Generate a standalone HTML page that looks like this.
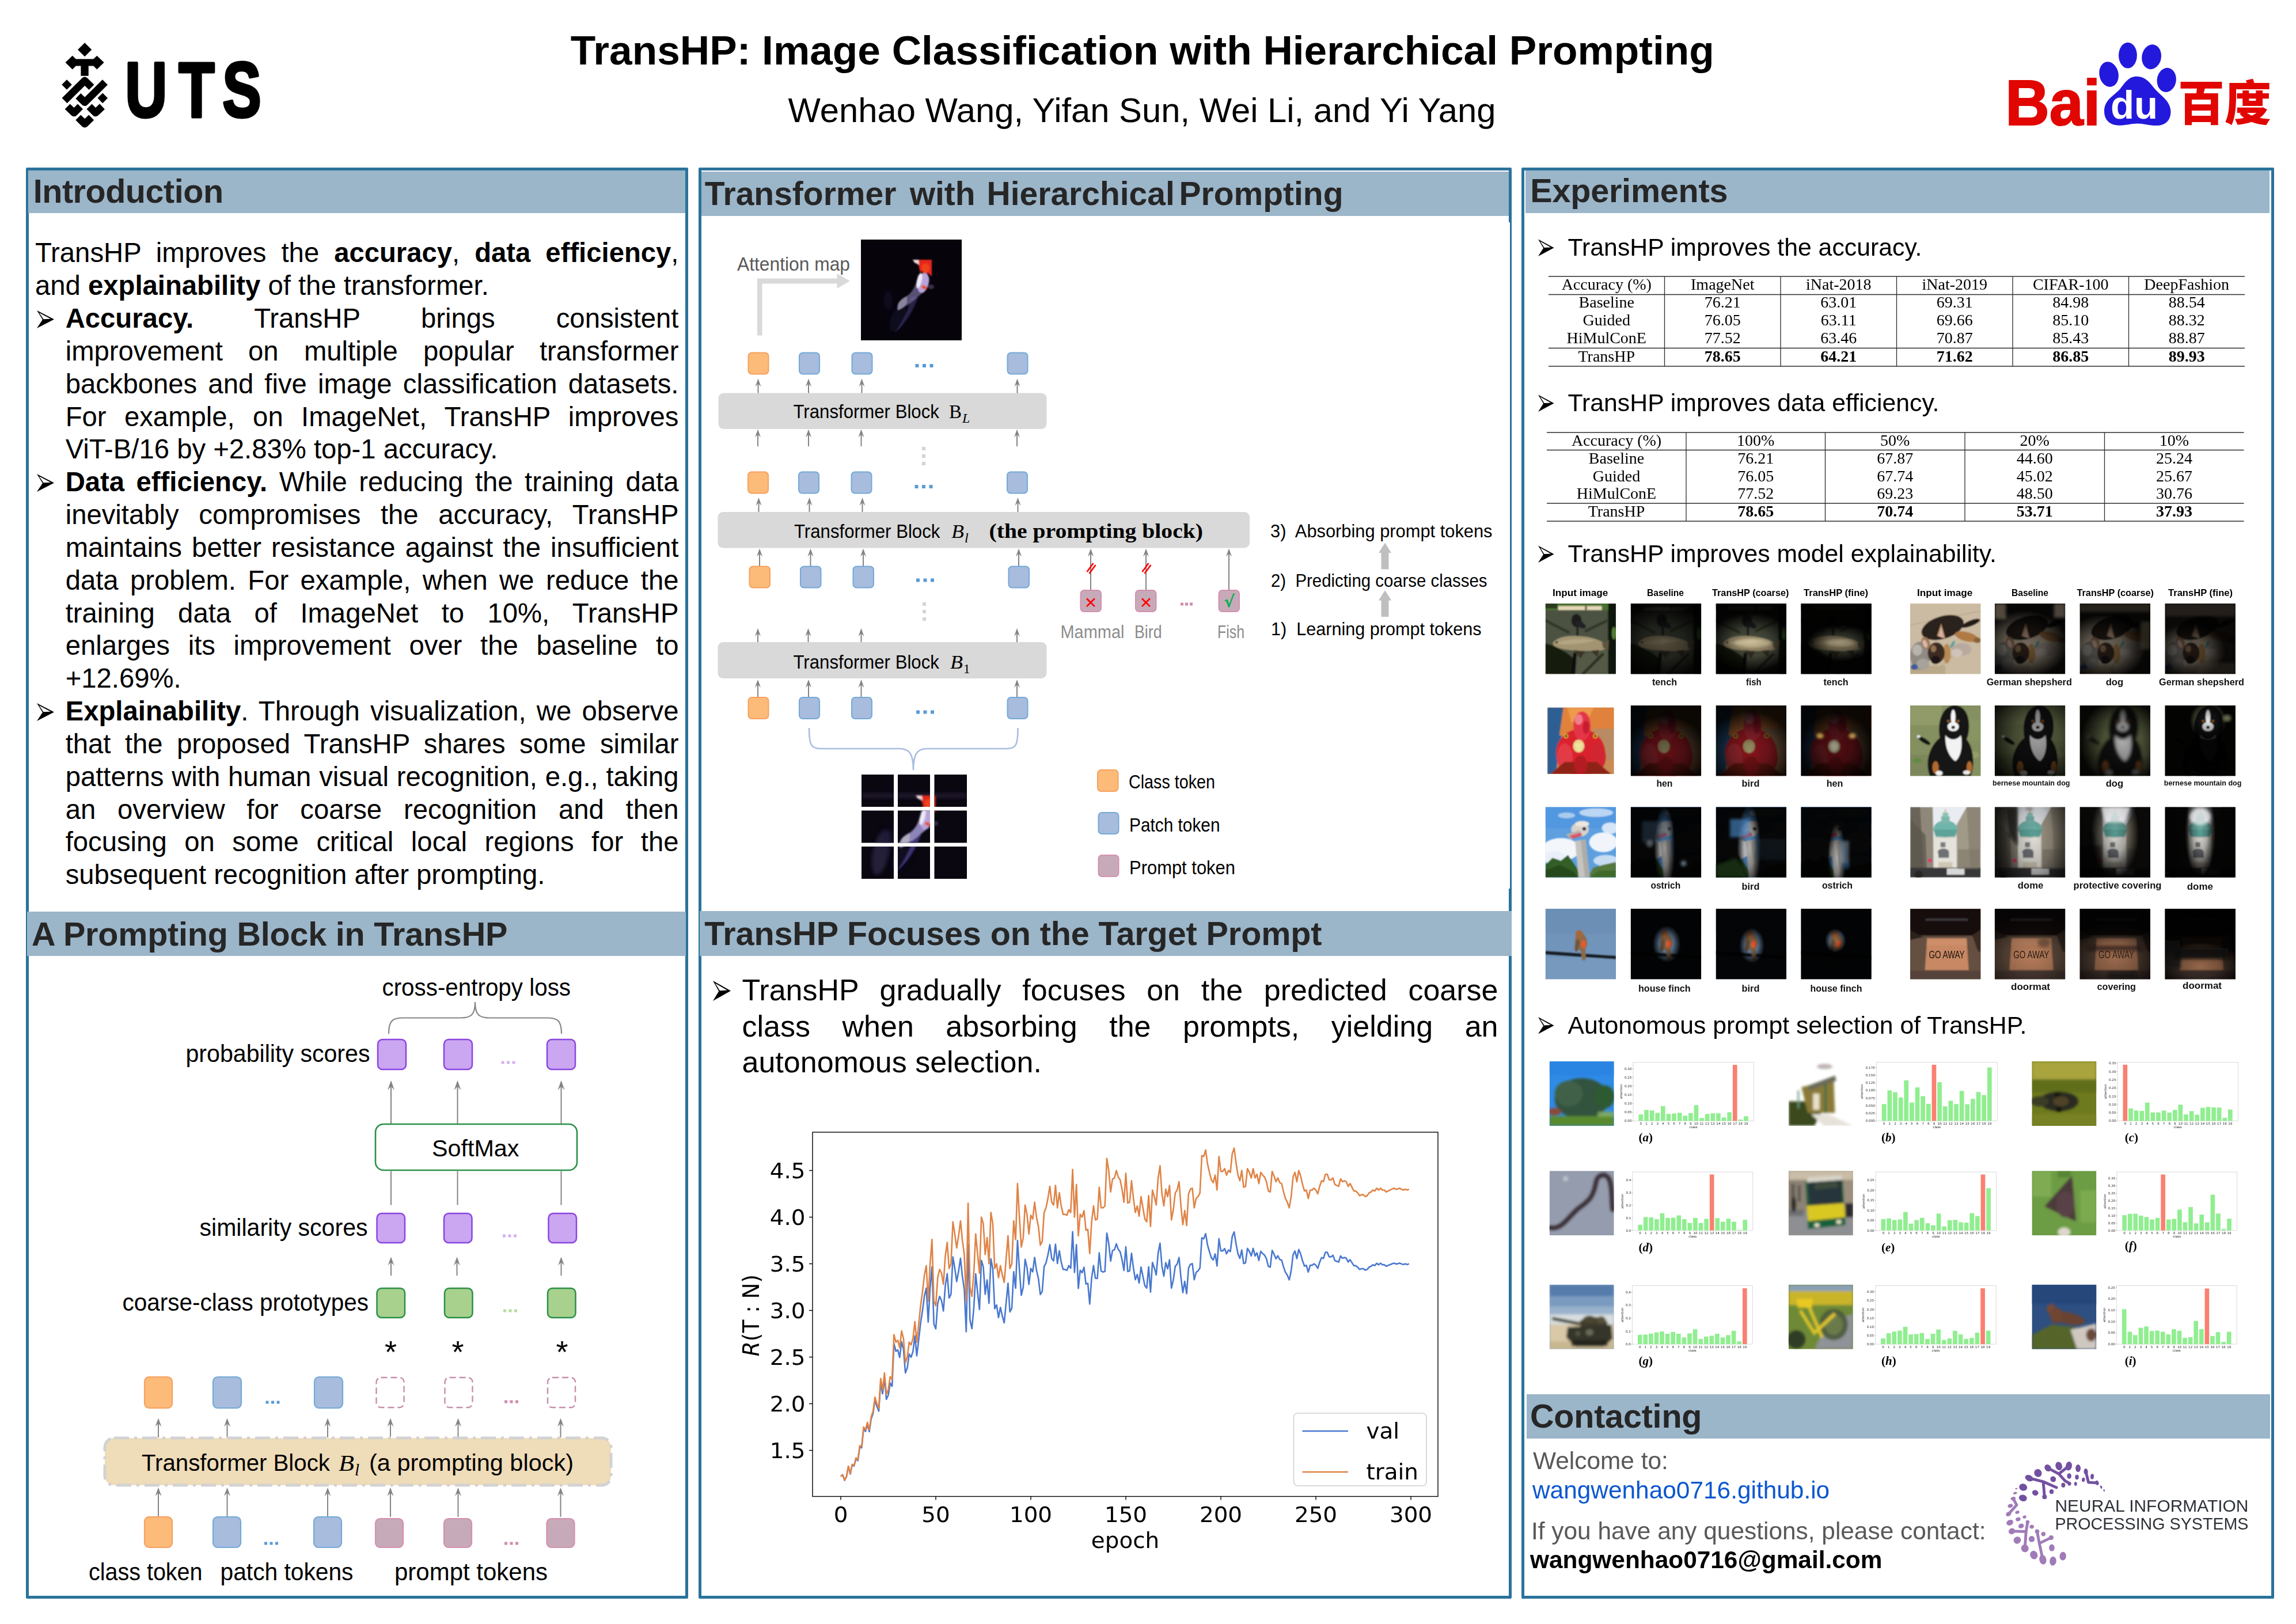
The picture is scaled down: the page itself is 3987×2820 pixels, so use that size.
<!DOCTYPE html>
<html lang="en"><head><meta charset="utf-8"><title>TransHP poster</title>
<style>
*{box-sizing:border-box;margin:0;padding:0}
html,body{width:3987px;height:2820px;background:#fff;overflow:hidden}
body{position:relative;font-family:"Liberation Sans",sans-serif;color:#000}
.abs{position:absolute}
.panel{position:absolute;border:5px solid #2a739b;border-radius:2px}
.band{position:absolute;background:#9bb5c9}
.h{position:absolute;font-weight:bold;font-size:57.5px;line-height:60px;color:#262626;white-space:nowrap;letter-spacing:-0.2px}
.t{position:absolute;white-space:nowrap}
body>svg,div>svg{position:absolute;overflow:visible}
svg text{white-space:pre}

.title{position:absolute;left:0;width:3967.5px;text-align:center;font-weight:bold;font-size:71.2px;line-height:80px;top:48.2px;white-space:nowrap}
.auth{position:absolute;left:0;width:3966px;text-align:center;font-size:59.75px;line-height:70px;top:157.2px;white-space:nowrap}

.intro{position:absolute;left:61px;top:411.3px;width:1117.5px;font-size:47.25px;line-height:56.85px;text-align:justify}
.intro .li{position:relative;padding-left:52.7px}

.foc{position:absolute;left:1288.5px;top:1688px;width:1313px;font-size:52px;line-height:62.7px;text-align:justify}
.foc .jl{text-align-last:justify;white-space:nowrap}
</style></head>
<body>
<div class="title">TransHP: Image Classification with Hierarchical Prompting</div>
<div class="auth">Wenhao Wang, Yifan Sun, Wei Li, and Yi Yang</div>
<svg class="abs" style="left:0;top:0" width="3987" height="2820" viewBox="0 0 3987 2820" font-family="Liberation Sans,sans-serif" ><g transform="translate(80,50) scale(0.18292,0.18292)" fill="#000"><polygon points="367,132 433,198 367,264 301,198"/><polygon points="183,320 250,255 283,287 450,287 483,255 550,320 483,385 450,353 403,353 403,447 330,447 330,353 283,353 250,385"/><polygon points="197,482 245,530 197,578 149,530"/><polygon points="537,610 585,658 537,706 489,658"/><path d="M175,682 L367,492 L432,555" fill="none" stroke="#000" stroke-width="70" stroke-linejoin="round"/><path d="M305,638 L367,698 L560,507" fill="none" stroke="#000" stroke-width="70" stroke-linejoin="round"/><path d="M203,738 L265,798 L325,738" fill="none" stroke="#000" stroke-width="70" stroke-linejoin="round"/><path d="M410,738 L470,798 L533,738" fill="none" stroke="#000" stroke-width="70" stroke-linejoin="round"/><path d="M305,842 L367,903 L430,842" fill="none" stroke="#000" stroke-width="70" stroke-linejoin="round"/></g><text x="217.22" y="203.3" font-size="136" font-weight="bold" textLength="72.96" lengthAdjust="spacingAndGlyphs" stroke="#000" stroke-width="5" stroke-linejoin="round">U</text><text x="310.26" y="203.3" font-size="136" font-weight="bold" textLength="62.28" lengthAdjust="spacingAndGlyphs" stroke="#000" stroke-width="5" stroke-linejoin="round">T</text><text x="386.2" y="203.3" font-size="136" font-weight="bold" textLength="67.46" lengthAdjust="spacingAndGlyphs" stroke="#000" stroke-width="5" stroke-linejoin="round">S</text><text x="3482.2" y="216.6" font-size="111.7" fill="#e10601" font-weight="bold" textLength="165" lengthAdjust="spacingAndGlyphs" stroke="#e10601" stroke-width="2.2">Bai</text><g transform="translate(3470,50) scale(0.21777)" fill="#2319dc"><ellipse cx="882" cy="363" rx="76" ry="101" transform="rotate(-12 882 363)"/><ellipse cx="1033" cy="212" rx="73" ry="103"/><ellipse cx="1222" cy="224" rx="77" ry="99" transform="rotate(10 1222 224)"/><ellipse cx="1342" cy="408" rx="76" ry="97" transform="rotate(8 1342 408)"/><path d="M1105,380 C1040,380 1010,430 975,475 C930,530 850,560 845,650 C842,735 900,770 960,770 C1020,770 1060,755 1110,755 C1160,755 1200,772 1260,772 C1330,772 1378,730 1375,655 C1370,570 1290,530 1245,475 C1205,425 1170,380 1105,380 Z"/></g><text x="3706" y="206.3" font-size="68" fill="#fff" font-weight="bold" text-anchor="middle" textLength="82" lengthAdjust="spacingAndGlyphs">du</text><text x="3782" y="209" font-size="82.5" fill="#e10601" font-weight="900" font-family="Liberation Sans,Noto Sans CJK SC,sans-serif" textLength="162" lengthAdjust="spacingAndGlyphs">百度</text></svg>
<div class="panel" style="left:44.5px;top:291px;width:1150.5px;height:2484.7px"></div>
<div class="panel" style="left:1213.4px;top:291px;width:1411.6px;height:2484.7px"></div>
<div class="panel" style="left:2642.3px;top:291px;width:1306.5px;height:2484.7px"></div>
<div class="abs" style="left:2616px;top:385.6px;width:6px;height:1157.4px;background:#fff"></div>
<div class="band" style="left:49px;top:295.6px;width:1141.3px;height:74px"></div>
<div class="h" style="left:57.7px;top:302.3px;letter-spacing:-0.45px">Introduction</div>
<div class="band" style="left:47px;top:1583px;width:1144px;height:77px"></div>
<div class="h" style="left:55px;top:1591.5px">A Prompting Block in TransHP</div>
<div class="intro"><div>TransHP improves the <b>accuracy</b>, <b>data efficiency</b>, and <b>explainability</b> of the transformer.</div><div class="li"><svg class="abs" style="left:3px;top:14px" width="30" height="32" viewBox="0 0 30 32"><path d="M0,0 L30,15.5 L0,31 L9.9,16.12 Z" fill="#000"/><path d="M3.9,4.03 L24,14.72 L11.55,15.19 Z" fill="#fff"/></svg><b>Accuracy.</b> TransHP brings consistent improvement on multiple popular transformer backbones and five image classification datasets. For example, on ImageNet, TransHP improves ViT-B/16 by +2.83% top-1 accuracy.</div><div class="li"><svg class="abs" style="left:3px;top:14px" width="30" height="32" viewBox="0 0 30 32"><path d="M0,0 L30,15.5 L0,31 L9.9,16.12 Z" fill="#000"/><path d="M3.9,4.03 L24,14.72 L11.55,15.19 Z" fill="#fff"/></svg><b>Data efficiency.</b> While reducing the training data inevitably compromises the accuracy, TransHP maintains better resistance against the insufficient data problem. For example, when we reduce the training data of ImageNet to 10%, TransHP enlarges its improvement over the baseline to +12.69%.</div><div class="li"><svg class="abs" style="left:3px;top:14px" width="30" height="32" viewBox="0 0 30 32"><path d="M0,0 L30,15.5 L0,31 L9.9,16.12 Z" fill="#000"/><path d="M3.9,4.03 L24,14.72 L11.55,15.19 Z" fill="#fff"/></svg><b>Explainability</b>. Through visualization, we observe that the proposed TransHP shares some similar patterns with human visual recognition, e.g., taking an overview for coarse recognition and then focusing on some critical local regions for the subsequent recognition after prompting.</div></div>
<svg class="abs" style="left:0;top:0" width="3987" height="2820" viewBox="0 0 3987 2820" font-family="Liberation Sans,sans-serif" ><text x="663.5" y="1728.7" font-size="42.5" textLength="327.5" lengthAdjust="spacingAndGlyphs">cross-entropy loss</text><path d="M675,1795 C675,1772 682,1767.5 700,1767.5 L800,1767.5 C818,1767.5 825,1762 825,1740 C825,1762 832,1767.5 850,1767.5 L950,1767.5 C968,1767.5 975,1772 975,1795" fill="none" stroke="#868686" stroke-width="2.2"/><text x="322.5" y="1843.7" font-size="42.5" textLength="320" lengthAdjust="spacingAndGlyphs">probability scores</text><rect x="656" y="1805" width="49" height="52" fill="#cba6f1" stroke="#8b46e2" stroke-width="2.5" rx="8"/><rect x="771" y="1805" width="49" height="52" fill="#cba6f1" stroke="#8b46e2" stroke-width="2.5" rx="8"/><rect x="950" y="1805" width="49" height="52" fill="#cba6f1" stroke="#8b46e2" stroke-width="2.5" rx="8"/><rect x="870.5" y="1842.5" width="5" height="5" fill="#d3b3f3"/><rect x="880" y="1842.5" width="5" height="5" fill="#d3b3f3"/><rect x="889.5" y="1842.5" width="5" height="5" fill="#d3b3f3"/><line x1="679" y1="1951" x2="679" y2="1885.35" stroke="#848484" stroke-width="2" /><path d="M679,1876 L685,1893 L679,1886.54 L673,1893 Z" fill="#848484"/><line x1="794.5" y1="1951" x2="794.5" y2="1885.35" stroke="#848484" stroke-width="2" /><path d="M794.5,1876 L800.5,1893 L794.5,1886.54 L788.5,1893 Z" fill="#848484"/><line x1="974.5" y1="1951" x2="974.5" y2="1885.35" stroke="#848484" stroke-width="2" /><path d="M974.5,1876 L980.5,1893 L974.5,1886.54 L968.5,1893 Z" fill="#848484"/><rect x="652" y="1952" width="350" height="80" fill="#fff" stroke="#2a9048" stroke-width="2.6" rx="14"/><text x="750" y="2007.7" font-size="41" textLength="151.5" lengthAdjust="spacingAndGlyphs">SoftMax</text><line x1="679" y1="2033.5" x2="679" y2="2092.5" stroke="#868686" stroke-width="2" /><line x1="794.5" y1="2033.5" x2="794.5" y2="2092.5" stroke="#868686" stroke-width="2" /><line x1="974.5" y1="2033.5" x2="974.5" y2="2092.5" stroke="#868686" stroke-width="2" /><text x="346.5" y="2146.2" font-size="42.5" textLength="292" lengthAdjust="spacingAndGlyphs">similarity scores</text><rect x="654.5" y="2107" width="48.5" height="51" fill="#cba6f1" stroke="#8b46e2" stroke-width="2.5" rx="8"/><rect x="771" y="2107" width="48.5" height="51" fill="#cba6f1" stroke="#8b46e2" stroke-width="2.5" rx="8"/><rect x="952.5" y="2107" width="48.5" height="51" fill="#cba6f1" stroke="#8b46e2" stroke-width="2.5" rx="8"/><rect x="873" y="2143.5" width="5" height="5" fill="#d3b3f3"/><rect x="882.5" y="2143.5" width="5" height="5" fill="#d3b3f3"/><rect x="892" y="2143.5" width="5" height="5" fill="#d3b3f3"/><line x1="679" y1="2215" x2="679" y2="2190.75" stroke="#848484" stroke-width="2" /><path d="M679,2182.5 L684.5,2197.5 L679,2191.8 L673.5,2197.5 Z" fill="#848484"/><line x1="793.5" y1="2215" x2="793.5" y2="2190.75" stroke="#848484" stroke-width="2" /><path d="M793.5,2182.5 L799,2197.5 L793.5,2191.8 L788,2197.5 Z" fill="#848484"/><line x1="974.5" y1="2215" x2="974.5" y2="2190.75" stroke="#848484" stroke-width="2" /><path d="M974.5,2182.5 L980,2197.5 L974.5,2191.8 L969,2197.5 Z" fill="#848484"/><text x="212.5" y="2276.2" font-size="42.5" textLength="427.5" lengthAdjust="spacingAndGlyphs">coarse-class prototypes</text><rect x="654.5" y="2237" width="48.5" height="51" fill="#a9d18e" stroke="#2a9048" stroke-width="2.5" rx="8"/><rect x="772" y="2237" width="48.5" height="51" fill="#a9d18e" stroke="#2a9048" stroke-width="2.5" rx="8"/><rect x="951" y="2237" width="48.5" height="51" fill="#a9d18e" stroke="#2a9048" stroke-width="2.5" rx="8"/><rect x="874" y="2273.5" width="5" height="5" fill="#b5dc9c"/><rect x="883.5" y="2273.5" width="5" height="5" fill="#b5dc9c"/><rect x="893" y="2273.5" width="5" height="5" fill="#b5dc9c"/><text x="678.5" y="2365.7" font-size="54" text-anchor="middle">*</text><text x="795" y="2365.7" font-size="54" text-anchor="middle">*</text><text x="976" y="2365.7" font-size="54" text-anchor="middle">*</text><rect x="251" y="2391" width="48" height="54" fill="#fdbb7a" stroke="#f5a15e" stroke-width="2.2" rx="8"/><rect x="370" y="2391" width="49" height="54" fill="#a8bcde" stroke="#74aad6" stroke-width="2.2" rx="8"/><rect x="546" y="2391" width="49" height="54" fill="#a8bcde" stroke="#74aad6" stroke-width="2.2" rx="8"/><rect x="461.5" y="2432.5" width="5" height="5" fill="#5b9bd5"/><rect x="471" y="2432.5" width="5" height="5" fill="#5b9bd5"/><rect x="480.5" y="2432.5" width="5" height="5" fill="#5b9bd5"/><rect x="653.5" y="2392" width="48" height="52" fill="#fff" stroke="#c78fab" stroke-width="2.4" rx="8" stroke-dasharray="11 6"/><rect x="772.5" y="2392" width="48" height="52" fill="#fff" stroke="#c78fab" stroke-width="2.4" rx="8" stroke-dasharray="11 6"/><rect x="951" y="2392" width="48" height="52" fill="#fff" stroke="#c78fab" stroke-width="2.4" rx="8" stroke-dasharray="11 6"/><rect x="876" y="2431.5" width="5" height="5" fill="#d08cae"/><rect x="885.5" y="2431.5" width="5" height="5" fill="#d08cae"/><rect x="895" y="2431.5" width="5" height="5" fill="#d08cae"/><line x1="275" y1="2496" x2="275" y2="2470.75" stroke="#848484" stroke-width="2" /><path d="M275,2462.5 L280.5,2477.5 L275,2471.8 L269.5,2477.5 Z" fill="#848484"/><line x1="394.5" y1="2496" x2="394.5" y2="2470.75" stroke="#848484" stroke-width="2" /><path d="M394.5,2462.5 L400,2477.5 L394.5,2471.8 L389,2477.5 Z" fill="#848484"/><line x1="569" y1="2496" x2="569" y2="2470.75" stroke="#848484" stroke-width="2" /><path d="M569,2462.5 L574.5,2477.5 L569,2471.8 L563.5,2477.5 Z" fill="#848484"/><line x1="678" y1="2496" x2="678" y2="2470.75" stroke="#848484" stroke-width="2" /><path d="M678,2462.5 L683.5,2477.5 L678,2471.8 L672.5,2477.5 Z" fill="#848484"/><line x1="795.5" y1="2496" x2="795.5" y2="2470.75" stroke="#848484" stroke-width="2" /><path d="M795.5,2462.5 L801,2477.5 L795.5,2471.8 L790,2477.5 Z" fill="#848484"/><line x1="973.5" y1="2496" x2="973.5" y2="2470.75" stroke="#848484" stroke-width="2" /><path d="M973.5,2462.5 L979,2477.5 L973.5,2471.8 L968,2477.5 Z" fill="#848484"/><rect x="182" y="2497" width="879" height="82" fill="#efdcb9" stroke="#d2d2d2" stroke-width="5" rx="16" stroke-dasharray="26 9 5 9"/><text x="246" y="2553.7" font-size="41" textLength="338" lengthAdjust="spacingAndGlyphs">Transformer Block </text><text x="588" y="2553.7" font-size="41" font-family="Liberation Serif,serif" font-style="italic" textLength="27" lengthAdjust="spacingAndGlyphs">B</text><text x="616" y="2562.2" font-size="29" font-family="Liberation Serif,serif" font-style="italic">l</text><text x="641" y="2553.7" font-size="41" textLength="355" lengthAdjust="spacingAndGlyphs">(a prompting block)</text><line x1="275" y1="2634" x2="275" y2="2591.25" stroke="#848484" stroke-width="2" /><path d="M275,2583 L280.5,2598 L275,2592.3 L269.5,2598 Z" fill="#848484"/><line x1="394.5" y1="2634" x2="394.5" y2="2591.25" stroke="#848484" stroke-width="2" /><path d="M394.5,2583 L400,2598 L394.5,2592.3 L389,2598 Z" fill="#848484"/><line x1="569" y1="2634" x2="569" y2="2591.25" stroke="#848484" stroke-width="2" /><path d="M569,2583 L574.5,2598 L569,2592.3 L563.5,2598 Z" fill="#848484"/><line x1="678" y1="2634" x2="678" y2="2591.25" stroke="#848484" stroke-width="2" /><path d="M678,2583 L683.5,2598 L678,2592.3 L672.5,2598 Z" fill="#848484"/><line x1="795.5" y1="2634" x2="795.5" y2="2591.25" stroke="#848484" stroke-width="2" /><path d="M795.5,2583 L801,2598 L795.5,2592.3 L790,2598 Z" fill="#848484"/><line x1="973.5" y1="2634" x2="973.5" y2="2591.25" stroke="#848484" stroke-width="2" /><path d="M973.5,2583 L979,2598 L973.5,2592.3 L968,2598 Z" fill="#848484"/><rect x="251" y="2634" width="48" height="53" fill="#fdbb7a" stroke="#f5a15e" stroke-width="2.2" rx="8"/><rect x="370" y="2634" width="48" height="53" fill="#a8bcde" stroke="#74aad6" stroke-width="2.2" rx="8"/><rect x="545" y="2634" width="48" height="53" fill="#a8bcde" stroke="#74aad6" stroke-width="2.2" rx="8"/><rect x="459" y="2677.5" width="5" height="5" fill="#5b9bd5"/><rect x="468.5" y="2677.5" width="5" height="5" fill="#5b9bd5"/><rect x="478" y="2677.5" width="5" height="5" fill="#5b9bd5"/><rect x="652" y="2637" width="48" height="50" fill="#c7aab9" stroke="#d590b0" stroke-width="2.2" rx="8"/><rect x="771" y="2637" width="48" height="50" fill="#c7aab9" stroke="#d590b0" stroke-width="2.2" rx="8"/><rect x="949.5" y="2637" width="48" height="50" fill="#c7aab9" stroke="#d590b0" stroke-width="2.2" rx="8"/><rect x="876" y="2677.5" width="5" height="5" fill="#d08cae"/><rect x="885.5" y="2677.5" width="5" height="5" fill="#d08cae"/><rect x="895" y="2677.5" width="5" height="5" fill="#d08cae"/><text x="154" y="2743.7" font-size="42.5" textLength="197.5" lengthAdjust="spacingAndGlyphs">class token</text><text x="382.5" y="2743.7" font-size="42.5" textLength="231" lengthAdjust="spacingAndGlyphs">patch tokens</text><text x="685" y="2743.7" font-size="42.5" textLength="266" lengthAdjust="spacingAndGlyphs">prompt tokens</text></svg>
<div class="band" style="left:1218.2px;top:297.5px;width:1402px;height:77px"></div>
<div class="h" style="left:1223.8px;top:305.5px;font-size:57px;letter-spacing:0">Transformer</div>
<div class="h" style="left:1579.7px;top:305.5px;font-size:57px;letter-spacing:0">with</div>
<div class="h" style="left:1713.5px;top:305.5px;font-size:57px;letter-spacing:0">Hierarchical</div>
<div class="h" style="left:2047.5px;top:305.5px;font-size:57px;letter-spacing:0">Prompting</div>
<div class="band" style="left:1215px;top:1582px;width:1410px;height:78px"></div>
<div class="h" style="left:1223.3px;top:1590.5px;letter-spacing:-0.07px">TransHP Focuses on the Target Prompt</div>
<svg class="abs" style="left:1238px;top:1703px" width="32" height="36" viewBox="0 0 32 36"><path d="M0,0 L31,17.5 L0,35 L10.23,18.2 Z" fill="#000"/><path d="M4.03,4.55 L24.8,16.62 L11.94,17.15 Z" fill="#fff"/></svg>
<div class="foc"><div class="jl">TransHP gradually focuses on the predicted coarse</div><div class="jl">class when absorbing the prompts, yielding an</div><div>autonomous selection.</div></div>
<svg class="abs" style="left:0;top:0" width="3987" height="2820" viewBox="0 0 3987 2820" font-family="Liberation Sans,sans-serif" ><defs><filter id="fb1" x="-20%" y="-20%" width="140%" height="140%"><feGaussianBlur stdDeviation="1.3"/></filter><filter id="fb" x="-20%" y="-20%" width="140%" height="140%"><feGaussianBlur stdDeviation="3"/></filter><filter id="fb2" x="-30%" y="-30%" width="160%" height="160%"><feGaussianBlur stdDeviation="6"/></filter></defs><text x="1280" y="470" font-size="32.8" fill="#595959" textLength="196" lengthAdjust="spacingAndGlyphs">Attention map</text><path d="M1315,582.5 L1315,483.5 L1453.5,483.5 L1453.5,475 L1476,488 L1453.5,501 L1453.5,492.5 L1323.5,492.5 L1323.5,582.5 Z" fill="#d9d9d9"/><g transform="translate(1495,416) scale(1.00000)"><rect x="0" y="0" width="175" height="175" fill="#06040a"/><g filter="url(#fb2)"><ellipse cx="47" cy="106" rx="6" ry="18" fill="#1a1632" opacity=".7"/><ellipse cx="64" cy="138" rx="12" ry="24" fill="#120f26" opacity=".8" transform="rotate(25 64 138)"/></g><g filter="url(#fb1)"><path d="M88,100 C82,122 70,148 57,163 C72,152 90,128 99,100 Z" fill="#43397a" opacity="0.54"/><path d="M99,62 C96,76 92,90 80,98 C70,103 61,110 64,123 C74,119 86,111 97,101 C108,92 118,84 119,70 C119,60 108,55 99,62 Z" fill="#8d84b8" opacity="0.6"/><path d="M80,98 C70,103 61,110 64,123 C70,121 76,116 80,110 Z" fill="#b5b0c2" opacity="0.54"/><ellipse cx="108" cy="75" rx="9.5" ry="18" fill="#b9a3dc" transform="rotate(12 108 75)"/><ellipse cx="101.5" cy="71" rx="4" ry="14" fill="#efeaf6" transform="rotate(14 101.5 71)"/><polygon points="90,35 123,35 123,64 113,55 103,58 100,44" fill="#e3281a"/><polygon points="90,35 100,35 101,44 93,40" fill="#e8d8d8"/><ellipse cx="112" cy="50" rx="7" ry="9" fill="#f0401c"/><ellipse cx="105.6" cy="57" rx="2.4" ry="2.6" fill="#0c0814"/><ellipse cx="110" cy="83" rx="5" ry="3" fill="#e85020" transform="rotate(25 110 83)"/><ellipse cx="122" cy="82" rx="5" ry="4" fill="#4a3a5a" opacity=".8"/></g></g><rect x="1299.5" y="612.5" width="35" height="37" fill="#fdbb7a" stroke="#f5a15e" stroke-width="2" rx="6"/><rect x="1388" y="612.5" width="35" height="37" fill="#a8bcde" stroke="#74aad6" stroke-width="2" rx="6"/><rect x="1479.5" y="612.5" width="35" height="37" fill="#a8bcde" stroke="#74aad6" stroke-width="2" rx="6"/><rect x="1749.5" y="612.5" width="35" height="37" fill="#a8bcde" stroke="#74aad6" stroke-width="2" rx="6"/><rect x="1589.5" y="632" width="6" height="6" fill="#5b9bd5"/><rect x="1602" y="632" width="6" height="6" fill="#5b9bd5"/><rect x="1614.5" y="632" width="6" height="6" fill="#5b9bd5"/><line x1="1316.5" y1="683" x2="1316.5" y2="665.2" stroke="#848484" stroke-width="2" /><path d="M1316.5,657.5 L1321.5,671.5 L1316.5,666.18 L1311.5,671.5 Z" fill="#848484"/><line x1="1404" y1="683" x2="1404" y2="665.2" stroke="#848484" stroke-width="2" /><path d="M1404,657.5 L1409,671.5 L1404,666.18 L1399,671.5 Z" fill="#848484"/><line x1="1496.5" y1="683" x2="1496.5" y2="665.2" stroke="#848484" stroke-width="2" /><path d="M1496.5,657.5 L1501.5,671.5 L1496.5,666.18 L1491.5,671.5 Z" fill="#848484"/><line x1="1766.5" y1="683" x2="1766.5" y2="665.2" stroke="#848484" stroke-width="2" /><path d="M1766.5,657.5 L1771.5,671.5 L1766.5,666.18 L1761.5,671.5 Z" fill="#848484"/><rect x="1247.5" y="682.5" width="570" height="62.5" fill="#d9d9d9" rx="9"/><text x="1377.5" y="726" font-size="33" textLength="262" lengthAdjust="spacingAndGlyphs">Transformer Block </text><text x="1648" y="726" font-size="34" font-family="Liberation Serif,serif" textLength="22" lengthAdjust="spacingAndGlyphs">B</text><text x="1671" y="734" font-size="24" font-family="Liberation Serif,serif" font-style="italic">L</text><line x1="1316" y1="775" x2="1316" y2="753.2" stroke="#848484" stroke-width="2" /><path d="M1316,745.5 L1321,759.5 L1316,754.18 L1311,759.5 Z" fill="#848484"/><line x1="1404" y1="775" x2="1404" y2="753.2" stroke="#848484" stroke-width="2" /><path d="M1404,745.5 L1409,759.5 L1404,754.18 L1399,759.5 Z" fill="#848484"/><line x1="1495.5" y1="775" x2="1495.5" y2="753.2" stroke="#848484" stroke-width="2" /><path d="M1495.5,745.5 L1500.5,759.5 L1495.5,754.18 L1490.5,759.5 Z" fill="#848484"/><line x1="1766" y1="775" x2="1766" y2="753.2" stroke="#848484" stroke-width="2" /><path d="M1766,745.5 L1771,759.5 L1766,754.18 L1761,759.5 Z" fill="#848484"/><rect x="1601" y="776" width="6" height="6" fill="#d4d4d4"/><rect x="1601" y="789" width="6" height="6" fill="#d4d4d4"/><rect x="1601" y="802" width="6" height="6" fill="#d4d4d4"/><rect x="1299" y="819.5" width="35" height="37" fill="#fdbb7a" stroke="#f5a15e" stroke-width="2" rx="6"/><rect x="1387" y="819.5" width="35" height="37" fill="#a8bcde" stroke="#74aad6" stroke-width="2" rx="6"/><rect x="1478.5" y="819.5" width="35" height="37" fill="#a8bcde" stroke="#74aad6" stroke-width="2" rx="6"/><rect x="1749" y="819.5" width="35" height="37" fill="#a8bcde" stroke="#74aad6" stroke-width="2" rx="6"/><rect x="1588.5" y="842" width="6" height="6" fill="#5b9bd5"/><rect x="1601" y="842" width="6" height="6" fill="#5b9bd5"/><rect x="1613.5" y="842" width="6" height="6" fill="#5b9bd5"/><line x1="1317.5" y1="890" x2="1317.5" y2="871.7" stroke="#848484" stroke-width="2" /><path d="M1317.5,864 L1322.5,878 L1317.5,872.68 L1312.5,878 Z" fill="#848484"/><line x1="1405.5" y1="890" x2="1405.5" y2="871.7" stroke="#848484" stroke-width="2" /><path d="M1405.5,864 L1410.5,878 L1405.5,872.68 L1400.5,878 Z" fill="#848484"/><line x1="1497.5" y1="890" x2="1497.5" y2="871.7" stroke="#848484" stroke-width="2" /><path d="M1497.5,864 L1502.5,878 L1497.5,872.68 L1492.5,878 Z" fill="#848484"/><line x1="1767.5" y1="890" x2="1767.5" y2="871.7" stroke="#848484" stroke-width="2" /><path d="M1767.5,864 L1772.5,878 L1767.5,872.68 L1762.5,878 Z" fill="#848484"/><rect x="1246.5" y="889" width="923.5" height="62.5" fill="#d9d9d9" rx="9"/><text x="1379" y="934" font-size="33" textLength="262" lengthAdjust="spacingAndGlyphs">Transformer Block </text><text x="1652" y="934" font-size="34" font-family="Liberation Serif,serif" font-style="italic" textLength="22" lengthAdjust="spacingAndGlyphs">B</text><text x="1675" y="942" font-size="24" font-family="Liberation Serif,serif" font-style="italic">l</text><text x="1717.5" y="934" font-size="36.5" font-weight="bold" font-family="Liberation Serif,serif" textLength="371.5" lengthAdjust="spacingAndGlyphs">(the prompting block)</text><line x1="1319" y1="983" x2="1319" y2="960.2" stroke="#848484" stroke-width="2" /><path d="M1319,952.5 L1324,966.5 L1319,961.18 L1314,966.5 Z" fill="#848484"/><line x1="1407.5" y1="983" x2="1407.5" y2="960.2" stroke="#848484" stroke-width="2" /><path d="M1407.5,952.5 L1412.5,966.5 L1407.5,961.18 L1402.5,966.5 Z" fill="#848484"/><line x1="1499" y1="983" x2="1499" y2="960.2" stroke="#848484" stroke-width="2" /><path d="M1499,952.5 L1504,966.5 L1499,961.18 L1494,966.5 Z" fill="#848484"/><line x1="1769" y1="983" x2="1769" y2="960.2" stroke="#848484" stroke-width="2" /><path d="M1769,952.5 L1774,966.5 L1769,961.18 L1764,966.5 Z" fill="#848484"/><rect x="1301.5" y="983.5" width="35.5" height="37" fill="#fdbb7a" stroke="#f5a15e" stroke-width="2" rx="6"/><rect x="1390" y="983.5" width="35.5" height="37" fill="#a8bcde" stroke="#74aad6" stroke-width="2" rx="6"/><rect x="1481.5" y="983.5" width="35.5" height="37" fill="#a8bcde" stroke="#74aad6" stroke-width="2" rx="6"/><rect x="1751.5" y="983.5" width="35.5" height="37" fill="#a8bcde" stroke="#74aad6" stroke-width="2" rx="6"/><rect x="1591" y="1004.5" width="6" height="6" fill="#5b9bd5"/><rect x="1603.5" y="1004.5" width="6" height="6" fill="#5b9bd5"/><rect x="1616" y="1004.5" width="6" height="6" fill="#5b9bd5"/><rect x="1602" y="1046" width="6" height="6" fill="#d4d4d4"/><rect x="1602" y="1059" width="6" height="6" fill="#d4d4d4"/><rect x="1602" y="1072" width="6" height="6" fill="#d4d4d4"/><line x1="1894" y1="1025" x2="1894" y2="960.2" stroke="#848484" stroke-width="2" /><path d="M1894,952.5 L1899,966.5 L1894,961.18 L1889,966.5 Z" fill="#848484"/><line x1="1990" y1="1025" x2="1990" y2="960.2" stroke="#848484" stroke-width="2" /><path d="M1990,952.5 L1995,966.5 L1990,961.18 L1985,966.5 Z" fill="#848484"/><line x1="2134" y1="1025" x2="2134" y2="960.2" stroke="#848484" stroke-width="2" /><path d="M2134,952.5 L2139,966.5 L2134,961.18 L2129,966.5 Z" fill="#848484"/><line x1="1887.5" y1="993" x2="1898.5" y2="978" stroke="#ff0000" stroke-width="2.6" /><line x1="1891.5" y1="996" x2="1902.5" y2="981" stroke="#ff0000" stroke-width="2.6" /><line x1="1983.5" y1="993" x2="1994.5" y2="978" stroke="#ff0000" stroke-width="2.6" /><line x1="1987.5" y1="996" x2="1998.5" y2="981" stroke="#ff0000" stroke-width="2.6" /><rect x="1876.5" y="1025" width="35.5" height="37" fill="#c7aab9" stroke="#d590b0" stroke-width="2" rx="6"/><rect x="1972" y="1025" width="35.5" height="37" fill="#c7aab9" stroke="#d590b0" stroke-width="2" rx="6"/><rect x="2116.5" y="1025" width="35.5" height="37" fill="#c7aab9" stroke="#d590b0" stroke-width="2" rx="6"/><text x="1894" y="1055.5" font-size="27" fill="#ff0000" font-family="DejaVu Sans,sans-serif" text-anchor="middle">✕</text><text x="1990" y="1055.5" font-size="27" fill="#ff0000" font-family="DejaVu Sans,sans-serif" text-anchor="middle">✕</text><text x="2134.5" y="1054" font-size="28" fill="#00b050" font-weight="bold" font-family="DejaVu Sans,sans-serif" text-anchor="middle">√</text><rect x="2050" y="1046.5" width="5" height="5" fill="#d08cae"/><rect x="2058" y="1046.5" width="5" height="5" fill="#d08cae"/><rect x="2066" y="1046.5" width="5" height="5" fill="#d08cae"/><text x="1841.5" y="1107.5" font-size="31" fill="#8c8c8c" textLength="111" lengthAdjust="spacingAndGlyphs">Mammal</text><text x="1970" y="1107.5" font-size="31" fill="#8c8c8c" textLength="47.5" lengthAdjust="spacingAndGlyphs">Bird</text><text x="2114" y="1107.5" font-size="31" fill="#8c8c8c" textLength="47" lengthAdjust="spacingAndGlyphs">Fish</text><text x="2206" y="932.5" font-size="32" textLength="385.5" lengthAdjust="spacingAndGlyphs">3)  Absorbing prompt tokens</text><text x="2207" y="1019" font-size="32" textLength="375.5" lengthAdjust="spacingAndGlyphs">2)  Predicting coarse classes</text><text x="2207" y="1102.5" font-size="32" textLength="365.5" lengthAdjust="spacingAndGlyphs">1)  Learning prompt tokens</text><path d="M2405,942.5 L2416,960 L2411.5,960 L2411.5,988.5 L2398.5,988.5 L2398.5,960 L2394,960 Z" fill="#bfbfbf"/><path d="M2405,1025 L2416,1042.5 L2411.5,1042.5 L2411.5,1071 L2398.5,1071 L2398.5,1042.5 L2394,1042.5 Z" fill="#bfbfbf"/><line x1="1316" y1="1116" x2="1316" y2="1098.7" stroke="#848484" stroke-width="2" /><path d="M1316,1091 L1321,1105 L1316,1099.68 L1311,1105 Z" fill="#848484"/><line x1="1403.5" y1="1116" x2="1403.5" y2="1098.7" stroke="#848484" stroke-width="2" /><path d="M1403.5,1091 L1408.5,1105 L1403.5,1099.68 L1398.5,1105 Z" fill="#848484"/><line x1="1495.5" y1="1116" x2="1495.5" y2="1098.7" stroke="#848484" stroke-width="2" /><path d="M1495.5,1091 L1500.5,1105 L1495.5,1099.68 L1490.5,1105 Z" fill="#848484"/><line x1="1766" y1="1116" x2="1766" y2="1098.7" stroke="#848484" stroke-width="2" /><path d="M1766,1091 L1771,1105 L1766,1099.68 L1761,1105 Z" fill="#848484"/><rect x="1246.5" y="1115" width="571" height="63" fill="#d9d9d9" rx="9"/><text x="1377.5" y="1161" font-size="33" textLength="262" lengthAdjust="spacingAndGlyphs">Transformer Block </text><text x="1650" y="1161" font-size="34" font-family="Liberation Serif,serif" font-style="italic" textLength="22" lengthAdjust="spacingAndGlyphs">B</text><text x="1673" y="1169" font-size="23" font-family="Liberation Serif,serif">1</text><line x1="1316" y1="1211" x2="1316" y2="1187.7" stroke="#848484" stroke-width="2" /><path d="M1316,1180 L1321,1194 L1316,1188.68 L1311,1194 Z" fill="#848484"/><line x1="1404" y1="1211" x2="1404" y2="1187.7" stroke="#848484" stroke-width="2" /><path d="M1404,1180 L1409,1194 L1404,1188.68 L1399,1194 Z" fill="#848484"/><line x1="1495.5" y1="1211" x2="1495.5" y2="1187.7" stroke="#848484" stroke-width="2" /><path d="M1495.5,1180 L1500.5,1194 L1495.5,1188.68 L1490.5,1194 Z" fill="#848484"/><line x1="1766" y1="1211" x2="1766" y2="1187.7" stroke="#848484" stroke-width="2" /><path d="M1766,1180 L1771,1194 L1766,1188.68 L1761,1194 Z" fill="#848484"/><rect x="1299.5" y="1211" width="35" height="37" fill="#fdbb7a" stroke="#f5a15e" stroke-width="2" rx="6"/><rect x="1388" y="1211" width="35" height="37" fill="#a8bcde" stroke="#74aad6" stroke-width="2" rx="6"/><rect x="1479" y="1211" width="35" height="37" fill="#a8bcde" stroke="#74aad6" stroke-width="2" rx="6"/><rect x="1749.5" y="1211" width="35" height="37" fill="#a8bcde" stroke="#74aad6" stroke-width="2" rx="6"/><rect x="1591" y="1233.5" width="6" height="6" fill="#5b9bd5"/><rect x="1603.5" y="1233.5" width="6" height="6" fill="#5b9bd5"/><rect x="1616" y="1233.5" width="6" height="6" fill="#5b9bd5"/><path d="M1405,1264 C1405,1292 1408,1300 1424,1300 L1562,1300 C1580,1300 1586,1310 1586,1337.5 C1586,1310 1592,1300 1610,1300 L1749,1300 C1765,1300 1767.5,1292 1767.5,1264" fill="none" stroke="#a9bde0" stroke-width="2.6"/><clipPath id="gc"><rect x="1496" y="1345" width="56" height="56" fill="#000"/><rect x="1496" y="1407.5" width="56" height="56" fill="#000"/><rect x="1496" y="1470" width="56" height="56" fill="#000"/><rect x="1559" y="1345" width="56" height="56" fill="#000"/><rect x="1559" y="1407.5" width="56" height="56" fill="#000"/><rect x="1559" y="1470" width="56" height="56" fill="#000"/><rect x="1622.5" y="1345" width="56.5" height="56" fill="#000"/><rect x="1622.5" y="1407.5" width="56.5" height="56" fill="#000"/><rect x="1622.5" y="1470" width="56.5" height="56" fill="#000"/></clipPath><g clip-path="url(#gc)"><rect x="1496" y="1345" width="183" height="181" fill="#0a0711"/><g filter="url(#fb)"><rect x="1496" y="1378" width="183" height="7" fill="#2a2238" opacity=".8"/><ellipse cx="1530" cy="1480" rx="14" ry="40" fill="#2a2546" opacity=".8" transform="rotate(12 1530 1480)"/></g><g transform="translate(1496,1345) scale(1.046,1.034)"><g filter="url(#fb2)"><ellipse cx="47" cy="106" rx="6" ry="18" fill="#1a1632" opacity=".7"/><ellipse cx="64" cy="138" rx="12" ry="24" fill="#120f26" opacity=".8" transform="rotate(25 64 138)"/></g><g filter="url(#fb1)"><path d="M88,100 C82,122 70,148 57,163 C72,152 90,128 99,100 Z" fill="#43397a" opacity="0.9"/><path d="M99,62 C96,76 92,90 80,98 C70,103 61,110 64,123 C74,119 86,111 97,101 C108,92 118,84 119,70 C119,60 108,55 99,62 Z" fill="#8d84b8" opacity="1"/><path d="M80,98 C70,103 61,110 64,123 C70,121 76,116 80,110 Z" fill="#b5b0c2" opacity="0.9"/><ellipse cx="108" cy="75" rx="9.5" ry="18" fill="#b9a3dc" transform="rotate(12 108 75)"/><ellipse cx="101.5" cy="71" rx="4" ry="14" fill="#efeaf6" transform="rotate(14 101.5 71)"/><polygon points="90,35 123,35 123,64 113,55 103,58 100,44" fill="#e3281a"/><polygon points="90,35 100,35 101,44 93,40" fill="#e8d8d8"/><ellipse cx="112" cy="50" rx="7" ry="9" fill="#f0401c"/><ellipse cx="105.6" cy="57" rx="2.4" ry="2.6" fill="#0c0814"/><ellipse cx="110" cy="83" rx="5" ry="3" fill="#e85020" transform="rotate(25 110 83)"/><ellipse cx="122" cy="82" rx="5" ry="4" fill="#4a3a5a" opacity=".8"/></g></g></g><rect x="1906" y="1337" width="35.5" height="37" fill="#fdbb7a" stroke="#f5a15e" stroke-width="2" rx="6"/><text x="1960" y="1369" font-size="32.5" textLength="150" lengthAdjust="spacingAndGlyphs">Class token</text><rect x="1907.5" y="1411" width="35" height="37" fill="#a8bcde" stroke="#74aad6" stroke-width="2" rx="6"/><text x="1961" y="1444" font-size="32.5" textLength="157.5" lengthAdjust="spacingAndGlyphs">Patch token</text><rect x="1907.5" y="1485" width="35" height="37" fill="#c7aab9" stroke="#d590b0" stroke-width="2" rx="6"/><text x="1961" y="1517.5" font-size="32.5" textLength="184" lengthAdjust="spacingAndGlyphs">Prompt token</text></svg>
<svg class="abs" style="left:0;top:0" width="3987" height="2820" viewBox="0 0 3987 2820" font-family="Liberation Sans,sans-serif" ><rect x="1411" y="1966" width="1086" height="632.5" fill="#fff" stroke="#000" stroke-width="1.4"/><line x1="1405" y1="2518.5" x2="1411" y2="2518.5" stroke="#000" stroke-width="1.4" /><text transform="translate(1398.5 2532.3) scale(1.065 1.025)" font-size="36.5" font-family="DejaVu Sans,sans-serif" text-anchor="end">1.5</text><line x1="1405" y1="2437.5" x2="1411" y2="2437.5" stroke="#000" stroke-width="1.4" /><text transform="translate(1398.5 2451.3) scale(1.065 1.025)" font-size="36.5" font-family="DejaVu Sans,sans-serif" text-anchor="end">2.0</text><line x1="1405" y1="2356.5" x2="1411" y2="2356.5" stroke="#000" stroke-width="1.4" /><text transform="translate(1398.5 2370.3) scale(1.065 1.025)" font-size="36.5" font-family="DejaVu Sans,sans-serif" text-anchor="end">2.5</text><line x1="1405" y1="2275.5" x2="1411" y2="2275.5" stroke="#000" stroke-width="1.4" /><text transform="translate(1398.5 2289.3) scale(1.065 1.025)" font-size="36.5" font-family="DejaVu Sans,sans-serif" text-anchor="end">3.0</text><line x1="1405" y1="2194.5" x2="1411" y2="2194.5" stroke="#000" stroke-width="1.4" /><text transform="translate(1398.5 2208.3) scale(1.065 1.025)" font-size="36.5" font-family="DejaVu Sans,sans-serif" text-anchor="end">3.5</text><line x1="1405" y1="2113.5" x2="1411" y2="2113.5" stroke="#000" stroke-width="1.4" /><text transform="translate(1398.5 2127.3) scale(1.065 1.025)" font-size="36.5" font-family="DejaVu Sans,sans-serif" text-anchor="end">4.0</text><line x1="1405" y1="2032.5" x2="1411" y2="2032.5" stroke="#000" stroke-width="1.4" /><text transform="translate(1398.5 2046.3) scale(1.065 1.025)" font-size="36.5" font-family="DejaVu Sans,sans-serif" text-anchor="end">4.5</text><line x1="1460" y1="2598.5" x2="1460" y2="2604.5" stroke="#000" stroke-width="1.4" /><text transform="translate(1460 2643.3) scale(1.065 1.025)" font-size="36.5" font-family="DejaVu Sans,sans-serif" text-anchor="middle">0</text><line x1="1625" y1="2598.5" x2="1625" y2="2604.5" stroke="#000" stroke-width="1.4" /><text transform="translate(1625 2643.3) scale(1.065 1.025)" font-size="36.5" font-family="DejaVu Sans,sans-serif" text-anchor="middle">50</text><line x1="1790" y1="2598.5" x2="1790" y2="2604.5" stroke="#000" stroke-width="1.4" /><text transform="translate(1790 2643.3) scale(1.065 1.025)" font-size="36.5" font-family="DejaVu Sans,sans-serif" text-anchor="middle">100</text><line x1="1955" y1="2598.5" x2="1955" y2="2604.5" stroke="#000" stroke-width="1.4" /><text transform="translate(1955 2643.3) scale(1.065 1.025)" font-size="36.5" font-family="DejaVu Sans,sans-serif" text-anchor="middle">150</text><line x1="2120" y1="2598.5" x2="2120" y2="2604.5" stroke="#000" stroke-width="1.4" /><text transform="translate(2120 2643.3) scale(1.065 1.025)" font-size="36.5" font-family="DejaVu Sans,sans-serif" text-anchor="middle">200</text><line x1="2285" y1="2598.5" x2="2285" y2="2604.5" stroke="#000" stroke-width="1.4" /><text transform="translate(2285 2643.3) scale(1.065 1.025)" font-size="36.5" font-family="DejaVu Sans,sans-serif" text-anchor="middle">250</text><line x1="2450" y1="2598.5" x2="2450" y2="2604.5" stroke="#000" stroke-width="1.4" /><text transform="translate(2450 2643.3) scale(1.065 1.025)" font-size="36.5" font-family="DejaVu Sans,sans-serif" text-anchor="middle">300</text><text transform="translate(1954 2687.8) scale(1.065 1.025)" font-size="36.5" font-family="DejaVu Sans,sans-serif" text-anchor="middle">epoch</text><text transform="translate(1317.5,2284) scale(1.065 1.025) rotate(-90)" font-size="36.5" text-anchor="middle" font-family="DejaVu Sans,sans-serif"><tspan font-style="italic">R</tspan>(T : N)</text><polyline fill="none" stroke="#4878cf" stroke-width="2.6" stroke-linejoin="round" points="1460,2563.86 1463.3,2560.77 1466.6,2570.63 1469.9,2564.3 1473.2,2546.69 1476.5,2559.76 1479.8,2543.78 1483.1,2545.56 1486.4,2532.84 1489.7,2536.23 1493,2512.28 1496.3,2514.08 1499.6,2480.55 1502.9,2485.58 1506.2,2472.96 1509.5,2485.99 1512.8,2463.8 1516.1,2454.43 1519.4,2430.69 1522.7,2442.12 1526,2450.34 1529.3,2400.2 1532.6,2420.17 1535.9,2392.53 1539.2,2429.8 1542.5,2422.78 1545.8,2401.65 1549.1,2407.28 1552.4,2333.16 1555.7,2346.38 1559,2343.98 1562.3,2357.15 1565.6,2329.91 1568.9,2343.05 1572.2,2384.01 1575.5,2375.4 1578.8,2351.41 1582.1,2356.74 1585.4,2346.7 1588.7,2319.82 1592,2354.28 1595.3,2326.52 1598.6,2297.42 1601.9,2276.08 1605.2,2250.35 1608.5,2236.85 1611.8,2295.58 1615.1,2237.1 1618.4,2199.89 1621.7,2299.25 1625,2307.48 1628.3,2263.66 1631.6,2251.16 1634.9,2257.95 1638.2,2276.55 1641.5,2233.09 1644.8,2211.89 1648.1,2254.02 1651.4,2247.55 1654.7,2182.46 1658,2202.48 1661.3,2225.36 1664.6,2207.32 1667.9,2184.99 1671.2,2216.51 1674.5,2239.21 1677.8,2312.53 1681.1,2161.31 1684.4,2292.14 1687.7,2307.22 1691,2271.86 1694.3,2212.15 1697.6,2244.53 1700.9,2273.94 1704.2,2188.72 1707.5,2199.54 1710.8,2247.46 1714.1,2222.53 1717.4,2263.17 1720.7,2185.69 1724,2203.55 1727.3,2272.4 1730.6,2266.03 1733.9,2287.94 1737.2,2270.28 1740.5,2285.08 1743.8,2297.03 1747.1,2262.57 1750.4,2228.21 1753.7,2278.03 1757,2271.74 1760.3,2208.18 1763.6,2236.89 1766.9,2154.06 1770.2,2204.39 1773.5,2249.12 1776.8,2235.35 1780.1,2186.81 1783.4,2200.9 1786.7,2230.27 1790,2202.63 1793.3,2208.36 1796.6,2183.52 1799.9,2205.93 1803.2,2219.98 1806.5,2247.91 1809.8,2242.52 1813.1,2199.67 1816.4,2192.91 1819.7,2179.22 1823,2161.38 1826.3,2185.12 1829.6,2189.45 1832.9,2160.55 1836.2,2193.96 1839.5,2171.99 1842.8,2191.54 1846.1,2204.16 1849.4,2204.34 1852.7,2205.89 1856,2197.77 1859.3,2202.09 1862.6,2138.74 1865.9,2209.34 1869.2,2161.21 1872.5,2237.27 1875.8,2205.71 1879.1,2210.02 1882.4,2200.54 1885.7,2229.65 1889,2228.44 1892.3,2264.4 1895.6,2219.22 1898.9,2197.59 1902.2,2219.76 1905.5,2220.04 1908.8,2175.58 1912.1,2207.11 1915.4,2208.81 1918.7,2207.82 1922,2141.2 1925.3,2158.86 1928.6,2189.88 1931.9,2171.38 1935.2,2170.27 1938.5,2159.81 1941.8,2169.4 1945.1,2173.65 1948.4,2187.23 1951.7,2206.15 1955,2165 1958.3,2207.93 1961.6,2206.81 1964.9,2176.38 1968.2,2201.92 1971.5,2222.12 1974.8,2213.02 1978.1,2227.87 1981.4,2200.15 1984.7,2216.33 1988,2232.5 1991.3,2236.7 1994.6,2199.72 1997.9,2243.75 2001.2,2192.2 2004.5,2201.72 2007.8,2213.87 2011.1,2175.66 2014.4,2158.67 2017.7,2198.64 2021,2216.07 2024.3,2192.47 2027.6,2203.28 2030.9,2187.64 2034.2,2236.77 2037.5,2222.45 2040.8,2198.89 2044.1,2195.16 2047.4,2183.51 2050.7,2218.04 2054,2244.63 2057.3,2225.06 2060.6,2246.36 2063.9,2201.79 2067.2,2195.43 2070.5,2194.34 2073.8,2222.2 2077.1,2209.26 2080.4,2206.86 2083.7,2201.83 2087,2149.52 2090.3,2151.08 2093.6,2142.14 2096.9,2161.8 2100.2,2173.58 2103.5,2184.05 2106.8,2187.96 2110.1,2177.44 2113.4,2198.41 2116.7,2151.13 2120,2172.11 2123.3,2172.08 2126.6,2168.11 2129.9,2177.28 2133.2,2170.69 2136.5,2173.28 2139.8,2147 2143.1,2139.09 2146.4,2160.07 2149.7,2177.12 2153,2184.97 2156.3,2170.5 2159.6,2194.11 2162.9,2192.77 2166.2,2167.79 2169.5,2173.02 2172.8,2180.87 2176.1,2167.71 2179.4,2180.82 2182.7,2175.54 2186,2188.65 2189.3,2172.85 2192.6,2176.77 2195.9,2179.37 2199.2,2185.92 2202.5,2199.03 2205.8,2200.32 2209.1,2171.38 2212.4,2177.92 2215.7,2185.78 2219,2180.5 2222.3,2187.05 2225.6,2188.33 2228.9,2200.14 2232.2,2209.32 2235.5,2214.55 2238.8,2222.42 2242.1,2206.61 2245.4,2178.97 2248.7,2172.37 2252,2185.49 2255.3,2169.69 2258.6,2177.55 2261.9,2189.36 2265.2,2198.54 2268.5,2197.2 2271.8,2209.02 2275.1,2197.15 2278.4,2197.12 2281.7,2194.47 2285,2197.07 2288.3,2202.31 2291.6,2191.76 2294.9,2183.84 2298.2,2185.13 2301.5,2174.57 2304.8,2174.55 2308.1,2182.42 2311.4,2182.39 2314.7,2179.73 2318,2188.92 2321.3,2190.21 2324.6,2191.5 2327.9,2180.94 2331.2,2184.86 2334.5,2183.52 2337.8,2184.81 2341.1,2191.37 2344.4,2187.39 2347.7,2192.63 2351,2197.88 2354.3,2197.85 2357.6,2200.46 2360.9,2204.38 2364.2,2203.04 2367.5,2203.02 2370.8,2205.62 2374.1,2204.28 2377.4,2200.3 2380.7,2198.96 2384,2196.3 2387.3,2197.59 2390.6,2193.61 2393.9,2196.22 2397.2,2193.56 2400.5,2196.17 2403.8,2196.15 2407.1,2198.76 2410.4,2197.41 2413.7,2196.07 2417,2194.73 2420.3,2193.38 2423.6,2194.67 2426.9,2194.65 2430.2,2193.3 2433.5,2194.6 2436.8,2195.89 2440.1,2194.55 2443.4,2195.84 2446.7,2194.49"/><polyline fill="none" stroke="#e08346" stroke-width="2.6" stroke-linejoin="round" points="1460,2563.86 1463.3,2560.62 1466.6,2570.34 1469.9,2563.86 1473.2,2546.04 1476.5,2559 1479.8,2542.8 1483.1,2544.42 1486.4,2531.46 1489.7,2534.7 1493,2510.4 1496.3,2512.02 1499.6,2478 1502.9,2482.86 1506.2,2469.9 1509.5,2482.86 1512.8,2460.18 1516.1,2450.46 1519.4,2426.16 1522.7,2437.5 1526,2445.6 1529.3,2393.76 1532.6,2413.2 1535.9,2384.04 1539.2,2421.3 1542.5,2413.2 1545.8,2390.52 1549.1,2395.38 1552.4,2317.62 1555.7,2330.58 1559,2327.34 1562.3,2340.3 1565.6,2311.14 1568.9,2324.1 1572.2,2366.22 1575.5,2356.5 1578.8,2330.58 1582.1,2335.44 1585.4,2324.1 1588.7,2294.94 1592,2330.58 1595.3,2299.8 1598.6,2267.4 1601.9,2243.1 1605.2,2213.94 1608.5,2197.74 1611.8,2259.3 1615.1,2194.5 1618.4,2152.38 1621.7,2259.3 1625,2267.4 1628.3,2218.8 1631.6,2204.22 1634.9,2210.7 1638.2,2230.14 1641.5,2181.54 1644.8,2157.24 1648.1,2202.6 1651.4,2194.5 1654.7,2121.6 1658,2142.66 1661.3,2166.96 1664.6,2145.9 1667.9,2119.98 1671.2,2154 1674.5,2178.3 1677.8,2259.3 1681.1,2089.2 1684.4,2235 1687.7,2251.2 1691,2210.7 1694.3,2142.66 1697.6,2178.3 1700.9,2210.7 1704.2,2113.5 1707.5,2124.84 1710.8,2178.3 1714.1,2149.14 1717.4,2194.5 1720.7,2105.4 1724,2124.84 1727.3,2202.6 1730.6,2194.5 1733.9,2218.8 1737.2,2197.74 1740.5,2213.94 1743.8,2226.9 1747.1,2186.4 1750.4,2145.9 1753.7,2202.6 1757,2194.5 1760.3,2119.98 1763.6,2152.38 1766.9,2055.18 1770.2,2113.5 1773.5,2165.34 1776.8,2149.14 1780.1,2092.44 1783.4,2108.64 1786.7,2142.66 1790,2110.26 1793.3,2116.74 1796.6,2087.58 1799.9,2113.5 1803.2,2129.7 1806.5,2162.1 1809.8,2155.62 1813.1,2105.4 1816.4,2097.3 1819.7,2081.1 1823,2060.04 1826.3,2087.58 1829.6,2092.44 1832.9,2058.42 1836.2,2097.3 1839.5,2071.38 1842.8,2094.06 1846.1,2108.64 1849.4,2108.64 1852.7,2110.26 1856,2100.54 1859.3,2105.4 1862.6,2030.88 1865.9,2113.5 1869.2,2056.8 1872.5,2145.9 1875.8,2108.64 1879.1,2113.5 1882.4,2102.16 1885.7,2136.18 1889,2134.56 1892.3,2176.68 1895.6,2121.6 1898.9,2094.06 1902.2,2118.36 1905.5,2116.74 1908.8,2061.66 1912.1,2097.3 1915.4,2097.3 1918.7,2094.06 1922,2011.44 1925.3,2032.5 1928.6,2069.76 1931.9,2047.08 1935.2,2045.46 1938.5,2032.5 1941.8,2043.84 1945.1,2048.7 1948.4,2064.9 1951.7,2087.58 1955,2037.36 1958.3,2089.2 1961.6,2087.58 1964.9,2050.32 1968.2,2081.1 1971.5,2105.4 1974.8,2094.06 1978.1,2111.88 1981.4,2077.86 1984.7,2097.3 1988,2116.74 1991.3,2121.6 1994.6,2076.24 1997.9,2129.7 2001.2,2066.52 2004.5,2077.86 2007.8,2092.44 2011.1,2045.46 2014.4,2024.4 2017.7,2073 2021,2094.06 2024.3,2064.9 2027.6,2077.86 2030.9,2058.42 2034.2,2118.36 2037.5,2100.54 2040.8,2071.38 2044.1,2066.52 2047.4,2051.94 2050.7,2094.06 2054,2126.46 2057.3,2102.16 2060.6,2128.08 2063.9,2073 2067.2,2064.9 2070.5,2063.28 2073.8,2097.3 2077.1,2081.1 2080.4,2077.86 2083.7,2071.38 2087,2006.58 2090.3,2008.2 2093.6,1996.86 2096.9,2021.16 2100.2,2035.74 2103.5,2048.7 2106.8,2053.56 2110.1,2040.6 2113.4,2066.52 2116.7,2008.2 2120,2034.12 2123.3,2034.12 2126.6,2029.26 2129.9,2040.6 2133.2,2032.5 2136.5,2035.74 2139.8,2003.34 2143.1,1993.62 2146.4,2019.54 2149.7,2040.6 2153,2050.32 2156.3,2032.5 2159.6,2061.66 2162.9,2060.04 2166.2,2029.26 2169.5,2035.74 2172.8,2045.46 2176.1,2029.26 2179.4,2045.46 2182.7,2038.98 2186,2055.18 2189.3,2035.74 2192.6,2040.6 2195.9,2043.84 2199.2,2051.94 2202.5,2068.14 2205.8,2069.76 2209.1,2034.12 2212.4,2042.22 2215.7,2051.94 2219,2045.46 2222.3,2053.56 2225.6,2055.18 2228.9,2069.76 2232.2,2081.1 2235.5,2087.58 2238.8,2097.3 2242.1,2077.86 2245.4,2043.84 2248.7,2035.74 2252,2051.94 2255.3,2032.5 2258.6,2042.22 2261.9,2056.8 2265.2,2068.14 2268.5,2066.52 2271.8,2081.1 2275.1,2066.52 2278.4,2066.52 2281.7,2063.28 2285,2066.52 2288.3,2073 2291.6,2060.04 2294.9,2050.32 2298.2,2051.94 2301.5,2038.98 2304.8,2038.98 2308.1,2048.7 2311.4,2048.7 2314.7,2045.46 2318,2056.8 2321.3,2058.42 2324.6,2060.04 2327.9,2047.08 2331.2,2051.94 2334.5,2050.32 2337.8,2051.94 2341.1,2060.04 2344.4,2055.18 2347.7,2061.66 2351,2068.14 2354.3,2068.14 2357.6,2071.38 2360.9,2076.24 2364.2,2074.62 2367.5,2074.62 2370.8,2077.86 2374.1,2076.24 2377.4,2071.38 2380.7,2069.76 2384,2066.52 2387.3,2068.14 2390.6,2063.28 2393.9,2066.52 2397.2,2063.28 2400.5,2066.52 2403.8,2066.52 2407.1,2069.76 2410.4,2068.14 2413.7,2066.52 2417,2064.9 2420.3,2063.28 2423.6,2064.9 2426.9,2064.9 2430.2,2063.28 2433.5,2064.9 2436.8,2066.52 2440.1,2064.9 2443.4,2066.52 2446.7,2064.9"/><rect x="2246.5" y="2454" width="230.5" height="126" fill="#fff" stroke="#d0d0d0" stroke-width="1.6" rx="7"/><line x1="2261.5" y1="2485" x2="2341" y2="2485" stroke="#4878cf" stroke-width="2.6" /><text transform="translate(2372.5 2498) scale(1.065 1.025)" font-size="36.5" font-family="DejaVu Sans,sans-serif">val</text><line x1="2261.5" y1="2556" x2="2341" y2="2556" stroke="#e08346" stroke-width="2.6" /><text transform="translate(2372.5 2569) scale(1.065 1.025)" font-size="36.5" font-family="DejaVu Sans,sans-serif">train</text></svg>
<div class="band" style="left:2649px;top:296.2px;width:1292px;height:73.5px"></div>
<div class="h" style="left:2657.3px;top:301px">Experiments</div>
<div class="band" style="left:2650.7px;top:2421.2px;width:1291.3px;height:76.6px"></div>
<div class="h" style="left:2657px;top:2429px">Contacting</div>
<svg class="abs" style="left:0;top:0" width="3987" height="2820" viewBox="0 0 3987 2820" font-family="Liberation Sans,sans-serif" ><defs><filter id="b0" x="-10%" y="-10%" width="120%" height="120%"><feGaussianBlur stdDeviation="0.9"/></filter><filter id="b1" x="-10%" y="-10%" width="120%" height="120%"><feGaussianBlur stdDeviation="2"/></filter><filter id="b2" x="-10%" y="-10%" width="120%" height="120%"><feGaussianBlur stdDeviation="4"/></filter><filter id="b3" x="-10%" y="-10%" width="120%" height="120%"><feGaussianBlur stdDeviation="7"/></filter></defs><path d="M2671,415.5 L2698.5,430.25 L2671,445 L2680.07,430.84 Z" fill="#000"/><path d="M2674.57,419.33 L2693,429.51 L2681.59,429.95 Z" fill="#fff"/><text x="2722.5" y="444" font-size="42.6" textLength="615" lengthAdjust="spacingAndGlyphs">TransHP improves the accuracy.</text><path d="M2671,685.5 L2698.5,700.25 L2671,715 L2680.07,700.84 Z" fill="#000"/><path d="M2674.57,689.34 L2693,699.51 L2681.59,699.96 Z" fill="#fff"/><text x="2722.5" y="714" font-size="42.6" textLength="645" lengthAdjust="spacingAndGlyphs">TransHP improves data efficiency.</text><path d="M2671,947.5 L2698.5,962.25 L2671,977 L2680.07,962.84 Z" fill="#000"/><path d="M2674.57,951.34 L2693,961.51 L2681.59,961.96 Z" fill="#fff"/><text x="2722.5" y="976" font-size="42.6" textLength="744.4" lengthAdjust="spacingAndGlyphs">TransHP improves model explainability.</text><path d="M2671,1766 L2698.5,1780.75 L2671,1795.5 L2680.07,1781.34 Z" fill="#000"/><path d="M2674.57,1769.84 L2693,1780.01 L2681.59,1780.45 Z" fill="#fff"/><text x="2722.5" y="1794.5" font-size="42.6" textLength="797" lengthAdjust="spacingAndGlyphs">Autonomous prompt selection of TransHP.</text><line x1="2689" y1="480" x2="3898" y2="480" stroke="#2b2b2b" stroke-width="1.3" /><line x1="2689" y1="511.5" x2="3898" y2="511.5" stroke="#2b2b2b" stroke-width="1.3" /><line x1="2689" y1="604.5" x2="3898" y2="604.5" stroke="#2b2b2b" stroke-width="1.3" /><line x1="2689" y1="636" x2="3898" y2="636" stroke="#2b2b2b" stroke-width="1.3" /><line x1="2890.5" y1="480" x2="2890.5" y2="636" stroke="#2b2b2b" stroke-width="1.3" /><line x1="3092" y1="480" x2="3092" y2="636" stroke="#2b2b2b" stroke-width="1.3" /><line x1="3293.5" y1="480" x2="3293.5" y2="636" stroke="#2b2b2b" stroke-width="1.3" /><line x1="3495" y1="480" x2="3495" y2="636" stroke="#2b2b2b" stroke-width="1.3" /><line x1="3696.5" y1="480" x2="3696.5" y2="636" stroke="#2b2b2b" stroke-width="1.3" /><text x="2789.75" y="502.5" font-size="28" font-family="Liberation Serif,serif" text-anchor="middle">Accuracy (%)</text><text x="2991.25" y="502.5" font-size="28" font-family="Liberation Serif,serif" text-anchor="middle">ImageNet</text><text x="3192.75" y="502.5" font-size="28" font-family="Liberation Serif,serif" text-anchor="middle">iNat-2018</text><text x="3394.25" y="502.5" font-size="28" font-family="Liberation Serif,serif" text-anchor="middle">iNat-2019</text><text x="3595.75" y="502.5" font-size="28" font-family="Liberation Serif,serif" text-anchor="middle">CIFAR-100</text><text x="3797.25" y="502.5" font-size="28" font-family="Liberation Serif,serif" text-anchor="middle">DeepFashion</text><text x="2789.75" y="534" font-size="28" font-family="Liberation Serif,serif" text-anchor="middle">Baseline</text><text x="2991.25" y="534" font-size="28" font-family="Liberation Serif,serif" text-anchor="middle">76.21</text><text x="3192.75" y="534" font-size="28" font-family="Liberation Serif,serif" text-anchor="middle">63.01</text><text x="3394.25" y="534" font-size="28" font-family="Liberation Serif,serif" text-anchor="middle">69.31</text><text x="3595.75" y="534" font-size="28" font-family="Liberation Serif,serif" text-anchor="middle">84.98</text><text x="3797.25" y="534" font-size="28" font-family="Liberation Serif,serif" text-anchor="middle">88.54</text><text x="2789.75" y="565" font-size="28" font-family="Liberation Serif,serif" text-anchor="middle">Guided</text><text x="2991.25" y="565" font-size="28" font-family="Liberation Serif,serif" text-anchor="middle">76.05</text><text x="3192.75" y="565" font-size="28" font-family="Liberation Serif,serif" text-anchor="middle">63.11</text><text x="3394.25" y="565" font-size="28" font-family="Liberation Serif,serif" text-anchor="middle">69.66</text><text x="3595.75" y="565" font-size="28" font-family="Liberation Serif,serif" text-anchor="middle">85.10</text><text x="3797.25" y="565" font-size="28" font-family="Liberation Serif,serif" text-anchor="middle">88.32</text><text x="2789.75" y="595.5" font-size="28" font-family="Liberation Serif,serif" text-anchor="middle">HiMulConE</text><text x="2991.25" y="595.5" font-size="28" font-family="Liberation Serif,serif" text-anchor="middle">77.52</text><text x="3192.75" y="595.5" font-size="28" font-family="Liberation Serif,serif" text-anchor="middle">63.46</text><text x="3394.25" y="595.5" font-size="28" font-family="Liberation Serif,serif" text-anchor="middle">70.87</text><text x="3595.75" y="595.5" font-size="28" font-family="Liberation Serif,serif" text-anchor="middle">85.43</text><text x="3797.25" y="595.5" font-size="28" font-family="Liberation Serif,serif" text-anchor="middle">88.87</text><text x="2789.75" y="627.5" font-size="28" font-family="Liberation Serif,serif" text-anchor="middle">TransHP</text><text x="2991.25" y="627.5" font-size="28" font-weight="bold" font-family="Liberation Serif,serif" text-anchor="middle">78.65</text><text x="3192.75" y="627.5" font-size="28" font-weight="bold" font-family="Liberation Serif,serif" text-anchor="middle">64.21</text><text x="3394.25" y="627.5" font-size="28" font-weight="bold" font-family="Liberation Serif,serif" text-anchor="middle">71.62</text><text x="3595.75" y="627.5" font-size="28" font-weight="bold" font-family="Liberation Serif,serif" text-anchor="middle">86.85</text><text x="3797.25" y="627.5" font-size="28" font-weight="bold" font-family="Liberation Serif,serif" text-anchor="middle">89.93</text><line x1="2686" y1="751" x2="3896.5" y2="751" stroke="#2b2b2b" stroke-width="1.3" /><line x1="2686" y1="781.5" x2="3896.5" y2="781.5" stroke="#2b2b2b" stroke-width="1.3" /><line x1="2686" y1="874" x2="3896.5" y2="874" stroke="#2b2b2b" stroke-width="1.3" /><line x1="2686" y1="905" x2="3896.5" y2="905" stroke="#2b2b2b" stroke-width="1.3" /><line x1="2928" y1="751" x2="2928" y2="905" stroke="#2b2b2b" stroke-width="1.3" /><line x1="3169.5" y1="751" x2="3169.5" y2="905" stroke="#2b2b2b" stroke-width="1.3" /><line x1="3412" y1="751" x2="3412" y2="905" stroke="#2b2b2b" stroke-width="1.3" /><line x1="3654.5" y1="751" x2="3654.5" y2="905" stroke="#2b2b2b" stroke-width="1.3" /><text x="2807" y="773.5" font-size="28" font-family="Liberation Serif,serif" text-anchor="middle">Accuracy (%)</text><text x="3048.75" y="773.5" font-size="28" font-family="Liberation Serif,serif" text-anchor="middle">100%</text><text x="3290.75" y="773.5" font-size="28" font-family="Liberation Serif,serif" text-anchor="middle">50%</text><text x="3533.25" y="773.5" font-size="28" font-family="Liberation Serif,serif" text-anchor="middle">20%</text><text x="3775.5" y="773.5" font-size="28" font-family="Liberation Serif,serif" text-anchor="middle">10%</text><text x="2807" y="805" font-size="28" font-family="Liberation Serif,serif" text-anchor="middle">Baseline</text><text x="3048.75" y="805" font-size="28" font-family="Liberation Serif,serif" text-anchor="middle">76.21</text><text x="3290.75" y="805" font-size="28" font-family="Liberation Serif,serif" text-anchor="middle">67.87</text><text x="3533.25" y="805" font-size="28" font-family="Liberation Serif,serif" text-anchor="middle">44.60</text><text x="3775.5" y="805" font-size="28" font-family="Liberation Serif,serif" text-anchor="middle">25.24</text><text x="2807" y="836" font-size="28" font-family="Liberation Serif,serif" text-anchor="middle">Guided</text><text x="3048.75" y="836" font-size="28" font-family="Liberation Serif,serif" text-anchor="middle">76.05</text><text x="3290.75" y="836" font-size="28" font-family="Liberation Serif,serif" text-anchor="middle">67.74</text><text x="3533.25" y="836" font-size="28" font-family="Liberation Serif,serif" text-anchor="middle">45.02</text><text x="3775.5" y="836" font-size="28" font-family="Liberation Serif,serif" text-anchor="middle">25.67</text><text x="2807" y="866" font-size="28" font-family="Liberation Serif,serif" text-anchor="middle">HiMulConE</text><text x="3048.75" y="866" font-size="28" font-family="Liberation Serif,serif" text-anchor="middle">77.52</text><text x="3290.75" y="866" font-size="28" font-family="Liberation Serif,serif" text-anchor="middle">69.23</text><text x="3533.25" y="866" font-size="28" font-family="Liberation Serif,serif" text-anchor="middle">48.50</text><text x="3775.5" y="866" font-size="28" font-family="Liberation Serif,serif" text-anchor="middle">30.76</text><text x="2807" y="897" font-size="28" font-family="Liberation Serif,serif" text-anchor="middle">TransHP</text><text x="3048.75" y="897" font-size="28" font-weight="bold" font-family="Liberation Serif,serif" text-anchor="middle">78.65</text><text x="3290.75" y="897" font-size="28" font-weight="bold" font-family="Liberation Serif,serif" text-anchor="middle">70.74</text><text x="3533.25" y="897" font-size="28" font-weight="bold" font-family="Liberation Serif,serif" text-anchor="middle">53.71</text><text x="3775.5" y="897" font-size="28" font-weight="bold" font-family="Liberation Serif,serif" text-anchor="middle">37.93</text><svg x="2683.6" y="1048" width="122.5" height="122.5" viewBox="0 0 100 100" preserveAspectRatio="none" style="overflow:hidden"><rect x="0" y="0" width="100" height="100" fill="#4c5242"/><g filter="url(#b0)"><rect x="0" y="0" width="100" height="9.5" fill="#46722f"/><rect x="0" y="0" width="17" height="7" fill="#2a3a1c"/><rect x="18" y="3.5" width="62" height="6" fill="#e4d6b6"/><rect x="56" y="3.5" width="3" height="6" fill="#6a6a5a"/><rect x="89" y="0" width="11" height="100" fill="#10160c"/><ellipse cx="97" cy="42" rx="3" ry="9" fill="#5a8a3a" opacity="0.9"/><polygon points="0,57 12,60 30,70 40,78 36,100 0,100" fill="#161a11"/><polygon points="40,70 44,70 42,100 36,100" fill="#0e110b"/><polygon points="46,74 88,64 88,100 44,100" fill="#555b47" opacity="0.8"/><polygon points="50,100 80,70 84,72 56,100" fill="#22261b" opacity="0.8"/><polygon points="0,22 35,40 33,43 0,26" fill="#2a2e22" opacity="0.8"/><polygon points="55,38 88,22 88,26 57,41" fill="#2a2e22" opacity="0.8"/><ellipse cx="44" cy="24" rx="7" ry="9" fill="#1b1b1d"/><ellipse cx="50" cy="30" rx="8" ry="4" fill="#232325" transform="rotate(30 50 30)"/><rect x="44" y="30" width="3" height="20" fill="#202022"/><path d="M10,56 C16,48 30,45 44,46 C60,46 76,50 86,58 C90,60 90,63 86,64 C78,68 64,68 52,67 C40,67 22,66 12,60 Z" fill="#a39471"/><path d="M14,57 C26,50 50,49 70,52 C60,56 30,60 14,57 Z" fill="#b8a987" opacity=".8"/><polygon points="40,66 50,78 56,68" fill="#3a3527"/><polygon points="64,67 74,76 76,66" fill="#3a3527"/><polygon points="80,56 90,52 89,66 82,63" fill="#5e5540"/><ellipse cx="16" cy="55" rx="1.5" ry="1.5" fill="#221c12"/></g></svg><svg x="2831.7" y="1048" width="122.5" height="122.5" viewBox="0 0 100 100" preserveAspectRatio="none" style="overflow:hidden"><defs><radialGradient id="sg1" gradientUnits="userSpaceOnUse" cx="0" cy="0" r="1" gradientTransform="translate(46 54) scale(68 52)"><stop offset="0" stop-color="#000" stop-opacity="0.5"/><stop offset=".45" stop-color="#000" stop-opacity="0.61"/><stop offset="1" stop-color="#000" stop-opacity="0.96"/></radialGradient></defs><rect x="0" y="0" width="100" height="100" fill="#4c5242"/><g filter="url(#b0)"><rect x="0" y="0" width="100" height="9.5" fill="#46722f"/><rect x="0" y="0" width="17" height="7" fill="#2a3a1c"/><rect x="18" y="3.5" width="62" height="6" fill="#e4d6b6"/><rect x="56" y="3.5" width="3" height="6" fill="#6a6a5a"/><rect x="89" y="0" width="11" height="100" fill="#10160c"/><ellipse cx="97" cy="42" rx="3" ry="9" fill="#5a8a3a" opacity="0.9"/><polygon points="0,57 12,60 30,70 40,78 36,100 0,100" fill="#161a11"/><polygon points="40,70 44,70 42,100 36,100" fill="#0e110b"/><polygon points="46,74 88,64 88,100 44,100" fill="#555b47" opacity="0.8"/><polygon points="50,100 80,70 84,72 56,100" fill="#22261b" opacity="0.8"/><polygon points="0,22 35,40 33,43 0,26" fill="#2a2e22" opacity="0.8"/><polygon points="55,38 88,22 88,26 57,41" fill="#2a2e22" opacity="0.8"/><ellipse cx="44" cy="24" rx="7" ry="9" fill="#1b1b1d"/><ellipse cx="50" cy="30" rx="8" ry="4" fill="#232325" transform="rotate(30 50 30)"/><rect x="44" y="30" width="3" height="20" fill="#202022"/><path d="M10,56 C16,48 30,45 44,46 C60,46 76,50 86,58 C90,60 90,63 86,64 C78,68 64,68 52,67 C40,67 22,66 12,60 Z" fill="#a39471"/><path d="M14,57 C26,50 50,49 70,52 C60,56 30,60 14,57 Z" fill="#b8a987" opacity=".8"/><polygon points="40,66 50,78 56,68" fill="#3a3527"/><polygon points="64,67 74,76 76,66" fill="#3a3527"/><polygon points="80,56 90,52 89,66 82,63" fill="#5e5540"/><ellipse cx="16" cy="55" rx="1.5" ry="1.5" fill="#221c12"/></g><rect x="0" y="0" width="100" height="100" fill="url(#sg1)"/></svg><svg x="2979.6" y="1048" width="122.5" height="122.5" viewBox="0 0 100 100" preserveAspectRatio="none" style="overflow:hidden"><defs><radialGradient id="sg2" gradientUnits="userSpaceOnUse" cx="0" cy="0" r="1" gradientTransform="translate(50 55) scale(62 42)"><stop offset="0" stop-color="#000" stop-opacity="0"/><stop offset=".45" stop-color="#000" stop-opacity="0.24"/><stop offset="1" stop-color="#000" stop-opacity="0.96"/></radialGradient></defs><rect x="0" y="0" width="100" height="100" fill="#4c5242"/><g filter="url(#b0)"><rect x="0" y="0" width="100" height="9.5" fill="#46722f"/><rect x="0" y="0" width="17" height="7" fill="#2a3a1c"/><rect x="18" y="3.5" width="62" height="6" fill="#e4d6b6"/><rect x="56" y="3.5" width="3" height="6" fill="#6a6a5a"/><rect x="89" y="0" width="11" height="100" fill="#10160c"/><ellipse cx="97" cy="42" rx="3" ry="9" fill="#5a8a3a" opacity="0.9"/><polygon points="0,57 12,60 30,70 40,78 36,100 0,100" fill="#161a11"/><polygon points="40,70 44,70 42,100 36,100" fill="#0e110b"/><polygon points="46,74 88,64 88,100 44,100" fill="#555b47" opacity="0.8"/><polygon points="50,100 80,70 84,72 56,100" fill="#22261b" opacity="0.8"/><polygon points="0,22 35,40 33,43 0,26" fill="#2a2e22" opacity="0.8"/><polygon points="55,38 88,22 88,26 57,41" fill="#2a2e22" opacity="0.8"/><ellipse cx="44" cy="24" rx="7" ry="9" fill="#1b1b1d"/><ellipse cx="50" cy="30" rx="8" ry="4" fill="#232325" transform="rotate(30 50 30)"/><rect x="44" y="30" width="3" height="20" fill="#202022"/><path d="M10,56 C16,48 30,45 44,46 C60,46 76,50 86,58 C90,60 90,63 86,64 C78,68 64,68 52,67 C40,67 22,66 12,60 Z" fill="#a39471"/><path d="M14,57 C26,50 50,49 70,52 C60,56 30,60 14,57 Z" fill="#b8a987" opacity=".8"/><polygon points="40,66 50,78 56,68" fill="#3a3527"/><polygon points="64,67 74,76 76,66" fill="#3a3527"/><polygon points="80,56 90,52 89,66 82,63" fill="#5e5540"/><ellipse cx="16" cy="55" rx="1.5" ry="1.5" fill="#221c12"/></g><rect x="0" y="0" width="100" height="100" fill="url(#sg2)"/><g filter="url(#b1)"><ellipse cx="52" cy="56" rx="26" ry="6" fill="#e8dcb4" opacity="0.45"/></g></svg><svg x="3127.3" y="1048" width="122.5" height="122.5" viewBox="0 0 100 100" preserveAspectRatio="none" style="overflow:hidden"><defs><radialGradient id="sg3" gradientUnits="userSpaceOnUse" cx="0" cy="0" r="1" gradientTransform="translate(56 56) scale(48 26)"><stop offset="0" stop-color="#000" stop-opacity="0.25"/><stop offset=".45" stop-color="#000" stop-opacity="0.43"/><stop offset="1" stop-color="#000" stop-opacity="0.98"/></radialGradient></defs><rect x="0" y="0" width="100" height="100" fill="#4c5242"/><g filter="url(#b0)"><rect x="0" y="0" width="100" height="9.5" fill="#46722f"/><rect x="0" y="0" width="17" height="7" fill="#2a3a1c"/><rect x="18" y="3.5" width="62" height="6" fill="#e4d6b6"/><rect x="56" y="3.5" width="3" height="6" fill="#6a6a5a"/><rect x="89" y="0" width="11" height="100" fill="#10160c"/><ellipse cx="97" cy="42" rx="3" ry="9" fill="#5a8a3a" opacity="0.9"/><polygon points="0,57 12,60 30,70 40,78 36,100 0,100" fill="#161a11"/><polygon points="40,70 44,70 42,100 36,100" fill="#0e110b"/><polygon points="46,74 88,64 88,100 44,100" fill="#555b47" opacity="0.8"/><polygon points="50,100 80,70 84,72 56,100" fill="#22261b" opacity="0.8"/><polygon points="0,22 35,40 33,43 0,26" fill="#2a2e22" opacity="0.8"/><polygon points="55,38 88,22 88,26 57,41" fill="#2a2e22" opacity="0.8"/><ellipse cx="44" cy="24" rx="7" ry="9" fill="#1b1b1d"/><ellipse cx="50" cy="30" rx="8" ry="4" fill="#232325" transform="rotate(30 50 30)"/><rect x="44" y="30" width="3" height="20" fill="#202022"/><path d="M10,56 C16,48 30,45 44,46 C60,46 76,50 86,58 C90,60 90,63 86,64 C78,68 64,68 52,67 C40,67 22,66 12,60 Z" fill="#a39471"/><path d="M14,57 C26,50 50,49 70,52 C60,56 30,60 14,57 Z" fill="#b8a987" opacity=".8"/><polygon points="40,66 50,78 56,68" fill="#3a3527"/><polygon points="64,67 74,76 76,66" fill="#3a3527"/><polygon points="80,56 90,52 89,66 82,63" fill="#5e5540"/><ellipse cx="16" cy="55" rx="1.5" ry="1.5" fill="#221c12"/></g><rect x="0" y="0" width="100" height="100" fill="url(#sg3)"/><g filter="url(#b1)"><ellipse cx="56" cy="56" rx="20" ry="5" fill="#d8ccaa" opacity="0.3"/></g></svg><svg x="3317" y="1048" width="122.5" height="122.5" viewBox="0 0 100 100" preserveAspectRatio="none" style="overflow:hidden"><rect x="0" y="0" width="100" height="100" fill="#cbbba2"/><g filter="url(#b0)"><rect x="0" y="0" width="100" height="100" fill="#cbbba2"/><polygon points="0,30 100,10 100,11 0,31" fill="#b3a38a"/><polygon points="30,100 75,60 76,61 32,100" fill="#b3a38a"/><rect x="0" y="88" width="50" height="12" fill="#b9a98a"/><ellipse cx="46" cy="34" rx="31" ry="16" fill="#2b211b" transform="rotate(-17 46 34)"/><ellipse cx="86" cy="28" rx="14" ry="4" fill="#231a16" transform="rotate(-22 86 28)"/><ellipse cx="80" cy="47" rx="17" ry="6.5" fill="#b07a45" transform="rotate(14 80 47)"/><ellipse cx="95" cy="52" rx="5" ry="4" fill="#8a6238"/><ellipse cx="14" cy="74" rx="14" ry="20" fill="#8f8a83"/><ellipse cx="10" cy="66" rx="7" ry="8" fill="#b8b3ab"/><ellipse cx="18" cy="86" rx="9" ry="8" fill="#a7a39b"/><ellipse cx="6" cy="90" rx="5" ry="4" fill="#3b5b9c"/><ellipse cx="73" cy="65" rx="14" ry="9" fill="#b9aaa0"/><ellipse cx="66" cy="70" rx="8" ry="6" fill="#cfc3ba"/><ellipse cx="52" cy="71" rx="5.5" ry="14" fill="#b78a52"/><ellipse cx="37" cy="70" rx="12" ry="15" fill="#3d2c22"/><ellipse cx="36" cy="80" rx="6.5" ry="6" fill="#1d1512"/><ellipse cx="33" cy="64" rx="4" ry="5" fill="#9a7a58" opacity="0.9"/><ellipse cx="22" cy="56" rx="6" ry="9" fill="#a07858" transform="rotate(-20 22 56)"/><ellipse cx="21" cy="57" rx="3" ry="6" fill="#d8b8a8" transform="rotate(-20 21 57)"/><polygon points="38,46 44,28 50,50" fill="#b78a62"/><polygon points="40,46 44,33 48,49" fill="#d9b4a6"/><ellipse cx="60" cy="58" rx="2" ry="6" fill="#3a9a9a" opacity="0.8" transform="rotate(30 60 58)"/></g></svg><svg x="3463.8" y="1048" width="122.5" height="122.5" viewBox="0 0 100 100" preserveAspectRatio="none" style="overflow:hidden"><defs><radialGradient id="sg4" gradientUnits="userSpaceOnUse" cx="0" cy="0" r="1" gradientTransform="translate(42 58) scale(62 48)"><stop offset="0" stop-color="#000" stop-opacity="0.42"/><stop offset=".45" stop-color="#000" stop-opacity="0.56"/><stop offset="1" stop-color="#000" stop-opacity="0.97"/></radialGradient></defs><rect x="0" y="0" width="100" height="100" fill="#cbbba2"/><g filter="url(#b0)"><rect x="0" y="0" width="100" height="100" fill="#cbbba2"/><polygon points="0,30 100,10 100,11 0,31" fill="#b3a38a"/><polygon points="30,100 75,60 76,61 32,100" fill="#b3a38a"/><rect x="0" y="88" width="50" height="12" fill="#b9a98a"/><ellipse cx="46" cy="34" rx="31" ry="16" fill="#2b211b" transform="rotate(-17 46 34)"/><ellipse cx="86" cy="28" rx="14" ry="4" fill="#231a16" transform="rotate(-22 86 28)"/><ellipse cx="80" cy="47" rx="17" ry="6.5" fill="#b07a45" transform="rotate(14 80 47)"/><ellipse cx="95" cy="52" rx="5" ry="4" fill="#8a6238"/><ellipse cx="14" cy="74" rx="14" ry="20" fill="#8f8a83"/><ellipse cx="10" cy="66" rx="7" ry="8" fill="#b8b3ab"/><ellipse cx="18" cy="86" rx="9" ry="8" fill="#a7a39b"/><ellipse cx="6" cy="90" rx="5" ry="4" fill="#3b5b9c"/><ellipse cx="73" cy="65" rx="14" ry="9" fill="#b9aaa0"/><ellipse cx="66" cy="70" rx="8" ry="6" fill="#cfc3ba"/><ellipse cx="52" cy="71" rx="5.5" ry="14" fill="#b78a52"/><ellipse cx="37" cy="70" rx="12" ry="15" fill="#3d2c22"/><ellipse cx="36" cy="80" rx="6.5" ry="6" fill="#1d1512"/><ellipse cx="33" cy="64" rx="4" ry="5" fill="#9a7a58" opacity="0.9"/><ellipse cx="22" cy="56" rx="6" ry="9" fill="#a07858" transform="rotate(-20 22 56)"/><ellipse cx="21" cy="57" rx="3" ry="6" fill="#d8b8a8" transform="rotate(-20 21 57)"/><polygon points="38,46 44,28 50,50" fill="#b78a62"/><polygon points="40,46 44,33 48,49" fill="#d9b4a6"/><ellipse cx="60" cy="58" rx="2" ry="6" fill="#3a9a9a" opacity="0.8" transform="rotate(30 60 58)"/></g><rect x="0" y="0" width="100" height="100" fill="url(#sg4)"/><g filter="url(#b1)"><rect x="0" y="0" width="16" height="22" fill="#8d7f6a" opacity="0.55"/><rect x="84" y="0" width="16" height="20" fill="#85786a" opacity="0.55"/></g></svg><svg x="3611.5" y="1048" width="122.5" height="122.5" viewBox="0 0 100 100" preserveAspectRatio="none" style="overflow:hidden"><defs><radialGradient id="sg5" gradientUnits="userSpaceOnUse" cx="0" cy="0" r="1" gradientTransform="translate(34 62) scale(60 46)"><stop offset="0" stop-color="#000" stop-opacity="0.45"/><stop offset=".45" stop-color="#000" stop-opacity="0.58"/><stop offset="1" stop-color="#000" stop-opacity="0.97"/></radialGradient></defs><rect x="0" y="0" width="100" height="100" fill="#cbbba2"/><g filter="url(#b0)"><rect x="0" y="0" width="100" height="100" fill="#cbbba2"/><polygon points="0,30 100,10 100,11 0,31" fill="#b3a38a"/><polygon points="30,100 75,60 76,61 32,100" fill="#b3a38a"/><rect x="0" y="88" width="50" height="12" fill="#b9a98a"/><ellipse cx="46" cy="34" rx="31" ry="16" fill="#2b211b" transform="rotate(-17 46 34)"/><ellipse cx="86" cy="28" rx="14" ry="4" fill="#231a16" transform="rotate(-22 86 28)"/><ellipse cx="80" cy="47" rx="17" ry="6.5" fill="#b07a45" transform="rotate(14 80 47)"/><ellipse cx="95" cy="52" rx="5" ry="4" fill="#8a6238"/><ellipse cx="14" cy="74" rx="14" ry="20" fill="#8f8a83"/><ellipse cx="10" cy="66" rx="7" ry="8" fill="#b8b3ab"/><ellipse cx="18" cy="86" rx="9" ry="8" fill="#a7a39b"/><ellipse cx="6" cy="90" rx="5" ry="4" fill="#3b5b9c"/><ellipse cx="73" cy="65" rx="14" ry="9" fill="#b9aaa0"/><ellipse cx="66" cy="70" rx="8" ry="6" fill="#cfc3ba"/><ellipse cx="52" cy="71" rx="5.5" ry="14" fill="#b78a52"/><ellipse cx="37" cy="70" rx="12" ry="15" fill="#3d2c22"/><ellipse cx="36" cy="80" rx="6.5" ry="6" fill="#1d1512"/><ellipse cx="33" cy="64" rx="4" ry="5" fill="#9a7a58" opacity="0.9"/><ellipse cx="22" cy="56" rx="6" ry="9" fill="#a07858" transform="rotate(-20 22 56)"/><ellipse cx="21" cy="57" rx="3" ry="6" fill="#d8b8a8" transform="rotate(-20 21 57)"/><polygon points="38,46 44,28 50,50" fill="#b78a62"/><polygon points="40,46 44,33 48,49" fill="#d9b4a6"/><ellipse cx="60" cy="58" rx="2" ry="6" fill="#3a9a9a" opacity="0.8" transform="rotate(30 60 58)"/></g><rect x="0" y="0" width="100" height="100" fill="url(#sg5)"/><g filter="url(#b1)"><rect x="0" y="0" width="100" height="12" fill="#4a4034" opacity="0.45"/><rect x="86" y="25" width="14" height="40" fill="#5a4e40" opacity="0.4"/></g></svg><svg x="3759.4" y="1048" width="122.5" height="122.5" viewBox="0 0 100 100" preserveAspectRatio="none" style="overflow:hidden"><defs><radialGradient id="sg6" gradientUnits="userSpaceOnUse" cx="0" cy="0" r="1" gradientTransform="translate(36 66) scale(50 38)"><stop offset="0" stop-color="#000" stop-opacity="0.5"/><stop offset=".45" stop-color="#000" stop-opacity="0.61"/><stop offset="1" stop-color="#000" stop-opacity="0.95"/></radialGradient></defs><rect x="0" y="0" width="100" height="100" fill="#cbbba2"/><g filter="url(#b0)"><rect x="0" y="0" width="100" height="100" fill="#cbbba2"/><polygon points="0,30 100,10 100,11 0,31" fill="#b3a38a"/><polygon points="30,100 75,60 76,61 32,100" fill="#b3a38a"/><rect x="0" y="88" width="50" height="12" fill="#b9a98a"/><ellipse cx="46" cy="34" rx="31" ry="16" fill="#2b211b" transform="rotate(-17 46 34)"/><ellipse cx="86" cy="28" rx="14" ry="4" fill="#231a16" transform="rotate(-22 86 28)"/><ellipse cx="80" cy="47" rx="17" ry="6.5" fill="#b07a45" transform="rotate(14 80 47)"/><ellipse cx="95" cy="52" rx="5" ry="4" fill="#8a6238"/><ellipse cx="14" cy="74" rx="14" ry="20" fill="#8f8a83"/><ellipse cx="10" cy="66" rx="7" ry="8" fill="#b8b3ab"/><ellipse cx="18" cy="86" rx="9" ry="8" fill="#a7a39b"/><ellipse cx="6" cy="90" rx="5" ry="4" fill="#3b5b9c"/><ellipse cx="73" cy="65" rx="14" ry="9" fill="#b9aaa0"/><ellipse cx="66" cy="70" rx="8" ry="6" fill="#cfc3ba"/><ellipse cx="52" cy="71" rx="5.5" ry="14" fill="#b78a52"/><ellipse cx="37" cy="70" rx="12" ry="15" fill="#3d2c22"/><ellipse cx="36" cy="80" rx="6.5" ry="6" fill="#1d1512"/><ellipse cx="33" cy="64" rx="4" ry="5" fill="#9a7a58" opacity="0.9"/><ellipse cx="22" cy="56" rx="6" ry="9" fill="#a07858" transform="rotate(-20 22 56)"/><ellipse cx="21" cy="57" rx="3" ry="6" fill="#d8b8a8" transform="rotate(-20 21 57)"/><polygon points="38,46 44,28 50,50" fill="#b78a62"/><polygon points="40,46 44,33 48,49" fill="#d9b4a6"/><ellipse cx="60" cy="58" rx="2" ry="6" fill="#3a9a9a" opacity="0.8" transform="rotate(30 60 58)"/></g><rect x="0" y="0" width="100" height="100" fill="url(#sg6)"/><g filter="url(#b1)"><rect x="0" y="0" width="100" height="18" fill="#4a4236" opacity="0.4"/><rect x="45" y="84" width="55" height="16" fill="#3a332a" opacity="0.4"/></g></svg><svg x="2687.1" y="1228.5" width="115.5" height="115.5" viewBox="0 0 100 100" preserveAspectRatio="none" style="overflow:hidden"><rect x="0" y="0" width="100" height="100" fill="#c98a5a"/><g filter="url(#b0)"><polygon points="0,0 28,0 12,100 0,100" fill="#2f5f94"/><polygon points="24,0 100,0 100,38 18,42" fill="#e0823a"/><polygon points="30,0 70,0 60,20 36,22" fill="#f0a050" opacity="0.8"/><rect x="68" y="32" width="32" height="50" fill="#b88b62"/><rect x="72" y="78" width="28" height="22" fill="#c98a52"/><ellipse cx="50" cy="68" rx="37" ry="36" fill="#d9232d"/><ellipse cx="26" cy="74" rx="12" ry="20" fill="#e23a44"/><ellipse cx="76" cy="74" rx="12" ry="20" fill="#d12832"/><ellipse cx="52" cy="28" rx="13" ry="22" fill="#e43546"/><ellipse cx="47" cy="18" rx="6" ry="8" fill="#f3a0a8" opacity="0.7"/><ellipse cx="58" cy="30" rx="5" ry="10" fill="#c81e30"/><ellipse cx="47" cy="58" rx="8.5" ry="9.5" fill="#ead78e"/><polygon points="40,54 54,54 47,68" fill="#f0e2a2"/><ellipse cx="28" cy="43" rx="3.2" ry="3.2" fill="#f0c040"/><ellipse cx="28" cy="43" rx="1.8" ry="1.8" fill="#120a06"/><ellipse cx="72" cy="43" rx="3.2" ry="3.2" fill="#f0c040"/><ellipse cx="72" cy="43" rx="1.8" ry="1.8" fill="#120a06"/><polygon points="4,100 26,82 74,82 96,100" fill="#8f2312"/><ellipse cx="50" cy="86" rx="10" ry="14" fill="#b51d24"/></g></svg><svg x="2831.7" y="1225" width="122.5" height="122.5" viewBox="0 0 100 100" preserveAspectRatio="none" style="overflow:hidden"><defs><radialGradient id="sg7" gradientUnits="userSpaceOnUse" cx="0" cy="0" r="1" gradientTransform="translate(50 66) scale(58 52)"><stop offset="0" stop-color="#000" stop-opacity="0.55"/><stop offset=".45" stop-color="#000" stop-opacity="0.65"/><stop offset="1" stop-color="#000" stop-opacity="0.95"/></radialGradient></defs><rect x="0" y="0" width="100" height="100" fill="#c98a5a"/><g filter="url(#b0)"><polygon points="0,0 28,0 12,100 0,100" fill="#2f5f94"/><polygon points="24,0 100,0 100,38 18,42" fill="#e0823a"/><polygon points="30,0 70,0 60,20 36,22" fill="#f0a050" opacity="0.8"/><rect x="68" y="32" width="32" height="50" fill="#b88b62"/><rect x="72" y="78" width="28" height="22" fill="#c98a52"/><ellipse cx="50" cy="68" rx="37" ry="36" fill="#d9232d"/><ellipse cx="26" cy="74" rx="12" ry="20" fill="#e23a44"/><ellipse cx="76" cy="74" rx="12" ry="20" fill="#d12832"/><ellipse cx="52" cy="28" rx="13" ry="22" fill="#e43546"/><ellipse cx="47" cy="18" rx="6" ry="8" fill="#f3a0a8" opacity="0.7"/><ellipse cx="58" cy="30" rx="5" ry="10" fill="#c81e30"/><ellipse cx="47" cy="58" rx="8.5" ry="9.5" fill="#ead78e"/><polygon points="40,54 54,54 47,68" fill="#f0e2a2"/><ellipse cx="28" cy="43" rx="3.2" ry="3.2" fill="#f0c040"/><ellipse cx="28" cy="43" rx="1.8" ry="1.8" fill="#120a06"/><ellipse cx="72" cy="43" rx="3.2" ry="3.2" fill="#f0c040"/><ellipse cx="72" cy="43" rx="1.8" ry="1.8" fill="#120a06"/><polygon points="4,100 26,82 74,82 96,100" fill="#8f2312"/><ellipse cx="50" cy="86" rx="10" ry="14" fill="#b51d24"/></g><rect x="0" y="0" width="100" height="100" fill="url(#sg7)"/></svg><svg x="2979.6" y="1225" width="122.5" height="122.5" viewBox="0 0 100 100" preserveAspectRatio="none" style="overflow:hidden"><defs><radialGradient id="sg8" gradientUnits="userSpaceOnUse" cx="0" cy="0" r="1" gradientTransform="translate(48 64) scale(62 56)"><stop offset="0" stop-color="#000" stop-opacity="0.38"/><stop offset=".45" stop-color="#000" stop-opacity="0.52"/><stop offset="1" stop-color="#000" stop-opacity="0.92"/></radialGradient></defs><rect x="0" y="0" width="100" height="100" fill="#c98a5a"/><g filter="url(#b0)"><polygon points="0,0 28,0 12,100 0,100" fill="#2f5f94"/><polygon points="24,0 100,0 100,38 18,42" fill="#e0823a"/><polygon points="30,0 70,0 60,20 36,22" fill="#f0a050" opacity="0.8"/><rect x="68" y="32" width="32" height="50" fill="#b88b62"/><rect x="72" y="78" width="28" height="22" fill="#c98a52"/><ellipse cx="50" cy="68" rx="37" ry="36" fill="#d9232d"/><ellipse cx="26" cy="74" rx="12" ry="20" fill="#e23a44"/><ellipse cx="76" cy="74" rx="12" ry="20" fill="#d12832"/><ellipse cx="52" cy="28" rx="13" ry="22" fill="#e43546"/><ellipse cx="47" cy="18" rx="6" ry="8" fill="#f3a0a8" opacity="0.7"/><ellipse cx="58" cy="30" rx="5" ry="10" fill="#c81e30"/><ellipse cx="47" cy="58" rx="8.5" ry="9.5" fill="#ead78e"/><polygon points="40,54 54,54 47,68" fill="#f0e2a2"/><ellipse cx="28" cy="43" rx="3.2" ry="3.2" fill="#f0c040"/><ellipse cx="28" cy="43" rx="1.8" ry="1.8" fill="#120a06"/><ellipse cx="72" cy="43" rx="3.2" ry="3.2" fill="#f0c040"/><ellipse cx="72" cy="43" rx="1.8" ry="1.8" fill="#120a06"/><polygon points="4,100 26,82 74,82 96,100" fill="#8f2312"/><ellipse cx="50" cy="86" rx="10" ry="14" fill="#b51d24"/></g><rect x="0" y="0" width="100" height="100" fill="url(#sg8)"/></svg><svg x="3127.3" y="1225" width="122.5" height="122.5" viewBox="0 0 100 100" preserveAspectRatio="none" style="overflow:hidden"><defs><radialGradient id="sg9" gradientUnits="userSpaceOnUse" cx="0" cy="0" r="1" gradientTransform="translate(50 60) scale(52 50)"><stop offset="0" stop-color="#000" stop-opacity="0.62"/><stop offset=".45" stop-color="#000" stop-opacity="0.7"/><stop offset="1" stop-color="#000" stop-opacity="0.95"/></radialGradient></defs><rect x="0" y="0" width="100" height="100" fill="#c98a5a"/><g filter="url(#b0)"><polygon points="0,0 28,0 12,100 0,100" fill="#2f5f94"/><polygon points="24,0 100,0 100,38 18,42" fill="#e0823a"/><polygon points="30,0 70,0 60,20 36,22" fill="#f0a050" opacity="0.8"/><rect x="68" y="32" width="32" height="50" fill="#b88b62"/><rect x="72" y="78" width="28" height="22" fill="#c98a52"/><ellipse cx="50" cy="68" rx="37" ry="36" fill="#d9232d"/><ellipse cx="26" cy="74" rx="12" ry="20" fill="#e23a44"/><ellipse cx="76" cy="74" rx="12" ry="20" fill="#d12832"/><ellipse cx="52" cy="28" rx="13" ry="22" fill="#e43546"/><ellipse cx="47" cy="18" rx="6" ry="8" fill="#f3a0a8" opacity="0.7"/><ellipse cx="58" cy="30" rx="5" ry="10" fill="#c81e30"/><ellipse cx="47" cy="58" rx="8.5" ry="9.5" fill="#ead78e"/><polygon points="40,54 54,54 47,68" fill="#f0e2a2"/><ellipse cx="28" cy="43" rx="3.2" ry="3.2" fill="#f0c040"/><ellipse cx="28" cy="43" rx="1.8" ry="1.8" fill="#120a06"/><ellipse cx="72" cy="43" rx="3.2" ry="3.2" fill="#f0c040"/><ellipse cx="72" cy="43" rx="1.8" ry="1.8" fill="#120a06"/><polygon points="4,100 26,82 74,82 96,100" fill="#8f2312"/><ellipse cx="50" cy="86" rx="10" ry="14" fill="#b51d24"/></g><rect x="0" y="0" width="100" height="100" fill="url(#sg9)"/><g filter="url(#b1)"><ellipse cx="27" cy="43" rx="5" ry="3.5" fill="#f0c060" opacity="0.8"/><ellipse cx="73" cy="43" rx="5" ry="3.5" fill="#f0c060" opacity="0.8"/><ellipse cx="47" cy="58" rx="7" ry="8" fill="#d8d0c0" opacity="0.5"/></g></svg><svg x="3317" y="1225" width="122.5" height="122.5" viewBox="0 0 100 100" preserveAspectRatio="none" style="overflow:hidden"><rect x="0" y="0" width="100" height="100" fill="#84905f"/><g filter="url(#b0)"><rect x="0" y="0" width="100" height="100" fill="#84905f"/><rect x="0" y="0" width="45" height="28" fill="#96a06e" opacity="0.7"/><rect x="0" y="70" width="28" height="30" fill="#78855a" opacity="0.7"/><rect x="60" y="20" width="40" height="30" fill="#8c9868" opacity="0.6"/><ellipse cx="10" cy="78" rx="6" ry="4" fill="#5e8a3e" opacity="0.8"/><ellipse cx="90" cy="70" rx="8" ry="5" fill="#9aa472" opacity="0.7"/><path d="M28,100 C20,80 28,57 42,46 C39,30 42,12 52,4 C58,-2 72,-2 78,8 C86,20 84,40 80,48 C90,60 92,85 86,100 Z" fill="#131317"/><ellipse cx="20" cy="50" rx="10" ry="3.2" fill="#131317" transform="rotate(32 20 50)"/><ellipse cx="12" cy="44" rx="2.5" ry="2" fill="#e8e8e8"/><ellipse cx="36" cy="88" rx="4.5" ry="9" fill="#b06a2e"/><ellipse cx="84" cy="88" rx="4" ry="9" fill="#b06a2e"/><ellipse cx="41" cy="96" rx="5" ry="3.5" fill="#f0f0f0"/><ellipse cx="80" cy="95" rx="5" ry="3" fill="#eaeaea"/><path d="M50,42 C56,50 66,50 72,42 C75,60 71,74 64,79 C57,74 49,62 50,42 Z" fill="#f2f2f2"/><ellipse cx="61" cy="17" rx="3.3" ry="11" fill="#f6f6f6"/><ellipse cx="61" cy="30" rx="8" ry="6.5" fill="#f4f4f4"/><ellipse cx="61" cy="31" rx="2.6" ry="2.2" fill="#101010"/><ellipse cx="54" cy="22" rx="2" ry="1.6" fill="#a0622c"/><ellipse cx="68" cy="22" rx="2" ry="1.6" fill="#a0622c"/></g></svg><svg x="3463.8" y="1225" width="122.5" height="122.5" viewBox="0 0 100 100" preserveAspectRatio="none" style="overflow:hidden"><defs><radialGradient id="sg10" gradientUnits="userSpaceOnUse" cx="0" cy="0" r="1" gradientTransform="translate(60 45) scale(72 72)"><stop offset="0" stop-color="#000" stop-opacity="0.34"/><stop offset=".45" stop-color="#000" stop-opacity="0.49"/><stop offset="1" stop-color="#000" stop-opacity="0.93"/></radialGradient></defs><rect x="0" y="0" width="100" height="100" fill="#84905f"/><g filter="url(#b0)"><rect x="0" y="0" width="100" height="100" fill="#84905f"/><rect x="0" y="0" width="45" height="28" fill="#96a06e" opacity="0.7"/><rect x="0" y="70" width="28" height="30" fill="#78855a" opacity="0.7"/><rect x="60" y="20" width="40" height="30" fill="#8c9868" opacity="0.6"/><ellipse cx="10" cy="78" rx="6" ry="4" fill="#5e8a3e" opacity="0.8"/><ellipse cx="90" cy="70" rx="8" ry="5" fill="#9aa472" opacity="0.7"/><path d="M28,100 C20,80 28,57 42,46 C39,30 42,12 52,4 C58,-2 72,-2 78,8 C86,20 84,40 80,48 C90,60 92,85 86,100 Z" fill="#131317"/><ellipse cx="20" cy="50" rx="10" ry="3.2" fill="#131317" transform="rotate(32 20 50)"/><ellipse cx="12" cy="44" rx="2.5" ry="2" fill="#e8e8e8"/><ellipse cx="36" cy="88" rx="4.5" ry="9" fill="#b06a2e"/><ellipse cx="84" cy="88" rx="4" ry="9" fill="#b06a2e"/><ellipse cx="41" cy="96" rx="5" ry="3.5" fill="#f0f0f0"/><ellipse cx="80" cy="95" rx="5" ry="3" fill="#eaeaea"/><path d="M50,42 C56,50 66,50 72,42 C75,60 71,74 64,79 C57,74 49,62 50,42 Z" fill="#f2f2f2"/><ellipse cx="61" cy="17" rx="3.3" ry="11" fill="#f6f6f6"/><ellipse cx="61" cy="30" rx="8" ry="6.5" fill="#f4f4f4"/><ellipse cx="61" cy="31" rx="2.6" ry="2.2" fill="#101010"/><ellipse cx="54" cy="22" rx="2" ry="1.6" fill="#a0622c"/><ellipse cx="68" cy="22" rx="2" ry="1.6" fill="#a0622c"/></g><rect x="0" y="0" width="100" height="100" fill="url(#sg10)"/></svg><svg x="3611.5" y="1225" width="122.5" height="122.5" viewBox="0 0 100 100" preserveAspectRatio="none" style="overflow:hidden"><defs><radialGradient id="sg11" gradientUnits="userSpaceOnUse" cx="0" cy="0" r="1" gradientTransform="translate(60 52) scale(60 62)"><stop offset="0" stop-color="#000" stop-opacity="0.3"/><stop offset=".45" stop-color="#000" stop-opacity="0.46"/><stop offset="1" stop-color="#000" stop-opacity="0.96"/></radialGradient></defs><rect x="0" y="0" width="100" height="100" fill="#84905f"/><g filter="url(#b1)"><rect x="0" y="0" width="100" height="100" fill="#84905f"/><rect x="0" y="0" width="45" height="28" fill="#96a06e" opacity="0.7"/><rect x="0" y="70" width="28" height="30" fill="#78855a" opacity="0.7"/><rect x="60" y="20" width="40" height="30" fill="#8c9868" opacity="0.6"/><ellipse cx="10" cy="78" rx="6" ry="4" fill="#5e8a3e" opacity="0.8"/><ellipse cx="90" cy="70" rx="8" ry="5" fill="#9aa472" opacity="0.7"/><path d="M28,100 C20,80 28,57 42,46 C39,30 42,12 52,4 C58,-2 72,-2 78,8 C86,20 84,40 80,48 C90,60 92,85 86,100 Z" fill="#131317"/><ellipse cx="20" cy="50" rx="10" ry="3.2" fill="#131317" transform="rotate(32 20 50)"/><ellipse cx="12" cy="44" rx="2.5" ry="2" fill="#e8e8e8"/><ellipse cx="36" cy="88" rx="4.5" ry="9" fill="#b06a2e"/><ellipse cx="84" cy="88" rx="4" ry="9" fill="#b06a2e"/><ellipse cx="41" cy="96" rx="5" ry="3.5" fill="#f0f0f0"/><ellipse cx="80" cy="95" rx="5" ry="3" fill="#eaeaea"/><path d="M50,42 C56,50 66,50 72,42 C75,60 71,74 64,79 C57,74 49,62 50,42 Z" fill="#f2f2f2"/><ellipse cx="61" cy="17" rx="3.3" ry="11" fill="#f6f6f6"/><ellipse cx="61" cy="30" rx="8" ry="6.5" fill="#f4f4f4"/><ellipse cx="61" cy="31" rx="2.6" ry="2.2" fill="#101010"/><ellipse cx="54" cy="22" rx="2" ry="1.6" fill="#a0622c"/><ellipse cx="68" cy="22" rx="2" ry="1.6" fill="#a0622c"/></g><rect x="0" y="0" width="100" height="100" fill="url(#sg11)"/></svg><svg x="3759.4" y="1225" width="122.5" height="122.5" viewBox="0 0 100 100" preserveAspectRatio="none" style="overflow:hidden"><defs><radialGradient id="sg12" gradientUnits="userSpaceOnUse" cx="0" cy="0" r="1" gradientTransform="translate(61 22) scale(26 28)"><stop offset="0" stop-color="#000" stop-opacity="0.05"/><stop offset=".45" stop-color="#000" stop-opacity="0.28"/><stop offset="1" stop-color="#000" stop-opacity="0.98"/></radialGradient></defs><rect x="0" y="0" width="100" height="100" fill="#84905f"/><g filter="url(#b0)"><rect x="0" y="0" width="100" height="100" fill="#84905f"/><rect x="0" y="0" width="45" height="28" fill="#96a06e" opacity="0.7"/><rect x="0" y="70" width="28" height="30" fill="#78855a" opacity="0.7"/><rect x="60" y="20" width="40" height="30" fill="#8c9868" opacity="0.6"/><ellipse cx="10" cy="78" rx="6" ry="4" fill="#5e8a3e" opacity="0.8"/><ellipse cx="90" cy="70" rx="8" ry="5" fill="#9aa472" opacity="0.7"/><path d="M28,100 C20,80 28,57 42,46 C39,30 42,12 52,4 C58,-2 72,-2 78,8 C86,20 84,40 80,48 C90,60 92,85 86,100 Z" fill="#131317"/><ellipse cx="20" cy="50" rx="10" ry="3.2" fill="#131317" transform="rotate(32 20 50)"/><ellipse cx="12" cy="44" rx="2.5" ry="2" fill="#e8e8e8"/><ellipse cx="36" cy="88" rx="4.5" ry="9" fill="#b06a2e"/><ellipse cx="84" cy="88" rx="4" ry="9" fill="#b06a2e"/><ellipse cx="41" cy="96" rx="5" ry="3.5" fill="#f0f0f0"/><ellipse cx="80" cy="95" rx="5" ry="3" fill="#eaeaea"/><path d="M50,42 C56,50 66,50 72,42 C75,60 71,74 64,79 C57,74 49,62 50,42 Z" fill="#f2f2f2"/><ellipse cx="61" cy="17" rx="3.3" ry="11" fill="#f6f6f6"/><ellipse cx="61" cy="30" rx="8" ry="6.5" fill="#f4f4f4"/><ellipse cx="61" cy="31" rx="2.6" ry="2.2" fill="#101010"/><ellipse cx="54" cy="22" rx="2" ry="1.6" fill="#a0622c"/><ellipse cx="68" cy="22" rx="2" ry="1.6" fill="#a0622c"/></g><rect x="0" y="0" width="100" height="100" fill="url(#sg12)"/><g filter="url(#b1)"><ellipse cx="88" cy="18" rx="6" ry="5" fill="#8a9468" opacity="0.7"/></g></svg><svg x="2683.6" y="1401.3" width="122.5" height="122.5" viewBox="0 0 100 100" preserveAspectRatio="none" style="overflow:hidden"><rect x="0" y="0" width="100" height="100" fill="#5d9fdf"/><g filter="url(#b0)"><rect x="0" y="0" width="100" height="30" fill="#4f96e0" opacity="0.8"/><ellipse cx="22" cy="60" rx="27" ry="16" fill="#f3f6fb"/><ellipse cx="12" cy="72" rx="16" ry="9" fill="#e9f0f9"/><ellipse cx="82" cy="50" rx="20" ry="14" fill="#f1f5fb"/><ellipse cx="92" cy="30" rx="12" ry="8" fill="#e4eefa" opacity="0.9"/><ellipse cx="72" cy="8" rx="24" ry="6" fill="#d6e6f7" opacity="0.8"/><ellipse cx="30" cy="12" rx="12" ry="4" fill="#cfe1f5" opacity="0.7"/><ellipse cx="86" cy="76" rx="18" ry="8" fill="#dbe8f6" opacity="0.85"/><polygon points="0,82 10,72 22,76 32,68 44,86 52,100 0,100" fill="#335f25"/><polygon points="0,90 20,82 40,92 46,100 0,100" fill="#274a1c"/><polygon points="60,100 68,86 82,82 100,78 100,100" fill="#55783c"/><polygon points="62,100 76,90 100,90 100,100" fill="#3f6a2c"/><polygon points="42,48 57,46 63,100 47,100" fill="#c6c4c0"/><polygon points="50,48 57,46 63,100 56,100" fill="#aeaca8"/><ellipse cx="49" cy="32" rx="12.5" ry="10" fill="#d7d2ca"/><ellipse cx="52" cy="24" rx="10" ry="4" fill="#ece6dc"/><ellipse cx="55" cy="31" rx="2.6" ry="2.4" fill="#2a2a30"/><polygon points="29,39 48,33 52,39 36,46" fill="#b9b0a8"/><polygon points="34,41 50,36 52,41 38,45" fill="#d9566a"/></g></svg><svg x="2831.7" y="1401.3" width="122.5" height="122.5" viewBox="0 0 100 100" preserveAspectRatio="none" style="overflow:hidden"><defs><radialGradient id="sg13" gradientUnits="userSpaceOnUse" cx="0" cy="0" r="1" gradientTransform="translate(48 58) scale(15 60)"><stop offset="0" stop-color="#000" stop-opacity="0.25"/><stop offset=".45" stop-color="#000" stop-opacity="0.43"/><stop offset="1" stop-color="#000" stop-opacity="0.98"/></radialGradient></defs><rect x="0" y="0" width="100" height="100" fill="#5d9fdf"/><g filter="url(#b0)"><rect x="0" y="0" width="100" height="30" fill="#4f96e0" opacity="0.8"/><ellipse cx="22" cy="60" rx="27" ry="16" fill="#f3f6fb"/><ellipse cx="12" cy="72" rx="16" ry="9" fill="#e9f0f9"/><ellipse cx="82" cy="50" rx="20" ry="14" fill="#f1f5fb"/><ellipse cx="92" cy="30" rx="12" ry="8" fill="#e4eefa" opacity="0.9"/><ellipse cx="72" cy="8" rx="24" ry="6" fill="#d6e6f7" opacity="0.8"/><ellipse cx="30" cy="12" rx="12" ry="4" fill="#cfe1f5" opacity="0.7"/><ellipse cx="86" cy="76" rx="18" ry="8" fill="#dbe8f6" opacity="0.85"/><polygon points="0,82 10,72 22,76 32,68 44,86 52,100 0,100" fill="#335f25"/><polygon points="0,90 20,82 40,92 46,100 0,100" fill="#274a1c"/><polygon points="60,100 68,86 82,82 100,78 100,100" fill="#55783c"/><polygon points="62,100 76,90 100,90 100,100" fill="#3f6a2c"/><polygon points="42,48 57,46 63,100 47,100" fill="#c6c4c0"/><polygon points="50,48 57,46 63,100 56,100" fill="#aeaca8"/><ellipse cx="49" cy="32" rx="12.5" ry="10" fill="#d7d2ca"/><ellipse cx="52" cy="24" rx="10" ry="4" fill="#ece6dc"/><ellipse cx="55" cy="31" rx="2.6" ry="2.4" fill="#2a2a30"/><polygon points="29,39 48,33 52,39 36,46" fill="#b9b0a8"/><polygon points="34,41 50,36 52,41 38,45" fill="#d9566a"/></g><rect x="0" y="0" width="100" height="100" fill="url(#sg13)"/><g filter="url(#b1)"><rect x="16" y="20" width="42" height="30" fill="#44607c" opacity="0.32"/><ellipse cx="75" cy="80" rx="4" ry="4" fill="#9fb8cf" opacity="0.6"/><ellipse cx="27" cy="52" rx="5" ry="5" fill="#b8c8d8" opacity="0.4"/></g></svg><svg x="2979.6" y="1401.3" width="122.5" height="122.5" viewBox="0 0 100 100" preserveAspectRatio="none" style="overflow:hidden"><defs><radialGradient id="sg14" gradientUnits="userSpaceOnUse" cx="0" cy="0" r="1" gradientTransform="translate(47 58) scale(17 62)"><stop offset="0" stop-color="#000" stop-opacity="0.12"/><stop offset=".45" stop-color="#000" stop-opacity="0.33"/><stop offset="1" stop-color="#000" stop-opacity="0.97"/></radialGradient></defs><rect x="0" y="0" width="100" height="100" fill="#5d9fdf"/><g filter="url(#b0)"><rect x="0" y="0" width="100" height="30" fill="#4f96e0" opacity="0.8"/><ellipse cx="22" cy="60" rx="27" ry="16" fill="#f3f6fb"/><ellipse cx="12" cy="72" rx="16" ry="9" fill="#e9f0f9"/><ellipse cx="82" cy="50" rx="20" ry="14" fill="#f1f5fb"/><ellipse cx="92" cy="30" rx="12" ry="8" fill="#e4eefa" opacity="0.9"/><ellipse cx="72" cy="8" rx="24" ry="6" fill="#d6e6f7" opacity="0.8"/><ellipse cx="30" cy="12" rx="12" ry="4" fill="#cfe1f5" opacity="0.7"/><ellipse cx="86" cy="76" rx="18" ry="8" fill="#dbe8f6" opacity="0.85"/><polygon points="0,82 10,72 22,76 32,68 44,86 52,100 0,100" fill="#335f25"/><polygon points="0,90 20,82 40,92 46,100 0,100" fill="#274a1c"/><polygon points="60,100 68,86 82,82 100,78 100,100" fill="#55783c"/><polygon points="62,100 76,90 100,90 100,100" fill="#3f6a2c"/><polygon points="42,48 57,46 63,100 47,100" fill="#c6c4c0"/><polygon points="50,48 57,46 63,100 56,100" fill="#aeaca8"/><ellipse cx="49" cy="32" rx="12.5" ry="10" fill="#d7d2ca"/><ellipse cx="52" cy="24" rx="10" ry="4" fill="#ece6dc"/><ellipse cx="55" cy="31" rx="2.6" ry="2.4" fill="#2a2a30"/><polygon points="29,39 48,33 52,39 36,46" fill="#b9b0a8"/><polygon points="34,41 50,36 52,41 38,45" fill="#d9566a"/></g><rect x="0" y="0" width="100" height="100" fill="url(#sg14)"/><g filter="url(#b1)"><rect x="20" y="17" width="28" height="26" fill="#4f8fd2" opacity="0.6"/><polygon points="0,82 30,72 42,100 0,100" fill="#2e5422" opacity="0.5"/><rect x="55" y="45" width="45" height="30" fill="#1b2634" opacity="0.35"/></g></svg><svg x="3127.3" y="1401.3" width="122.5" height="122.5" viewBox="0 0 100 100" preserveAspectRatio="none" style="overflow:hidden"><defs><radialGradient id="sg15" gradientUnits="userSpaceOnUse" cx="0" cy="0" r="1" gradientTransform="translate(51 72) scale(13 48)"><stop offset="0" stop-color="#000" stop-opacity="0.15"/><stop offset=".45" stop-color="#000" stop-opacity="0.36"/><stop offset="1" stop-color="#000" stop-opacity="0.97"/></radialGradient></defs><rect x="0" y="0" width="100" height="100" fill="#5d9fdf"/><g filter="url(#b0)"><rect x="0" y="0" width="100" height="30" fill="#4f96e0" opacity="0.8"/><ellipse cx="22" cy="60" rx="27" ry="16" fill="#f3f6fb"/><ellipse cx="12" cy="72" rx="16" ry="9" fill="#e9f0f9"/><ellipse cx="82" cy="50" rx="20" ry="14" fill="#f1f5fb"/><ellipse cx="92" cy="30" rx="12" ry="8" fill="#e4eefa" opacity="0.9"/><ellipse cx="72" cy="8" rx="24" ry="6" fill="#d6e6f7" opacity="0.8"/><ellipse cx="30" cy="12" rx="12" ry="4" fill="#cfe1f5" opacity="0.7"/><ellipse cx="86" cy="76" rx="18" ry="8" fill="#dbe8f6" opacity="0.85"/><polygon points="0,82 10,72 22,76 32,68 44,86 52,100 0,100" fill="#335f25"/><polygon points="0,90 20,82 40,92 46,100 0,100" fill="#274a1c"/><polygon points="60,100 68,86 82,82 100,78 100,100" fill="#55783c"/><polygon points="62,100 76,90 100,90 100,100" fill="#3f6a2c"/><polygon points="42,48 57,46 63,100 47,100" fill="#c6c4c0"/><polygon points="50,48 57,46 63,100 56,100" fill="#aeaca8"/><ellipse cx="49" cy="32" rx="12.5" ry="10" fill="#d7d2ca"/><ellipse cx="52" cy="24" rx="10" ry="4" fill="#ece6dc"/><ellipse cx="55" cy="31" rx="2.6" ry="2.4" fill="#2a2a30"/><polygon points="29,39 48,33 52,39 36,46" fill="#b9b0a8"/><polygon points="34,41 50,36 52,41 38,45" fill="#d9566a"/></g><rect x="0" y="0" width="100" height="100" fill="url(#sg15)"/><g filter="url(#b1)"><rect x="57" y="48" width="11" height="32" fill="#9fb5ca" opacity="0.45"/><ellipse cx="64" cy="82" rx="5" ry="6" fill="#2f5a8a" opacity="0.6"/></g></svg><svg x="3317" y="1401.3" width="122.5" height="122.5" viewBox="0 0 100 100" preserveAspectRatio="none" style="overflow:hidden"><rect x="0" y="0" width="100" height="100" fill="#e9ecf0"/><g filter="url(#b0)"><rect x="0" y="0" width="100" height="100" fill="#e9ecf0"/><polygon points="0,0 32,0 34,100 0,100" fill="#8f887a"/><polygon points="0,0 14,0 20,100 0,100" fill="#6a6458"/><polygon points="0,18 22,40 24,100 0,100" fill="#5a554b" opacity="0.7"/><polygon points="66,25 80,0 100,0 100,100 64,100" fill="#a29a88"/><polygon points="80,0 100,0 100,100 86,100" fill="#8d8574"/><rect x="33" y="42" width="33" height="50" fill="#e4e2da"/><rect x="36" y="38" width="28" height="6" fill="#d2cfc4"/><ellipse cx="50" cy="31" rx="17" ry="12" fill="#6fb5ab"/><polygon points="33,32 67,32 64,42 36,42" fill="#5da399"/><rect x="44" y="13" width="12" height="10" fill="#7bb7ad"/><rect x="46" y="8" width="8" height="6" fill="#8cc2b8"/><rect x="49.3" y="3" width="1.4" height="6" fill="#c8a850"/><ellipse cx="47" cy="64" rx="8" ry="5" fill="#6d6f74"/><rect x="40" y="64" width="15" height="8" fill="#6d6f74"/><rect x="43" y="50" width="7" height="7" fill="#7a7c80"/><rect x="40" y="78" width="20" height="12" fill="#cfc6b4"/><rect x="0" y="86" width="100" height="14" fill="#38373a"/><rect x="52" y="87" width="25" height="9" fill="#d8d8d8"/><ellipse cx="28" cy="76" rx="3" ry="2.5" fill="#e0306a"/><rect x="68" y="60" width="30" height="28" fill="#7d7668" opacity="0.6"/><ellipse cx="12" cy="96" rx="6" ry="6" fill="#2a2624"/></g></svg><svg x="3463.8" y="1401.3" width="122.5" height="122.5" viewBox="0 0 100 100" preserveAspectRatio="none" style="overflow:hidden"><defs><radialGradient id="sg16" gradientUnits="userSpaceOnUse" cx="0" cy="0" r="1" gradientTransform="translate(56 42) scale(56 95)"><stop offset="0" stop-color="#000" stop-opacity="0.02"/><stop offset=".45" stop-color="#000" stop-opacity="0.21"/><stop offset="1" stop-color="#000" stop-opacity="0.8"/></radialGradient></defs><rect x="0" y="0" width="100" height="100" fill="#e9ecf0"/><g filter="url(#b0)"><rect x="0" y="0" width="100" height="100" fill="#e9ecf0"/><polygon points="0,0 32,0 34,100 0,100" fill="#8f887a"/><polygon points="0,0 14,0 20,100 0,100" fill="#6a6458"/><polygon points="0,18 22,40 24,100 0,100" fill="#5a554b" opacity="0.7"/><polygon points="66,25 80,0 100,0 100,100 64,100" fill="#a29a88"/><polygon points="80,0 100,0 100,100 86,100" fill="#8d8574"/><rect x="33" y="42" width="33" height="50" fill="#e4e2da"/><rect x="36" y="38" width="28" height="6" fill="#d2cfc4"/><ellipse cx="50" cy="31" rx="17" ry="12" fill="#6fb5ab"/><polygon points="33,32 67,32 64,42 36,42" fill="#5da399"/><rect x="44" y="13" width="12" height="10" fill="#7bb7ad"/><rect x="46" y="8" width="8" height="6" fill="#8cc2b8"/><rect x="49.3" y="3" width="1.4" height="6" fill="#c8a850"/><ellipse cx="47" cy="64" rx="8" ry="5" fill="#6d6f74"/><rect x="40" y="64" width="15" height="8" fill="#6d6f74"/><rect x="43" y="50" width="7" height="7" fill="#7a7c80"/><rect x="40" y="78" width="20" height="12" fill="#cfc6b4"/><rect x="0" y="86" width="100" height="14" fill="#38373a"/><rect x="52" y="87" width="25" height="9" fill="#d8d8d8"/><ellipse cx="28" cy="76" rx="3" ry="2.5" fill="#e0306a"/><rect x="68" y="60" width="30" height="28" fill="#7d7668" opacity="0.6"/><ellipse cx="12" cy="96" rx="6" ry="6" fill="#2a2624"/></g><rect x="0" y="0" width="100" height="100" fill="url(#sg16)"/><g filter="url(#b1)"><polygon points="14,0 32,0 32,55 20,40" fill="#0c0b0a" opacity="0.75"/><rect x="44" y="0" width="10" height="5" fill="#555" opacity="0.6"/></g></svg><svg x="3611.5" y="1401.3" width="122.5" height="122.5" viewBox="0 0 100 100" preserveAspectRatio="none" style="overflow:hidden"><defs><radialGradient id="sg17" gradientUnits="userSpaceOnUse" cx="0" cy="0" r="1" gradientTransform="translate(50 38) scale(34 62)"><stop offset="0" stop-color="#000" stop-opacity="0.06"/><stop offset=".45" stop-color="#000" stop-opacity="0.28"/><stop offset="1" stop-color="#000" stop-opacity="0.93"/></radialGradient></defs><rect x="0" y="0" width="100" height="100" fill="#e9ecf0"/><g filter="url(#b0)"><rect x="0" y="0" width="100" height="100" fill="#e9ecf0"/><polygon points="0,0 32,0 34,100 0,100" fill="#8f887a"/><polygon points="0,0 14,0 20,100 0,100" fill="#6a6458"/><polygon points="0,18 22,40 24,100 0,100" fill="#5a554b" opacity="0.7"/><polygon points="66,25 80,0 100,0 100,100 64,100" fill="#a29a88"/><polygon points="80,0 100,0 100,100 86,100" fill="#8d8574"/><rect x="33" y="42" width="33" height="50" fill="#e4e2da"/><rect x="36" y="38" width="28" height="6" fill="#d2cfc4"/><ellipse cx="50" cy="31" rx="17" ry="12" fill="#6fb5ab"/><polygon points="33,32 67,32 64,42 36,42" fill="#5da399"/><rect x="44" y="13" width="12" height="10" fill="#7bb7ad"/><rect x="46" y="8" width="8" height="6" fill="#8cc2b8"/><rect x="49.3" y="3" width="1.4" height="6" fill="#c8a850"/><ellipse cx="47" cy="64" rx="8" ry="5" fill="#6d6f74"/><rect x="40" y="64" width="15" height="8" fill="#6d6f74"/><rect x="43" y="50" width="7" height="7" fill="#7a7c80"/><rect x="40" y="78" width="20" height="12" fill="#cfc6b4"/><rect x="0" y="86" width="100" height="14" fill="#38373a"/><rect x="52" y="87" width="25" height="9" fill="#d8d8d8"/><ellipse cx="28" cy="76" rx="3" ry="2.5" fill="#e0306a"/><rect x="68" y="60" width="30" height="28" fill="#7d7668" opacity="0.6"/><ellipse cx="12" cy="96" rx="6" ry="6" fill="#2a2624"/></g><rect x="0" y="0" width="100" height="100" fill="url(#sg17)"/><g filter="url(#b1)"><polygon points="30,0 72,0 64,22 36,22" fill="#f0f2f4" opacity="0.75"/><rect x="0" y="55" width="30" height="45" fill="#000" opacity="0.5"/></g></svg><svg x="3759.4" y="1401.3" width="122.5" height="122.5" viewBox="0 0 100 100" preserveAspectRatio="none" style="overflow:hidden"><defs><radialGradient id="sg18" gradientUnits="userSpaceOnUse" cx="0" cy="0" r="1" gradientTransform="translate(50 36) scale(22 62)"><stop offset="0" stop-color="#000" stop-opacity="0.02"/><stop offset=".45" stop-color="#000" stop-opacity="0.26"/><stop offset="1" stop-color="#000" stop-opacity="0.97"/></radialGradient></defs><rect x="0" y="0" width="100" height="100" fill="#e9ecf0"/><g filter="url(#b0)"><rect x="0" y="0" width="100" height="100" fill="#e9ecf0"/><polygon points="0,0 32,0 34,100 0,100" fill="#8f887a"/><polygon points="0,0 14,0 20,100 0,100" fill="#6a6458"/><polygon points="0,18 22,40 24,100 0,100" fill="#5a554b" opacity="0.7"/><polygon points="66,25 80,0 100,0 100,100 64,100" fill="#a29a88"/><polygon points="80,0 100,0 100,100 86,100" fill="#8d8574"/><rect x="33" y="42" width="33" height="50" fill="#e4e2da"/><rect x="36" y="38" width="28" height="6" fill="#d2cfc4"/><ellipse cx="50" cy="31" rx="17" ry="12" fill="#6fb5ab"/><polygon points="33,32 67,32 64,42 36,42" fill="#5da399"/><rect x="44" y="13" width="12" height="10" fill="#7bb7ad"/><rect x="46" y="8" width="8" height="6" fill="#8cc2b8"/><rect x="49.3" y="3" width="1.4" height="6" fill="#c8a850"/><ellipse cx="47" cy="64" rx="8" ry="5" fill="#6d6f74"/><rect x="40" y="64" width="15" height="8" fill="#6d6f74"/><rect x="43" y="50" width="7" height="7" fill="#7a7c80"/><rect x="40" y="78" width="20" height="12" fill="#cfc6b4"/><rect x="0" y="86" width="100" height="14" fill="#38373a"/><rect x="52" y="87" width="25" height="9" fill="#d8d8d8"/><ellipse cx="28" cy="76" rx="3" ry="2.5" fill="#e0306a"/><rect x="68" y="60" width="30" height="28" fill="#7d7668" opacity="0.6"/><ellipse cx="12" cy="96" rx="6" ry="6" fill="#2a2624"/></g><rect x="0" y="0" width="100" height="100" fill="url(#sg18)"/><g filter="url(#b1)"><ellipse cx="50" cy="14" rx="15" ry="12" fill="#f4f5f6" opacity="0.7"/></g></svg><svg x="2683.6" y="1578" width="122.5" height="122.5" viewBox="0 0 100 100" preserveAspectRatio="none" style="overflow:hidden"><rect x="0" y="0" width="100" height="100" fill="#7194ba"/><g filter="url(#b0)"><rect x="0" y="0" width="100" height="35" fill="#6b8db4" opacity="0.7"/><rect x="0" y="70" width="100" height="30" fill="#7a9cc0" opacity="0.6"/><polygon points="0,60 100,67 100,71.5 0,64.5" fill="#161a24"/><ellipse cx="50.5" cy="47" rx="8.5" ry="12.5" fill="#8f6a48" transform="rotate(-8 50.5 47)"/><ellipse cx="48" cy="36" rx="5.5" ry="6" fill="#a5683c"/><ellipse cx="54" cy="50" rx="3.6" ry="5.5" fill="#e65a2e"/><polygon points="50,58 57,58 57,73 52,73" fill="#8a6a4c"/><ellipse cx="45" cy="52" rx="3" ry="9" fill="#6f563e" transform="rotate(10 45 52)"/></g></svg><svg x="2831.7" y="1578" width="122.5" height="122.5" viewBox="0 0 100 100" preserveAspectRatio="none" style="overflow:hidden"><defs><radialGradient id="sg19" gradientUnits="userSpaceOnUse" cx="0" cy="0" r="1" gradientTransform="translate(51 50) scale(20 26)"><stop offset="0" stop-color="#000" stop-opacity="0"/><stop offset=".45" stop-color="#000" stop-opacity="0.25"/><stop offset="1" stop-color="#000" stop-opacity="0.98"/></radialGradient></defs><rect x="0" y="0" width="100" height="100" fill="#7194ba"/><g filter="url(#b0)"><rect x="0" y="0" width="100" height="35" fill="#6b8db4" opacity="0.7"/><rect x="0" y="70" width="100" height="30" fill="#7a9cc0" opacity="0.6"/><polygon points="0,60 100,67 100,71.5 0,64.5" fill="#161a24"/><ellipse cx="50.5" cy="47" rx="8.5" ry="12.5" fill="#8f6a48" transform="rotate(-8 50.5 47)"/><ellipse cx="48" cy="36" rx="5.5" ry="6" fill="#a5683c"/><ellipse cx="54" cy="50" rx="3.6" ry="5.5" fill="#e65a2e"/><polygon points="50,58 57,58 57,73 52,73" fill="#8a6a4c"/><ellipse cx="45" cy="52" rx="3" ry="9" fill="#6f563e" transform="rotate(10 45 52)"/></g><rect x="0" y="0" width="100" height="100" fill="url(#sg19)"/></svg><svg x="2979.6" y="1578" width="122.5" height="122.5" viewBox="0 0 100 100" preserveAspectRatio="none" style="overflow:hidden"><defs><radialGradient id="sg20" gradientUnits="userSpaceOnUse" cx="0" cy="0" r="1" gradientTransform="translate(51 52) scale(18 25)"><stop offset="0" stop-color="#000" stop-opacity="0"/><stop offset=".45" stop-color="#000" stop-opacity="0.24"/><stop offset="1" stop-color="#000" stop-opacity="0.97"/></radialGradient></defs><rect x="0" y="0" width="100" height="100" fill="#7194ba"/><g filter="url(#b0)"><rect x="0" y="0" width="100" height="35" fill="#6b8db4" opacity="0.7"/><rect x="0" y="70" width="100" height="30" fill="#7a9cc0" opacity="0.6"/><polygon points="0,60 100,67 100,71.5 0,64.5" fill="#161a24"/><ellipse cx="50.5" cy="47" rx="8.5" ry="12.5" fill="#8f6a48" transform="rotate(-8 50.5 47)"/><ellipse cx="48" cy="36" rx="5.5" ry="6" fill="#a5683c"/><ellipse cx="54" cy="50" rx="3.6" ry="5.5" fill="#e65a2e"/><polygon points="50,58 57,58 57,73 52,73" fill="#8a6a4c"/><ellipse cx="45" cy="52" rx="3" ry="9" fill="#6f563e" transform="rotate(10 45 52)"/></g><rect x="0" y="0" width="100" height="100" fill="url(#sg20)"/></svg><svg x="3127.3" y="1578" width="122.5" height="122.5" viewBox="0 0 100 100" preserveAspectRatio="none" style="overflow:hidden"><defs><radialGradient id="sg21" gradientUnits="userSpaceOnUse" cx="0" cy="0" r="1" gradientTransform="translate(49 45) scale(15 17)"><stop offset="0" stop-color="#000" stop-opacity="0"/><stop offset=".45" stop-color="#000" stop-opacity="0.25"/><stop offset="1" stop-color="#000" stop-opacity="0.98"/></radialGradient></defs><rect x="0" y="0" width="100" height="100" fill="#7194ba"/><g filter="url(#b0)"><rect x="0" y="0" width="100" height="35" fill="#6b8db4" opacity="0.7"/><rect x="0" y="70" width="100" height="30" fill="#7a9cc0" opacity="0.6"/><polygon points="0,60 100,67 100,71.5 0,64.5" fill="#161a24"/><ellipse cx="50.5" cy="47" rx="8.5" ry="12.5" fill="#8f6a48" transform="rotate(-8 50.5 47)"/><ellipse cx="48" cy="36" rx="5.5" ry="6" fill="#a5683c"/><ellipse cx="54" cy="50" rx="3.6" ry="5.5" fill="#e65a2e"/><polygon points="50,58 57,58 57,73 52,73" fill="#8a6a4c"/><ellipse cx="45" cy="52" rx="3" ry="9" fill="#6f563e" transform="rotate(10 45 52)"/></g><rect x="0" y="0" width="100" height="100" fill="url(#sg21)"/></svg><svg x="3317" y="1578" width="122.5" height="122.5" viewBox="0 0 100 100" preserveAspectRatio="none" style="overflow:hidden"><rect x="0" y="0" width="100" height="100" fill="#5d4a3c"/><g filter="url(#b0)"><rect x="0" y="0" width="100" height="100" fill="#5d4a3c"/><rect x="0" y="40" width="100" height="60" fill="#6a5444" opacity="0.6"/><polygon points="0,0 100,0 100,30 88,38 12,38 0,30" fill="#17110d"/><polygon points="0,30 12,38 20,40 0,44" fill="#2a201a"/><polygon points="100,30 88,38 96,60 100,62" fill="#3a2c24"/><rect x="22" y="14" width="60" height="3" fill="#4a4a50" opacity="0.7"/><polygon points="24,42 80,42 83,87 21,87" fill="#c78863"/><polygon points="24,42 80,42 80.6,52 23.4,52" fill="#d0916c" opacity="0.7"/><rect x="0" y="88" width="100" height="12" fill="#54423a"/></g></svg><svg x="3463.8" y="1578" width="122.5" height="122.5" viewBox="0 0 100 100" preserveAspectRatio="none" style="overflow:hidden"><defs><radialGradient id="sg22" gradientUnits="userSpaceOnUse" cx="0" cy="0" r="1" gradientTransform="translate(52 66) scale(80 62)"><stop offset="0" stop-color="#000" stop-opacity="0.08"/><stop offset=".45" stop-color="#000" stop-opacity="0.24"/><stop offset="1" stop-color="#000" stop-opacity="0.72"/></radialGradient></defs><rect x="0" y="0" width="100" height="100" fill="#5d4a3c"/><g filter="url(#b0)"><rect x="0" y="0" width="100" height="100" fill="#5d4a3c"/><rect x="0" y="40" width="100" height="60" fill="#6a5444" opacity="0.6"/><polygon points="0,0 100,0 100,30 88,38 12,38 0,30" fill="#17110d"/><polygon points="0,30 12,38 20,40 0,44" fill="#2a201a"/><polygon points="100,30 88,38 96,60 100,62" fill="#3a2c24"/><rect x="22" y="14" width="60" height="3" fill="#4a4a50" opacity="0.7"/><polygon points="24,42 80,42 83,87 21,87" fill="#c78863"/><polygon points="24,42 80,42 80.6,52 23.4,52" fill="#d0916c" opacity="0.7"/><rect x="0" y="88" width="100" height="12" fill="#54423a"/></g><rect x="0" y="0" width="100" height="100" fill="url(#sg22)"/><g filter="url(#b1)"><ellipse cx="70" cy="48" rx="9" ry="7" fill="#3a2a20" opacity="0.5"/></g></svg><svg x="3611.5" y="1578" width="122.5" height="122.5" viewBox="0 0 100 100" preserveAspectRatio="none" style="overflow:hidden"><defs><radialGradient id="sg23" gradientUnits="userSpaceOnUse" cx="0" cy="0" r="1" gradientTransform="translate(50 70) scale(70 50)"><stop offset="0" stop-color="#000" stop-opacity="0.22"/><stop offset=".45" stop-color="#000" stop-opacity="0.38"/><stop offset="1" stop-color="#000" stop-opacity="0.86"/></radialGradient></defs><rect x="0" y="0" width="100" height="100" fill="#5d4a3c"/><g filter="url(#b0)"><rect x="0" y="0" width="100" height="100" fill="#5d4a3c"/><rect x="0" y="40" width="100" height="60" fill="#6a5444" opacity="0.6"/><polygon points="0,0 100,0 100,30 88,38 12,38 0,30" fill="#17110d"/><polygon points="0,30 12,38 20,40 0,44" fill="#2a201a"/><polygon points="100,30 88,38 96,60 100,62" fill="#3a2c24"/><rect x="22" y="14" width="60" height="3" fill="#4a4a50" opacity="0.7"/><polygon points="24,42 80,42 83,87 21,87" fill="#c78863"/><polygon points="24,42 80,42 80.6,52 23.4,52" fill="#d0916c" opacity="0.7"/><rect x="0" y="88" width="100" height="12" fill="#54423a"/></g><rect x="0" y="0" width="100" height="100" fill="url(#sg23)"/><g filter="url(#b1)"><rect x="10" y="53" width="80" height="6" fill="#20160f" opacity="0.7"/><rect x="40" y="90" width="40" height="10" fill="#100c0a" opacity="0.7"/></g></svg><svg x="3759.4" y="1578" width="122.5" height="122.5" viewBox="0 0 100 100" preserveAspectRatio="none" style="overflow:hidden"><defs><radialGradient id="sg24" gradientUnits="userSpaceOnUse" cx="0" cy="0" r="1" gradientTransform="translate(50 82) scale(62 34)"><stop offset="0" stop-color="#000" stop-opacity="0.25"/><stop offset=".45" stop-color="#000" stop-opacity="0.42"/><stop offset="1" stop-color="#000" stop-opacity="0.95"/></radialGradient></defs><rect x="0" y="0" width="100" height="100" fill="#5d4a3c"/><g filter="url(#b0)"><rect x="0" y="0" width="100" height="100" fill="#5d4a3c"/><rect x="0" y="40" width="100" height="60" fill="#6a5444" opacity="0.6"/><polygon points="0,0 100,0 100,30 88,38 12,38 0,30" fill="#17110d"/><polygon points="0,30 12,38 20,40 0,44" fill="#2a201a"/><polygon points="100,30 88,38 96,60 100,62" fill="#3a2c24"/><rect x="22" y="14" width="60" height="3" fill="#4a4a50" opacity="0.7"/><polygon points="24,42 80,42 83,87 21,87" fill="#c78863"/><polygon points="24,42 80,42 80.6,52 23.4,52" fill="#d0916c" opacity="0.7"/><rect x="0" y="88" width="100" height="12" fill="#54423a"/></g><rect x="0" y="0" width="100" height="100" fill="url(#sg24)"/><g filter="url(#b1)"><rect x="12" y="55" width="78" height="16" fill="#0c0908" opacity="0.92"/><rect x="0" y="45" width="22" height="40" fill="#0f0b0a" opacity="0.7"/></g></svg><text x="3380.5" y="1664" font-size="17.5" fill="#15100d" text-anchor="middle" textLength="62" lengthAdjust="spacingAndGlyphs" opacity="1">GO AWAY</text><text x="3527.3" y="1664" font-size="17.5" fill="#15100d" text-anchor="middle" textLength="62" lengthAdjust="spacingAndGlyphs" opacity="0.9">GO AWAY</text><text x="3675" y="1664" font-size="17.5" fill="#15100d" text-anchor="middle" textLength="62" lengthAdjust="spacingAndGlyphs" opacity="0.8">GO AWAY</text><text x="3822.9" y="1664" font-size="17.5" fill="#15100d" text-anchor="middle" textLength="62" lengthAdjust="spacingAndGlyphs" opacity="0.35">GO AWAY</text><text x="2696" y="1034.8" font-size="16.3" font-weight="bold" textLength="96.3" lengthAdjust="spacingAndGlyphs">Input image</text><text x="2860" y="1034.8" font-size="16.3" font-weight="bold" textLength="64" lengthAdjust="spacingAndGlyphs">Baseline</text><text x="2973" y="1034.8" font-size="16.3" font-weight="bold" textLength="133.4" lengthAdjust="spacingAndGlyphs">TransHP (coarse)</text><text x="3132" y="1034.8" font-size="16.3" font-weight="bold" textLength="112" lengthAdjust="spacingAndGlyphs">TransHP (fine)</text><text x="3329" y="1034.8" font-size="16.3" font-weight="bold" textLength="96.3" lengthAdjust="spacingAndGlyphs">Input image</text><text x="3493" y="1034.8" font-size="16.3" font-weight="bold" textLength="64" lengthAdjust="spacingAndGlyphs">Baseline</text><text x="3606.5" y="1034.8" font-size="16.3" font-weight="bold" textLength="133.4" lengthAdjust="spacingAndGlyphs">TransHP (coarse)</text><text x="3765" y="1034.8" font-size="16.3" font-weight="bold" textLength="112" lengthAdjust="spacingAndGlyphs">TransHP (fine)</text><text x="2869" y="1189.8" font-size="16.3" fill="#111" font-weight="bold" textLength="43" lengthAdjust="spacingAndGlyphs">tench</text><text x="3032" y="1189.8" font-size="16.3" fill="#111" font-weight="bold" textLength="26.6" lengthAdjust="spacingAndGlyphs">fish</text><text x="3166.5" y="1189.8" font-size="16.3" fill="#111" font-weight="bold" textLength="43" lengthAdjust="spacingAndGlyphs">tench</text><text x="3449.7" y="1189.8" font-size="16.3" fill="#111" font-weight="bold" textLength="148.2" lengthAdjust="spacingAndGlyphs">German shepsherd</text><text x="3656.7" y="1189.8" font-size="16.3" fill="#111" font-weight="bold" textLength="30.5" lengthAdjust="spacingAndGlyphs">dog</text><text x="3749" y="1189.8" font-size="16.3" fill="#111" font-weight="bold" textLength="148" lengthAdjust="spacingAndGlyphs">German shepsherd</text><text x="2876.4" y="1365.9" font-size="16.3" fill="#111" font-weight="bold" textLength="28" lengthAdjust="spacingAndGlyphs">hen</text><text x="3024.6" y="1365.9" font-size="16.3" fill="#111" font-weight="bold" textLength="30.8" lengthAdjust="spacingAndGlyphs">bird</text><text x="3171.7" y="1365.9" font-size="16.3" fill="#111" font-weight="bold" textLength="28.7" lengthAdjust="spacingAndGlyphs">hen</text><text x="3460" y="1364" font-size="12.6" fill="#111" font-weight="bold" textLength="134.5" lengthAdjust="spacingAndGlyphs">bernese mountain dog</text><text x="3656.7" y="1366" font-size="16.3" fill="#111" font-weight="bold" textLength="30.5" lengthAdjust="spacingAndGlyphs">dog</text><text x="3757.8" y="1364" font-size="12.6" fill="#111" font-weight="bold" textLength="134.6" lengthAdjust="spacingAndGlyphs">bernese mountain dog</text><text x="2866.5" y="1542.5" font-size="16.3" fill="#111" font-weight="bold" textLength="51.7" lengthAdjust="spacingAndGlyphs">ostrich</text><text x="3024.6" y="1544.6" font-size="16.3" fill="#111" font-weight="bold" textLength="30.8" lengthAdjust="spacingAndGlyphs">bird</text><text x="3163.9" y="1542.5" font-size="16.3" fill="#111" font-weight="bold" textLength="53" lengthAdjust="spacingAndGlyphs">ostrich</text><text x="3503.8" y="1542.5" font-size="16.3" fill="#111" font-weight="bold" textLength="44.4" lengthAdjust="spacingAndGlyphs">dome</text><text x="3600.5" y="1542.5" font-size="16.3" fill="#111" font-weight="bold" textLength="153" lengthAdjust="spacingAndGlyphs">protective covering</text><text x="3797.8" y="1544.6" font-size="16.3" fill="#111" font-weight="bold" textLength="45" lengthAdjust="spacingAndGlyphs">dome</text><text x="2845" y="1721.8" font-size="16.3" fill="#111" font-weight="bold" textLength="90.7" lengthAdjust="spacingAndGlyphs">house finch</text><text x="3024.6" y="1721.8" font-size="16.3" fill="#111" font-weight="bold" textLength="30.8" lengthAdjust="spacingAndGlyphs">bird</text><text x="3143.5" y="1721.8" font-size="16.3" fill="#111" font-weight="bold" textLength="90.1" lengthAdjust="spacingAndGlyphs">house finch</text><text x="3492" y="1719.2" font-size="16.3" fill="#111" font-weight="bold" textLength="68" lengthAdjust="spacingAndGlyphs">doormat</text><text x="3641.5" y="1719.2" font-size="16.3" fill="#111" font-weight="bold" textLength="67.5" lengthAdjust="spacingAndGlyphs">covering</text><text x="3790" y="1717" font-size="16.3" fill="#111" font-weight="bold" textLength="68" lengthAdjust="spacingAndGlyphs">doormat</text><svg x="2690.7" y="1843" width="112" height="112" viewBox="0 0 100 100" preserveAspectRatio="none" style="overflow:hidden"><rect x="0" y="0" width="100" height="100" fill="#2f8be6"/><g filter="url(#b1)"><rect x="0" y="0" width="100" height="22" fill="#2a84e2"/><ellipse cx="50" cy="58" rx="42" ry="32" fill="#33523c"/><ellipse cx="30" cy="50" rx="22" ry="20" fill="#3f6147"/><ellipse cx="85" cy="55" rx="16" ry="18" fill="#2f5a32"/><rect x="0" y="85" width="100" height="15" fill="#5a8a2e"/><ellipse cx="8" cy="78" rx="10" ry="6" fill="#8a4a3a"/><rect x="75" y="78" width="25" height="8" fill="#8fae4a" opacity="0.8"/></g></svg><svg x="3105.8" y="1843" width="112" height="112" viewBox="0 0 100 100" preserveAspectRatio="none" style="overflow:hidden"><rect x="0" y="0" width="100" height="100" fill="#ffffff"/><g filter="url(#b1)"><polygon points="0,62 60,62 40,100 0,100" fill="#3b4a1c"/><polygon points="20,40 70,28 72,80 30,80" fill="#8a7a38"/><polygon points="30,38 72,22 74,30 32,46" fill="#6a6a58"/><rect x="38" y="50" width="10" height="25" fill="#e8e0c8"/><rect x="56" y="35" width="3" height="45" fill="#2e6a4a"/><rect x="14" y="45" width="2.5" height="28" fill="#6a9a80"/><ellipse cx="56" cy="8" rx="12" ry="4" fill="#b0a0a0" opacity="0.8"/><polygon points="35,82 62,82 100,100 55,100" fill="#e6e2da"/></g></svg><svg x="3528.4" y="1843" width="112" height="112" viewBox="0 0 100 100" preserveAspectRatio="none" style="overflow:hidden"><rect x="0" y="0" width="100" height="100" fill="#6e7a1e"/><g filter="url(#b1)"><rect x="0" y="0" width="100" height="28" fill="#a9a43c"/><rect x="0" y="28" width="100" height="20" fill="#5d6a1c" opacity="0.8"/><ellipse cx="42" cy="62" rx="30" ry="15" fill="#2a2a20"/><ellipse cx="12" cy="62" rx="14" ry="8" fill="#3b3d28"/><ellipse cx="40" cy="52" rx="5" ry="5" fill="#15150f"/><ellipse cx="42" cy="74" rx="5" ry="5" fill="#15150f"/><ellipse cx="45" cy="62" rx="12" ry="8" fill="#5a4a28" opacity="0.8"/><rect x="0" y="82" width="100" height="18" fill="#7a8424" opacity="0.8"/></g></svg><svg x="2690.7" y="2033.2" width="112" height="112" viewBox="0 0 100 100" preserveAspectRatio="none" style="overflow:hidden"><rect x="0" y="0" width="100" height="100" fill="#959cad"/><g filter="url(#b1)"><path d="M0,88 C20,92 30,70 45,58 C62,46 68,40 72,18 C74,6 86,2 92,12 C98,22 96,50 98,60" fill="none" stroke="#3b3038" stroke-width="7" stroke-linecap="round"/><ellipse cx="25" cy="12" rx="4" ry="4" fill="#c8ccd4" opacity="0.8"/></g></svg><svg x="3105.8" y="2033.2" width="112" height="112" viewBox="0 0 100 100" preserveAspectRatio="none" style="overflow:hidden"><rect x="0" y="0" width="100" height="100" fill="#a89a88"/><g filter="url(#b1)"><rect x="0" y="0" width="100" height="14" fill="#c9bda8"/><rect x="0" y="14" width="30" height="50" fill="#8d8374"/><rect x="4" y="20" width="6" height="30" fill="#5e5a52"/><rect x="14" y="22" width="5" height="26" fill="#5e5a52"/><rect x="84" y="14" width="16" height="50" fill="#9a8e7c"/><rect x="0" y="64" width="100" height="36" fill="#8d8f93"/><rect x="0" y="60" width="24" height="10" fill="#6f7072"/><polygon points="26,16 84,12 88,84 30,90" fill="#1c5c3a"/><polygon points="30,10 82,7 84,14 28,18" fill="#d8d4c8"/><polygon points="30,18 82,14 84,52 33,56" fill="#27343a"/><polygon points="40,20 76,17 77,26 41,29" fill="#3d4a3a"/><polygon points="28,54 86,50 88,72 30,78" fill="#d9c822"/><polygon points="30,78 88,72 88,84 31,90" fill="#17603a"/><ellipse cx="44" cy="84" rx="4" ry="3" fill="#e8e4c8"/><ellipse cx="78" cy="79" rx="4" ry="3" fill="#e8e4c8"/><rect x="88" y="50" width="12" height="22" fill="#2a2a2e"/><ellipse cx="8" cy="52" rx="4" ry="12" fill="#2e2c2a"/></g></svg><svg x="3528.4" y="2033.2" width="112" height="112" viewBox="0 0 100 100" preserveAspectRatio="none" style="overflow:hidden"><rect x="0" y="0" width="100" height="100" fill="#6c9c44"/><g filter="url(#b1)"><polygon points="62,8 68,78 20,55" fill="#4b3a3a"/><ellipse cx="52" cy="52" rx="14" ry="20" fill="#5a4548" opacity="0.9"/><rect x="0" y="0" width="30" height="40" fill="#86b25a" opacity="0.7"/><rect x="75" y="30" width="25" height="50" fill="#82b054" opacity="0.7"/><ellipse cx="50" cy="95" rx="10" ry="8" fill="#ddd6cc"/><rect x="40" y="0" width="20" height="10" fill="#4e7a30" opacity="0.7"/></g></svg><svg x="2690.7" y="2230.7" width="112" height="112" viewBox="0 0 100 100" preserveAspectRatio="none" style="overflow:hidden"><rect x="0" y="0" width="100" height="100" fill="#9ab2cc"/><g filter="url(#b1)"><rect x="0" y="0" width="100" height="18" fill="#557cab"/><rect x="0" y="18" width="100" height="16" fill="#7a9ac0"/><rect x="0" y="46" width="100" height="16" fill="#dfe2e0" opacity="0.9"/><rect x="0" y="62" width="100" height="38" fill="#d9c9a6"/><rect x="0" y="88" width="100" height="12" fill="#c9b790"/><polygon points="4,50 46,58 46,63 4,55" fill="#2c2c22"/><ellipse cx="68" cy="60" rx="22" ry="10" fill="#403c2a"/><ellipse cx="62" cy="54" rx="10" ry="6" fill="#4a4632"/><ellipse cx="80" cy="55" rx="7" ry="6" fill="#55503a"/><polygon points="28,66 96,62 98,84 84,96 40,96 26,82" fill="#35352a"/><rect x="34" y="86" width="56" height="9" fill="#25251c"/><ellipse cx="62" cy="74" rx="6" ry="5" fill="#6a6a58"/><ellipse cx="44" cy="76" rx="4" ry="4" fill="#55553f"/></g></svg><svg x="3105.8" y="2230.7" width="112" height="112" viewBox="0 0 100 100" preserveAspectRatio="none" style="overflow:hidden"><rect x="0" y="0" width="100" height="100" fill="#6e8a36"/><g filter="url(#b1)"><rect x="0" y="0" width="100" height="14" fill="#8aa0b8"/><rect x="0" y="10" width="100" height="22" fill="#c9b42c"/><polygon points="60,60 100,45 100,100 40,100" fill="#8f9296"/><ellipse cx="70" cy="62" rx="22" ry="24" fill="#4a5a3a" opacity="0.9"/><ellipse cx="70" cy="62" rx="14" ry="16" fill="#6a7a4a"/><path d="M18,40 L40,75 L72,45 M30,30 L52,82" fill="none" stroke="#e2c62c" stroke-width="5"/><polygon points="12,22 38,22 36,36 14,36" fill="#e8c820"/><ellipse cx="12" cy="85" rx="14" ry="14" fill="#2a3424" opacity="0.9"/></g></svg><svg x="3528.4" y="2230.7" width="112" height="112" viewBox="0 0 100 100" preserveAspectRatio="none" style="overflow:hidden"><rect x="0" y="0" width="100" height="100" fill="#2d4f82"/><g filter="url(#b1)"><rect x="0" y="0" width="100" height="30" fill="#25477a"/><ellipse cx="55" cy="52" rx="28" ry="9" fill="#6b4230" transform="rotate(12 55 52)"/><ellipse cx="30" cy="38" rx="7" ry="8" fill="#7a4a34"/><ellipse cx="38" cy="48" rx="10" ry="12" fill="#6f4431"/><polygon points="0,78 30,62 70,66 85,100 0,100" fill="#55652c"/><polygon points="60,70 100,60 100,100 70,100" fill="#cfc8c0"/><ellipse cx="92" cy="78" rx="8" ry="10" fill="#6b4a3a"/></g></svg><rect x="2836" y="1844.5" width="209.5" height="101.9" fill="#fff" stroke="#b4b4b4" stroke-width="0.8" stroke-dasharray="1.2 0.8"/><rect x="2845.51" y="1935.19" width="7.69" height="11.21" fill="#90ee90"/><text x="2849.36" y="1952.8" font-size="5.6" fill="#222" font-family="DejaVu Sans,sans-serif" text-anchor="middle">0</text><rect x="2855.12" y="1927.34" width="7.69" height="19.06" fill="#90ee90"/><text x="2858.97" y="1952.8" font-size="5.6" fill="#222" font-family="DejaVu Sans,sans-serif" text-anchor="middle">1</text><rect x="2864.73" y="1928.26" width="7.69" height="18.14" fill="#90ee90"/><text x="2868.58" y="1952.8" font-size="5.6" fill="#222" font-family="DejaVu Sans,sans-serif" text-anchor="middle">2</text><rect x="2874.34" y="1932.54" width="7.69" height="13.86" fill="#90ee90"/><text x="2878.19" y="1952.8" font-size="5.6" fill="#222" font-family="DejaVu Sans,sans-serif" text-anchor="middle">3</text><rect x="2883.95" y="1920.72" width="7.69" height="25.68" fill="#90ee90"/><text x="2887.8" y="1952.8" font-size="5.6" fill="#222" font-family="DejaVu Sans,sans-serif" text-anchor="middle">4</text><rect x="2893.56" y="1934.27" width="7.69" height="12.13" fill="#90ee90"/><text x="2897.41" y="1952.8" font-size="5.6" fill="#222" font-family="DejaVu Sans,sans-serif" text-anchor="middle">5</text><rect x="2903.17" y="1933.46" width="7.69" height="12.94" fill="#90ee90"/><text x="2907.02" y="1952.8" font-size="5.6" fill="#222" font-family="DejaVu Sans,sans-serif" text-anchor="middle">6</text><rect x="2912.78" y="1932.24" width="7.69" height="14.16" fill="#90ee90"/><text x="2916.63" y="1952.8" font-size="5.6" fill="#222" font-family="DejaVu Sans,sans-serif" text-anchor="middle">7</text><rect x="2922.39" y="1937.33" width="7.69" height="9.07" fill="#90ee90"/><text x="2926.24" y="1952.8" font-size="5.6" fill="#222" font-family="DejaVu Sans,sans-serif" text-anchor="middle">8</text><rect x="2932" y="1932.85" width="7.69" height="13.55" fill="#90ee90"/><text x="2935.85" y="1952.8" font-size="5.6" fill="#222" font-family="DejaVu Sans,sans-serif" text-anchor="middle">9</text><rect x="2941.61" y="1919.19" width="7.69" height="27.21" fill="#90ee90"/><text x="2945.46" y="1952.8" font-size="5.6" fill="#222" font-family="DejaVu Sans,sans-serif" text-anchor="middle">10</text><rect x="2951.22" y="1941.31" width="7.69" height="5.1" fill="#90ee90"/><text x="2955.07" y="1952.8" font-size="5.6" fill="#222" font-family="DejaVu Sans,sans-serif" text-anchor="middle">11</text><rect x="2960.84" y="1934.27" width="7.69" height="12.13" fill="#90ee90"/><text x="2964.68" y="1952.8" font-size="5.6" fill="#222" font-family="DejaVu Sans,sans-serif" text-anchor="middle">12</text><rect x="2970.45" y="1933.15" width="7.69" height="13.25" fill="#90ee90"/><text x="2974.29" y="1952.8" font-size="5.6" fill="#222" font-family="DejaVu Sans,sans-serif" text-anchor="middle">13</text><rect x="2980.06" y="1933.15" width="7.69" height="13.25" fill="#90ee90"/><text x="2983.9" y="1952.8" font-size="5.6" fill="#222" font-family="DejaVu Sans,sans-serif" text-anchor="middle">14</text><rect x="2989.67" y="1940.39" width="7.69" height="6.01" fill="#90ee90"/><text x="2993.51" y="1952.8" font-size="5.6" fill="#222" font-family="DejaVu Sans,sans-serif" text-anchor="middle">15</text><rect x="2999.28" y="1931.32" width="7.69" height="15.08" fill="#90ee90"/><text x="3003.12" y="1952.8" font-size="5.6" fill="#222" font-family="DejaVu Sans,sans-serif" text-anchor="middle">16</text><rect x="3008.89" y="1849.09" width="7.69" height="97.31" fill="#fa8072"/><text x="3012.73" y="1952.8" font-size="5.6" fill="#222" font-family="DejaVu Sans,sans-serif" text-anchor="middle">17</text><rect x="3018.5" y="1943.95" width="7.69" height="2.45" fill="#90ee90"/><text x="3022.34" y="1952.8" font-size="5.6" fill="#222" font-family="DejaVu Sans,sans-serif" text-anchor="middle">18</text><rect x="3028.11" y="1938.25" width="7.69" height="8.15" fill="#90ee90"/><text x="3031.95" y="1952.8" font-size="5.6" fill="#222" font-family="DejaVu Sans,sans-serif" text-anchor="middle">19</text><line x1="2834.5" y1="1946.4" x2="2836" y2="1946.4" stroke="#444" stroke-width="0.5" /><text x="2833.5" y="1948.4" font-size="5.6" fill="#222" font-family="DejaVu Sans,sans-serif" text-anchor="end">0.00</text><line x1="2834.5" y1="1931.29" x2="2836" y2="1931.29" stroke="#444" stroke-width="0.5" /><text x="2833.5" y="1933.29" font-size="5.6" fill="#222" font-family="DejaVu Sans,sans-serif" text-anchor="end">0.05</text><line x1="2834.5" y1="1916.19" x2="2836" y2="1916.19" stroke="#444" stroke-width="0.5" /><text x="2833.5" y="1918.19" font-size="5.6" fill="#222" font-family="DejaVu Sans,sans-serif" text-anchor="end">0.10</text><line x1="2834.5" y1="1901.08" x2="2836" y2="1901.08" stroke="#444" stroke-width="0.5" /><text x="2833.5" y="1903.08" font-size="5.6" fill="#222" font-family="DejaVu Sans,sans-serif" text-anchor="end">0.15</text><line x1="2834.5" y1="1885.97" x2="2836" y2="1885.97" stroke="#444" stroke-width="0.5" /><text x="2833.5" y="1887.97" font-size="5.6" fill="#222" font-family="DejaVu Sans,sans-serif" text-anchor="end">0.20</text><line x1="2834.5" y1="1870.87" x2="2836" y2="1870.87" stroke="#444" stroke-width="0.5" /><text x="2833.5" y="1872.87" font-size="5.6" fill="#222" font-family="DejaVu Sans,sans-serif" text-anchor="end">0.25</text><line x1="2834.5" y1="1855.76" x2="2836" y2="1855.76" stroke="#444" stroke-width="0.5" /><text x="2833.5" y="1857.76" font-size="5.6" fill="#222" font-family="DejaVu Sans,sans-serif" text-anchor="end">0.30</text><text x="2940.75" y="1958.8" font-size="5.6" fill="#222" font-family="DejaVu Sans,sans-serif" text-anchor="middle">class</text><text transform="translate(2816.7,1895.45) rotate(-90)" font-size="5.6" text-anchor="middle" font-family="DejaVu Sans,sans-serif" fill="#222">attention</text><text x="2845.6" y="1981.5" font-size="21" font-family="Liberation Serif,serif" font-weight="bold">(<tspan font-style="italic">a</tspan>)</text><rect x="3258.3" y="1844.5" width="210.1" height="101.9" fill="#fff" stroke="#b4b4b4" stroke-width="0.8" stroke-dasharray="1.2 0.8"/><rect x="3267.84" y="1917.15" width="7.71" height="29.25" fill="#90ee90"/><text x="3271.7" y="1952.8" font-size="5.6" fill="#222" font-family="DejaVu Sans,sans-serif" text-anchor="middle">0</text><rect x="3277.48" y="1893.31" width="7.71" height="53.09" fill="#90ee90"/><text x="3281.33" y="1952.8" font-size="5.6" fill="#222" font-family="DejaVu Sans,sans-serif" text-anchor="middle">1</text><rect x="3287.12" y="1896.57" width="7.71" height="49.83" fill="#90ee90"/><text x="3290.97" y="1952.8" font-size="5.6" fill="#222" font-family="DejaVu Sans,sans-serif" text-anchor="middle">2</text><rect x="3296.75" y="1905.64" width="7.71" height="40.76" fill="#90ee90"/><text x="3300.61" y="1952.8" font-size="5.6" fill="#222" font-family="DejaVu Sans,sans-serif" text-anchor="middle">3</text><rect x="3306.39" y="1875.99" width="7.71" height="70.41" fill="#90ee90"/><text x="3310.25" y="1952.8" font-size="5.6" fill="#222" font-family="DejaVu Sans,sans-serif" text-anchor="middle">4</text><rect x="3316.03" y="1914.61" width="7.71" height="31.79" fill="#90ee90"/><text x="3319.88" y="1952.8" font-size="5.6" fill="#222" font-family="DejaVu Sans,sans-serif" text-anchor="middle">5</text><rect x="3325.67" y="1888.22" width="7.71" height="58.18" fill="#90ee90"/><text x="3329.52" y="1952.8" font-size="5.6" fill="#222" font-family="DejaVu Sans,sans-serif" text-anchor="middle">6</text><rect x="3335.3" y="1903.4" width="7.71" height="43" fill="#90ee90"/><text x="3339.16" y="1952.8" font-size="5.6" fill="#222" font-family="DejaVu Sans,sans-serif" text-anchor="middle">7</text><rect x="3344.94" y="1916.75" width="7.71" height="29.65" fill="#90ee90"/><text x="3348.8" y="1952.8" font-size="5.6" fill="#222" font-family="DejaVu Sans,sans-serif" text-anchor="middle">8</text><rect x="3354.58" y="1848.88" width="7.71" height="97.52" fill="#fa8072"/><text x="3358.43" y="1952.8" font-size="5.6" fill="#222" font-family="DejaVu Sans,sans-serif" text-anchor="middle">9</text><rect x="3364.22" y="1879.15" width="7.71" height="67.25" fill="#90ee90"/><text x="3368.07" y="1952.8" font-size="5.6" fill="#222" font-family="DejaVu Sans,sans-serif" text-anchor="middle">10</text><rect x="3373.86" y="1921.13" width="7.71" height="25.27" fill="#90ee90"/><text x="3377.71" y="1952.8" font-size="5.6" fill="#222" font-family="DejaVu Sans,sans-serif" text-anchor="middle">11</text><rect x="3383.49" y="1911.35" width="7.71" height="35.05" fill="#90ee90"/><text x="3387.35" y="1952.8" font-size="5.6" fill="#222" font-family="DejaVu Sans,sans-serif" text-anchor="middle">12</text><rect x="3393.13" y="1917.15" width="7.71" height="29.25" fill="#90ee90"/><text x="3396.99" y="1952.8" font-size="5.6" fill="#222" font-family="DejaVu Sans,sans-serif" text-anchor="middle">13</text><rect x="3402.77" y="1894.33" width="7.71" height="52.07" fill="#90ee90"/><text x="3406.62" y="1952.8" font-size="5.6" fill="#222" font-family="DejaVu Sans,sans-serif" text-anchor="middle">14</text><rect x="3412.41" y="1917.46" width="7.71" height="28.94" fill="#90ee90"/><text x="3416.26" y="1952.8" font-size="5.6" fill="#222" font-family="DejaVu Sans,sans-serif" text-anchor="middle">15</text><rect x="3422.04" y="1908.09" width="7.71" height="38.31" fill="#90ee90"/><text x="3425.9" y="1952.8" font-size="5.6" fill="#222" font-family="DejaVu Sans,sans-serif" text-anchor="middle">16</text><rect x="3431.68" y="1896.16" width="7.71" height="50.24" fill="#90ee90"/><text x="3435.54" y="1952.8" font-size="5.6" fill="#222" font-family="DejaVu Sans,sans-serif" text-anchor="middle">17</text><rect x="3441.32" y="1901.56" width="7.71" height="44.84" fill="#90ee90"/><text x="3445.17" y="1952.8" font-size="5.6" fill="#222" font-family="DejaVu Sans,sans-serif" text-anchor="middle">18</text><rect x="3450.96" y="1853.57" width="7.71" height="92.83" fill="#90ee90"/><text x="3454.81" y="1952.8" font-size="5.6" fill="#222" font-family="DejaVu Sans,sans-serif" text-anchor="middle">19</text><line x1="3256.8" y1="1946.4" x2="3258.3" y2="1946.4" stroke="#444" stroke-width="0.5" /><text x="3255.8" y="1948.4" font-size="5.6" fill="#222" font-family="DejaVu Sans,sans-serif" text-anchor="end">0.000</text><line x1="3256.8" y1="1933.13" x2="3258.3" y2="1933.13" stroke="#444" stroke-width="0.5" /><text x="3255.8" y="1935.13" font-size="5.6" fill="#222" font-family="DejaVu Sans,sans-serif" text-anchor="end">0.025</text><line x1="3256.8" y1="1919.87" x2="3258.3" y2="1919.87" stroke="#444" stroke-width="0.5" /><text x="3255.8" y="1921.87" font-size="5.6" fill="#222" font-family="DejaVu Sans,sans-serif" text-anchor="end">0.050</text><line x1="3256.8" y1="1906.6" x2="3258.3" y2="1906.6" stroke="#444" stroke-width="0.5" /><text x="3255.8" y="1908.6" font-size="5.6" fill="#222" font-family="DejaVu Sans,sans-serif" text-anchor="end">0.075</text><line x1="3256.8" y1="1893.33" x2="3258.3" y2="1893.33" stroke="#444" stroke-width="0.5" /><text x="3255.8" y="1895.33" font-size="5.6" fill="#222" font-family="DejaVu Sans,sans-serif" text-anchor="end">0.100</text><line x1="3256.8" y1="1880.06" x2="3258.3" y2="1880.06" stroke="#444" stroke-width="0.5" /><text x="3255.8" y="1882.06" font-size="5.6" fill="#222" font-family="DejaVu Sans,sans-serif" text-anchor="end">0.125</text><line x1="3256.8" y1="1866.8" x2="3258.3" y2="1866.8" stroke="#444" stroke-width="0.5" /><text x="3255.8" y="1868.8" font-size="5.6" fill="#222" font-family="DejaVu Sans,sans-serif" text-anchor="end">0.150</text><line x1="3256.8" y1="1853.53" x2="3258.3" y2="1853.53" stroke="#444" stroke-width="0.5" /><text x="3255.8" y="1855.53" font-size="5.6" fill="#222" font-family="DejaVu Sans,sans-serif" text-anchor="end">0.175</text><text x="3363.35" y="1958.8" font-size="5.6" fill="#222" font-family="DejaVu Sans,sans-serif" text-anchor="middle">class</text><text transform="translate(3235.3,1895.45) rotate(-90)" font-size="5.6" text-anchor="middle" font-family="DejaVu Sans,sans-serif" fill="#222">attention</text><text x="3267" y="1981.5" font-size="21" font-family="Liberation Serif,serif" font-weight="bold">(<tspan font-style="italic">b</tspan>)</text><rect x="3677" y="1844.5" width="209.4" height="101.9" fill="#fff" stroke="#b4b4b4" stroke-width="0.8" stroke-dasharray="1.2 0.8"/><rect x="3686.51" y="1848.88" width="7.68" height="97.52" fill="#fa8072"/><text x="3690.35" y="1952.8" font-size="5.6" fill="#222" font-family="DejaVu Sans,sans-serif" text-anchor="middle">0</text><rect x="3696.11" y="1924.7" width="7.68" height="21.7" fill="#90ee90"/><text x="3699.96" y="1952.8" font-size="5.6" fill="#222" font-family="DejaVu Sans,sans-serif" text-anchor="middle">1</text><rect x="3705.72" y="1928.36" width="7.68" height="18.04" fill="#90ee90"/><text x="3709.56" y="1952.8" font-size="5.6" fill="#222" font-family="DejaVu Sans,sans-serif" text-anchor="middle">2</text><rect x="3715.33" y="1929.08" width="7.68" height="17.32" fill="#90ee90"/><text x="3719.17" y="1952.8" font-size="5.6" fill="#222" font-family="DejaVu Sans,sans-serif" text-anchor="middle">3</text><rect x="3724.93" y="1914.61" width="7.68" height="31.79" fill="#90ee90"/><text x="3728.77" y="1952.8" font-size="5.6" fill="#222" font-family="DejaVu Sans,sans-serif" text-anchor="middle">4</text><rect x="3734.54" y="1931.62" width="7.68" height="14.78" fill="#90ee90"/><text x="3738.38" y="1952.8" font-size="5.6" fill="#222" font-family="DejaVu Sans,sans-serif" text-anchor="middle">5</text><rect x="3744.14" y="1931.62" width="7.68" height="14.78" fill="#90ee90"/><text x="3747.98" y="1952.8" font-size="5.6" fill="#222" font-family="DejaVu Sans,sans-serif" text-anchor="middle">6</text><rect x="3753.75" y="1928.36" width="7.68" height="18.04" fill="#90ee90"/><text x="3757.59" y="1952.8" font-size="5.6" fill="#222" font-family="DejaVu Sans,sans-serif" text-anchor="middle">7</text><rect x="3763.35" y="1931.93" width="7.68" height="14.47" fill="#90ee90"/><text x="3767.2" y="1952.8" font-size="5.6" fill="#222" font-family="DejaVu Sans,sans-serif" text-anchor="middle">8</text><rect x="3772.96" y="1927.24" width="7.68" height="19.16" fill="#90ee90"/><text x="3776.8" y="1952.8" font-size="5.6" fill="#222" font-family="DejaVu Sans,sans-serif" text-anchor="middle">9</text><rect x="3782.56" y="1918.17" width="7.68" height="28.23" fill="#90ee90"/><text x="3786.41" y="1952.8" font-size="5.6" fill="#222" font-family="DejaVu Sans,sans-serif" text-anchor="middle">10</text><rect x="3792.17" y="1935.19" width="7.68" height="11.21" fill="#90ee90"/><text x="3796.01" y="1952.8" font-size="5.6" fill="#222" font-family="DejaVu Sans,sans-serif" text-anchor="middle">11</text><rect x="3801.78" y="1929.38" width="7.68" height="17.02" fill="#90ee90"/><text x="3805.62" y="1952.8" font-size="5.6" fill="#222" font-family="DejaVu Sans,sans-serif" text-anchor="middle">12</text><rect x="3811.38" y="1935.6" width="7.68" height="10.8" fill="#90ee90"/><text x="3815.22" y="1952.8" font-size="5.6" fill="#222" font-family="DejaVu Sans,sans-serif" text-anchor="middle">13</text><rect x="3820.99" y="1923.68" width="7.68" height="22.72" fill="#90ee90"/><text x="3824.83" y="1952.8" font-size="5.6" fill="#222" font-family="DejaVu Sans,sans-serif" text-anchor="middle">14</text><rect x="3830.59" y="1922.15" width="7.68" height="24.25" fill="#90ee90"/><text x="3834.43" y="1952.8" font-size="5.6" fill="#222" font-family="DejaVu Sans,sans-serif" text-anchor="middle">15</text><rect x="3840.2" y="1922.96" width="7.68" height="23.44" fill="#90ee90"/><text x="3844.04" y="1952.8" font-size="5.6" fill="#222" font-family="DejaVu Sans,sans-serif" text-anchor="middle">16</text><rect x="3849.8" y="1923.27" width="7.68" height="23.13" fill="#90ee90"/><text x="3853.65" y="1952.8" font-size="5.6" fill="#222" font-family="DejaVu Sans,sans-serif" text-anchor="middle">17</text><rect x="3859.41" y="1941" width="7.68" height="5.4" fill="#90ee90"/><text x="3863.25" y="1952.8" font-size="5.6" fill="#222" font-family="DejaVu Sans,sans-serif" text-anchor="middle">18</text><rect x="3869.01" y="1926.53" width="7.68" height="19.87" fill="#90ee90"/><text x="3872.86" y="1952.8" font-size="5.6" fill="#222" font-family="DejaVu Sans,sans-serif" text-anchor="middle">19</text><line x1="3675.5" y1="1946.4" x2="3677" y2="1946.4" stroke="#444" stroke-width="0.5" /><text x="3674.5" y="1948.4" font-size="5.6" fill="#222" font-family="DejaVu Sans,sans-serif" text-anchor="end">0.00</text><line x1="3675.5" y1="1932.1" x2="3677" y2="1932.1" stroke="#444" stroke-width="0.5" /><text x="3674.5" y="1934.1" font-size="5.6" fill="#222" font-family="DejaVu Sans,sans-serif" text-anchor="end">0.05</text><line x1="3675.5" y1="1917.81" x2="3677" y2="1917.81" stroke="#444" stroke-width="0.5" /><text x="3674.5" y="1919.81" font-size="5.6" fill="#222" font-family="DejaVu Sans,sans-serif" text-anchor="end">0.10</text><line x1="3675.5" y1="1903.51" x2="3677" y2="1903.51" stroke="#444" stroke-width="0.5" /><text x="3674.5" y="1905.51" font-size="5.6" fill="#222" font-family="DejaVu Sans,sans-serif" text-anchor="end">0.15</text><line x1="3675.5" y1="1889.21" x2="3677" y2="1889.21" stroke="#444" stroke-width="0.5" /><text x="3674.5" y="1891.21" font-size="5.6" fill="#222" font-family="DejaVu Sans,sans-serif" text-anchor="end">0.20</text><line x1="3675.5" y1="1874.92" x2="3677" y2="1874.92" stroke="#444" stroke-width="0.5" /><text x="3674.5" y="1876.92" font-size="5.6" fill="#222" font-family="DejaVu Sans,sans-serif" text-anchor="end">0.25</text><line x1="3675.5" y1="1860.62" x2="3677" y2="1860.62" stroke="#444" stroke-width="0.5" /><text x="3674.5" y="1862.62" font-size="5.6" fill="#222" font-family="DejaVu Sans,sans-serif" text-anchor="end">0.30</text><line x1="3675.5" y1="1846.32" x2="3677" y2="1846.32" stroke="#444" stroke-width="0.5" /><text x="3674.5" y="1848.32" font-size="5.6" fill="#222" font-family="DejaVu Sans,sans-serif" text-anchor="end">0.35</text><text x="3781.7" y="1958.8" font-size="5.6" fill="#222" font-family="DejaVu Sans,sans-serif" text-anchor="middle">class</text><text transform="translate(3657.7,1895.45) rotate(-90)" font-size="5.6" text-anchor="middle" font-family="DejaVu Sans,sans-serif" fill="#222">attention</text><text x="3689.7" y="1981.5" font-size="21" font-family="Liberation Serif,serif" font-weight="bold">(<tspan font-style="italic">c</tspan>)</text><rect x="2834.8" y="2035.1" width="208.9" height="101.6" fill="#fff" stroke="#b4b4b4" stroke-width="0.8" stroke-dasharray="1.2 0.8"/><rect x="2844.29" y="2126.84" width="7.67" height="9.86" fill="#90ee90"/><text x="2848.12" y="2143.1" font-size="5.6" fill="#222" font-family="DejaVu Sans,sans-serif" text-anchor="middle">0</text><rect x="2853.87" y="2113.33" width="7.67" height="23.37" fill="#90ee90"/><text x="2857.7" y="2143.1" font-size="5.6" fill="#222" font-family="DejaVu Sans,sans-serif" text-anchor="middle">1</text><rect x="2863.45" y="2113.94" width="7.67" height="22.76" fill="#90ee90"/><text x="2867.28" y="2143.1" font-size="5.6" fill="#222" font-family="DejaVu Sans,sans-serif" text-anchor="middle">2</text><rect x="2873.03" y="2116.99" width="7.67" height="19.71" fill="#90ee90"/><text x="2876.87" y="2143.1" font-size="5.6" fill="#222" font-family="DejaVu Sans,sans-serif" text-anchor="middle">3</text><rect x="2882.62" y="2106.73" width="7.67" height="29.97" fill="#90ee90"/><text x="2886.45" y="2143.1" font-size="5.6" fill="#222" font-family="DejaVu Sans,sans-serif" text-anchor="middle">4</text><rect x="2892.2" y="2114.86" width="7.67" height="21.84" fill="#90ee90"/><text x="2896.03" y="2143.1" font-size="5.6" fill="#222" font-family="DejaVu Sans,sans-serif" text-anchor="middle">5</text><rect x="2901.78" y="2114.45" width="7.67" height="22.25" fill="#90ee90"/><text x="2905.62" y="2143.1" font-size="5.6" fill="#222" font-family="DejaVu Sans,sans-serif" text-anchor="middle">6</text><rect x="2911.36" y="2110.49" width="7.67" height="26.21" fill="#90ee90"/><text x="2915.2" y="2143.1" font-size="5.6" fill="#222" font-family="DejaVu Sans,sans-serif" text-anchor="middle">7</text><rect x="2920.95" y="2116.99" width="7.67" height="19.71" fill="#90ee90"/><text x="2924.78" y="2143.1" font-size="5.6" fill="#222" font-family="DejaVu Sans,sans-serif" text-anchor="middle">8</text><rect x="2930.53" y="2123.59" width="7.67" height="13.11" fill="#90ee90"/><text x="2934.36" y="2143.1" font-size="5.6" fill="#222" font-family="DejaVu Sans,sans-serif" text-anchor="middle">9</text><rect x="2940.11" y="2114.86" width="7.67" height="21.84" fill="#90ee90"/><text x="2943.95" y="2143.1" font-size="5.6" fill="#222" font-family="DejaVu Sans,sans-serif" text-anchor="middle">10</text><rect x="2949.7" y="2123.59" width="7.67" height="13.11" fill="#90ee90"/><text x="2953.53" y="2143.1" font-size="5.6" fill="#222" font-family="DejaVu Sans,sans-serif" text-anchor="middle">11</text><rect x="2959.28" y="2116.38" width="7.67" height="20.32" fill="#90ee90"/><text x="2963.11" y="2143.1" font-size="5.6" fill="#222" font-family="DejaVu Sans,sans-serif" text-anchor="middle">12</text><rect x="2968.86" y="2039.47" width="7.67" height="97.23" fill="#fa8072"/><text x="2972.69" y="2143.1" font-size="5.6" fill="#222" font-family="DejaVu Sans,sans-serif" text-anchor="middle">13</text><rect x="2978.44" y="2115.26" width="7.67" height="21.44" fill="#90ee90"/><text x="2982.28" y="2143.1" font-size="5.6" fill="#222" font-family="DejaVu Sans,sans-serif" text-anchor="middle">14</text><rect x="2988.03" y="2121.46" width="7.67" height="15.24" fill="#90ee90"/><text x="2991.86" y="2143.1" font-size="5.6" fill="#222" font-family="DejaVu Sans,sans-serif" text-anchor="middle">15</text><rect x="2997.61" y="2116.18" width="7.67" height="20.52" fill="#90ee90"/><text x="3001.44" y="2143.1" font-size="5.6" fill="#222" font-family="DejaVu Sans,sans-serif" text-anchor="middle">16</text><rect x="3007.19" y="2121.46" width="7.67" height="15.24" fill="#90ee90"/><text x="3011.02" y="2143.1" font-size="5.6" fill="#222" font-family="DejaVu Sans,sans-serif" text-anchor="middle">17</text><rect x="3016.77" y="2135.58" width="7.67" height="1.12" fill="#90ee90"/><text x="3020.61" y="2143.1" font-size="5.6" fill="#222" font-family="DejaVu Sans,sans-serif" text-anchor="middle">18</text><rect x="3026.36" y="2118.11" width="7.67" height="18.59" fill="#90ee90"/><text x="3030.19" y="2143.1" font-size="5.6" fill="#222" font-family="DejaVu Sans,sans-serif" text-anchor="middle">19</text><line x1="2833.3" y1="2136.7" x2="2834.8" y2="2136.7" stroke="#444" stroke-width="0.5" /><text x="2832.3" y="2138.7" font-size="5.6" fill="#222" font-family="DejaVu Sans,sans-serif" text-anchor="end">0.0</text><line x1="2833.3" y1="2114.85" x2="2834.8" y2="2114.85" stroke="#444" stroke-width="0.5" /><text x="2832.3" y="2116.85" font-size="5.6" fill="#222" font-family="DejaVu Sans,sans-serif" text-anchor="end">0.1</text><line x1="2833.3" y1="2092.99" x2="2834.8" y2="2092.99" stroke="#444" stroke-width="0.5" /><text x="2832.3" y="2094.99" font-size="5.6" fill="#222" font-family="DejaVu Sans,sans-serif" text-anchor="end">0.2</text><line x1="2833.3" y1="2071.14" x2="2834.8" y2="2071.14" stroke="#444" stroke-width="0.5" /><text x="2832.3" y="2073.14" font-size="5.6" fill="#222" font-family="DejaVu Sans,sans-serif" text-anchor="end">0.3</text><line x1="2833.3" y1="2049.28" x2="2834.8" y2="2049.28" stroke="#444" stroke-width="0.5" /><text x="2832.3" y="2051.28" font-size="5.6" fill="#222" font-family="DejaVu Sans,sans-serif" text-anchor="end">0.4</text><text x="2939.25" y="2149.1" font-size="5.6" fill="#222" font-family="DejaVu Sans,sans-serif" text-anchor="middle">class</text><text transform="translate(2819.3,2085.9) rotate(-90)" font-size="5.6" text-anchor="middle" font-family="DejaVu Sans,sans-serif" fill="#222">attention</text><text x="2845.6" y="2173" font-size="21" font-family="Liberation Serif,serif" font-weight="bold">(<tspan font-style="italic">d</tspan>)</text><rect x="3257.1" y="2035.1" width="209.5" height="101.6" fill="#fff" stroke="#b4b4b4" stroke-width="0.8" stroke-dasharray="1.2 0.8"/><rect x="3266.61" y="2116.79" width="7.69" height="19.91" fill="#90ee90"/><text x="3270.46" y="2143.1" font-size="5.6" fill="#222" font-family="DejaVu Sans,sans-serif" text-anchor="middle">0</text><rect x="3276.22" y="2115.67" width="7.69" height="21.03" fill="#90ee90"/><text x="3280.07" y="2143.1" font-size="5.6" fill="#222" font-family="DejaVu Sans,sans-serif" text-anchor="middle">1</text><rect x="3285.83" y="2118.51" width="7.69" height="18.19" fill="#90ee90"/><text x="3289.68" y="2143.1" font-size="5.6" fill="#222" font-family="DejaVu Sans,sans-serif" text-anchor="middle">2</text><rect x="3295.44" y="2117.5" width="7.69" height="19.2" fill="#90ee90"/><text x="3299.29" y="2143.1" font-size="5.6" fill="#222" font-family="DejaVu Sans,sans-serif" text-anchor="middle">3</text><rect x="3305.05" y="2104.49" width="7.69" height="32.21" fill="#90ee90"/><text x="3308.9" y="2143.1" font-size="5.6" fill="#222" font-family="DejaVu Sans,sans-serif" text-anchor="middle">4</text><rect x="3314.66" y="2124.81" width="7.69" height="11.89" fill="#90ee90"/><text x="3318.51" y="2143.1" font-size="5.6" fill="#222" font-family="DejaVu Sans,sans-serif" text-anchor="middle">5</text><rect x="3324.27" y="2118.51" width="7.69" height="18.19" fill="#90ee90"/><text x="3328.12" y="2143.1" font-size="5.6" fill="#222" font-family="DejaVu Sans,sans-serif" text-anchor="middle">6</text><rect x="3333.88" y="2114.65" width="7.69" height="22.05" fill="#90ee90"/><text x="3337.73" y="2143.1" font-size="5.6" fill="#222" font-family="DejaVu Sans,sans-serif" text-anchor="middle">7</text><rect x="3343.49" y="2124.1" width="7.69" height="12.6" fill="#90ee90"/><text x="3347.34" y="2143.1" font-size="5.6" fill="#222" font-family="DejaVu Sans,sans-serif" text-anchor="middle">8</text><rect x="3353.1" y="2127.66" width="7.69" height="9.04" fill="#90ee90"/><text x="3356.95" y="2143.1" font-size="5.6" fill="#222" font-family="DejaVu Sans,sans-serif" text-anchor="middle">9</text><rect x="3362.71" y="2107.34" width="7.69" height="29.36" fill="#90ee90"/><text x="3366.56" y="2143.1" font-size="5.6" fill="#222" font-family="DejaVu Sans,sans-serif" text-anchor="middle">10</text><rect x="3372.33" y="2129.69" width="7.69" height="7.01" fill="#90ee90"/><text x="3376.17" y="2143.1" font-size="5.6" fill="#222" font-family="DejaVu Sans,sans-serif" text-anchor="middle">11</text><rect x="3381.94" y="2118.82" width="7.69" height="17.88" fill="#90ee90"/><text x="3385.78" y="2143.1" font-size="5.6" fill="#222" font-family="DejaVu Sans,sans-serif" text-anchor="middle">12</text><rect x="3391.55" y="2118.21" width="7.69" height="18.49" fill="#90ee90"/><text x="3395.39" y="2143.1" font-size="5.6" fill="#222" font-family="DejaVu Sans,sans-serif" text-anchor="middle">13</text><rect x="3401.16" y="2122.37" width="7.69" height="14.33" fill="#90ee90"/><text x="3405" y="2143.1" font-size="5.6" fill="#222" font-family="DejaVu Sans,sans-serif" text-anchor="middle">14</text><rect x="3410.77" y="2123.09" width="7.69" height="13.61" fill="#90ee90"/><text x="3414.61" y="2143.1" font-size="5.6" fill="#222" font-family="DejaVu Sans,sans-serif" text-anchor="middle">15</text><rect x="3420.38" y="2106.63" width="7.69" height="30.07" fill="#90ee90"/><text x="3424.22" y="2143.1" font-size="5.6" fill="#222" font-family="DejaVu Sans,sans-serif" text-anchor="middle">16</text><rect x="3429.99" y="2111.5" width="7.69" height="25.2" fill="#90ee90"/><text x="3433.83" y="2143.1" font-size="5.6" fill="#222" font-family="DejaVu Sans,sans-serif" text-anchor="middle">17</text><rect x="3439.6" y="2039.47" width="7.69" height="97.23" fill="#fa8072"/><text x="3443.44" y="2143.1" font-size="5.6" fill="#222" font-family="DejaVu Sans,sans-serif" text-anchor="middle">18</text><rect x="3449.21" y="2063.24" width="7.69" height="73.46" fill="#90ee90"/><text x="3453.05" y="2143.1" font-size="5.6" fill="#222" font-family="DejaVu Sans,sans-serif" text-anchor="middle">19</text><line x1="3255.6" y1="2136.7" x2="3257.1" y2="2136.7" stroke="#444" stroke-width="0.5" /><text x="3254.6" y="2138.7" font-size="5.6" fill="#222" font-family="DejaVu Sans,sans-serif" text-anchor="end">0.00</text><line x1="3255.6" y1="2119.21" x2="3257.1" y2="2119.21" stroke="#444" stroke-width="0.5" /><text x="3254.6" y="2121.21" font-size="5.6" fill="#222" font-family="DejaVu Sans,sans-serif" text-anchor="end">0.05</text><line x1="3255.6" y1="2101.73" x2="3257.1" y2="2101.73" stroke="#444" stroke-width="0.5" /><text x="3254.6" y="2103.73" font-size="5.6" fill="#222" font-family="DejaVu Sans,sans-serif" text-anchor="end">0.10</text><line x1="3255.6" y1="2084.24" x2="3257.1" y2="2084.24" stroke="#444" stroke-width="0.5" /><text x="3254.6" y="2086.24" font-size="5.6" fill="#222" font-family="DejaVu Sans,sans-serif" text-anchor="end">0.15</text><line x1="3255.6" y1="2066.76" x2="3257.1" y2="2066.76" stroke="#444" stroke-width="0.5" /><text x="3254.6" y="2068.76" font-size="5.6" fill="#222" font-family="DejaVu Sans,sans-serif" text-anchor="end">0.20</text><line x1="3255.6" y1="2049.27" x2="3257.1" y2="2049.27" stroke="#444" stroke-width="0.5" /><text x="3254.6" y="2051.27" font-size="5.6" fill="#222" font-family="DejaVu Sans,sans-serif" text-anchor="end">0.25</text><text x="3361.85" y="2149.1" font-size="5.6" fill="#222" font-family="DejaVu Sans,sans-serif" text-anchor="middle">class</text><text transform="translate(3237.8,2085.9) rotate(-90)" font-size="5.6" text-anchor="middle" font-family="DejaVu Sans,sans-serif" fill="#222">attention</text><text x="3267" y="2173" font-size="21" font-family="Liberation Serif,serif" font-weight="bold">(<tspan font-style="italic">e</tspan>)</text><rect x="3675.8" y="2035.1" width="208.8" height="101.6" fill="#fff" stroke="#b4b4b4" stroke-width="0.8" stroke-dasharray="1.2 0.8"/><rect x="3685.28" y="2110.08" width="7.66" height="26.62" fill="#90ee90"/><text x="3689.11" y="2143.1" font-size="5.6" fill="#222" font-family="DejaVu Sans,sans-serif" text-anchor="middle">0</text><rect x="3694.86" y="2107.74" width="7.66" height="28.96" fill="#90ee90"/><text x="3698.69" y="2143.1" font-size="5.6" fill="#222" font-family="DejaVu Sans,sans-serif" text-anchor="middle">1</text><rect x="3704.44" y="2107.54" width="7.66" height="29.16" fill="#90ee90"/><text x="3708.27" y="2143.1" font-size="5.6" fill="#222" font-family="DejaVu Sans,sans-serif" text-anchor="middle">2</text><rect x="3714.02" y="2110.89" width="7.66" height="25.81" fill="#90ee90"/><text x="3717.85" y="2143.1" font-size="5.6" fill="#222" font-family="DejaVu Sans,sans-serif" text-anchor="middle">3</text><rect x="3723.59" y="2113.23" width="7.66" height="23.47" fill="#90ee90"/><text x="3727.43" y="2143.1" font-size="5.6" fill="#222" font-family="DejaVu Sans,sans-serif" text-anchor="middle">4</text><rect x="3733.17" y="2117.6" width="7.66" height="19.1" fill="#90ee90"/><text x="3737" y="2143.1" font-size="5.6" fill="#222" font-family="DejaVu Sans,sans-serif" text-anchor="middle">5</text><rect x="3742.75" y="2114.75" width="7.66" height="21.95" fill="#90ee90"/><text x="3746.58" y="2143.1" font-size="5.6" fill="#222" font-family="DejaVu Sans,sans-serif" text-anchor="middle">6</text><rect x="3752.33" y="2039.47" width="7.66" height="97.23" fill="#fa8072"/><text x="3756.16" y="2143.1" font-size="5.6" fill="#222" font-family="DejaVu Sans,sans-serif" text-anchor="middle">7</text><rect x="3761.91" y="2117.6" width="7.66" height="19.1" fill="#90ee90"/><text x="3765.74" y="2143.1" font-size="5.6" fill="#222" font-family="DejaVu Sans,sans-serif" text-anchor="middle">8</text><rect x="3771.48" y="2116.58" width="7.66" height="20.12" fill="#90ee90"/><text x="3775.32" y="2143.1" font-size="5.6" fill="#222" font-family="DejaVu Sans,sans-serif" text-anchor="middle">9</text><rect x="3781.06" y="2100.33" width="7.66" height="36.37" fill="#90ee90"/><text x="3784.89" y="2143.1" font-size="5.6" fill="#222" font-family="DejaVu Sans,sans-serif" text-anchor="middle">10</text><rect x="3790.64" y="2122.27" width="7.66" height="14.43" fill="#90ee90"/><text x="3794.47" y="2143.1" font-size="5.6" fill="#222" font-family="DejaVu Sans,sans-serif" text-anchor="middle">11</text><rect x="3800.22" y="2095.96" width="7.66" height="40.74" fill="#90ee90"/><text x="3804.05" y="2143.1" font-size="5.6" fill="#222" font-family="DejaVu Sans,sans-serif" text-anchor="middle">12</text><rect x="3809.8" y="2124.3" width="7.66" height="12.4" fill="#90ee90"/><text x="3813.63" y="2143.1" font-size="5.6" fill="#222" font-family="DejaVu Sans,sans-serif" text-anchor="middle">13</text><rect x="3819.37" y="2109.06" width="7.66" height="27.64" fill="#90ee90"/><text x="3823.21" y="2143.1" font-size="5.6" fill="#222" font-family="DejaVu Sans,sans-serif" text-anchor="middle">14</text><rect x="3828.95" y="2122.48" width="7.66" height="14.22" fill="#90ee90"/><text x="3832.78" y="2143.1" font-size="5.6" fill="#222" font-family="DejaVu Sans,sans-serif" text-anchor="middle">15</text><rect x="3838.53" y="2074.52" width="7.66" height="62.18" fill="#90ee90"/><text x="3842.36" y="2143.1" font-size="5.6" fill="#222" font-family="DejaVu Sans,sans-serif" text-anchor="middle">16</text><rect x="3848.11" y="2107.24" width="7.66" height="29.46" fill="#90ee90"/><text x="3851.94" y="2143.1" font-size="5.6" fill="#222" font-family="DejaVu Sans,sans-serif" text-anchor="middle">17</text><rect x="3857.69" y="2134.16" width="7.66" height="2.54" fill="#90ee90"/><text x="3861.52" y="2143.1" font-size="5.6" fill="#222" font-family="DejaVu Sans,sans-serif" text-anchor="middle">18</text><rect x="3867.26" y="2116.08" width="7.66" height="20.62" fill="#90ee90"/><text x="3871.1" y="2143.1" font-size="5.6" fill="#222" font-family="DejaVu Sans,sans-serif" text-anchor="middle">19</text><line x1="3674.3" y1="2136.7" x2="3675.8" y2="2136.7" stroke="#444" stroke-width="0.5" /><text x="3673.3" y="2138.7" font-size="5.6" fill="#222" font-family="DejaVu Sans,sans-serif" text-anchor="end">0.00</text><line x1="3674.3" y1="2123.8" x2="3675.8" y2="2123.8" stroke="#444" stroke-width="0.5" /><text x="3673.3" y="2125.8" font-size="5.6" fill="#222" font-family="DejaVu Sans,sans-serif" text-anchor="end">0.05</text><line x1="3674.3" y1="2110.89" x2="3675.8" y2="2110.89" stroke="#444" stroke-width="0.5" /><text x="3673.3" y="2112.89" font-size="5.6" fill="#222" font-family="DejaVu Sans,sans-serif" text-anchor="end">0.10</text><line x1="3674.3" y1="2097.99" x2="3675.8" y2="2097.99" stroke="#444" stroke-width="0.5" /><text x="3673.3" y="2099.99" font-size="5.6" fill="#222" font-family="DejaVu Sans,sans-serif" text-anchor="end">0.15</text><line x1="3674.3" y1="2085.09" x2="3675.8" y2="2085.09" stroke="#444" stroke-width="0.5" /><text x="3673.3" y="2087.09" font-size="5.6" fill="#222" font-family="DejaVu Sans,sans-serif" text-anchor="end">0.20</text><line x1="3674.3" y1="2072.18" x2="3675.8" y2="2072.18" stroke="#444" stroke-width="0.5" /><text x="3673.3" y="2074.18" font-size="5.6" fill="#222" font-family="DejaVu Sans,sans-serif" text-anchor="end">0.25</text><line x1="3674.3" y1="2059.28" x2="3675.8" y2="2059.28" stroke="#444" stroke-width="0.5" /><text x="3673.3" y="2061.28" font-size="5.6" fill="#222" font-family="DejaVu Sans,sans-serif" text-anchor="end">0.30</text><line x1="3674.3" y1="2046.38" x2="3675.8" y2="2046.38" stroke="#444" stroke-width="0.5" /><text x="3673.3" y="2048.38" font-size="5.6" fill="#222" font-family="DejaVu Sans,sans-serif" text-anchor="end">0.35</text><text x="3780.2" y="2149.1" font-size="5.6" fill="#222" font-family="DejaVu Sans,sans-serif" text-anchor="middle">class</text><text transform="translate(3656.5,2085.9) rotate(-90)" font-size="5.6" text-anchor="middle" font-family="DejaVu Sans,sans-serif" fill="#222">attention</text><text x="3689.7" y="2170" font-size="21" font-family="Liberation Serif,serif" font-weight="bold">(<tspan font-style="italic">f</tspan>)</text><rect x="2834.4" y="2232.5" width="208.9" height="101.6" fill="#fff" stroke="#b4b4b4" stroke-width="0.8" stroke-dasharray="1.2 0.8"/><rect x="2843.89" y="2317.84" width="7.67" height="16.26" fill="#90ee90"/><text x="2847.72" y="2340.5" font-size="5.6" fill="#222" font-family="DejaVu Sans,sans-serif" text-anchor="middle">0</text><rect x="2853.47" y="2317.44" width="7.67" height="16.66" fill="#90ee90"/><text x="2857.3" y="2340.5" font-size="5.6" fill="#222" font-family="DejaVu Sans,sans-serif" text-anchor="middle">1</text><rect x="2863.05" y="2315.81" width="7.67" height="18.29" fill="#90ee90"/><text x="2866.88" y="2340.5" font-size="5.6" fill="#222" font-family="DejaVu Sans,sans-serif" text-anchor="middle">2</text><rect x="2872.63" y="2313.58" width="7.67" height="20.52" fill="#90ee90"/><text x="2876.47" y="2340.5" font-size="5.6" fill="#222" font-family="DejaVu Sans,sans-serif" text-anchor="middle">3</text><rect x="2882.22" y="2311.95" width="7.67" height="22.15" fill="#90ee90"/><text x="2886.05" y="2340.5" font-size="5.6" fill="#222" font-family="DejaVu Sans,sans-serif" text-anchor="middle">4</text><rect x="2891.8" y="2316.02" width="7.67" height="18.08" fill="#90ee90"/><text x="2895.63" y="2340.5" font-size="5.6" fill="#222" font-family="DejaVu Sans,sans-serif" text-anchor="middle">5</text><rect x="2901.38" y="2312.87" width="7.67" height="21.23" fill="#90ee90"/><text x="2905.22" y="2340.5" font-size="5.6" fill="#222" font-family="DejaVu Sans,sans-serif" text-anchor="middle">6</text><rect x="2910.96" y="2316.02" width="7.67" height="18.08" fill="#90ee90"/><text x="2914.8" y="2340.5" font-size="5.6" fill="#222" font-family="DejaVu Sans,sans-serif" text-anchor="middle">7</text><rect x="2920.55" y="2322.42" width="7.67" height="11.68" fill="#90ee90"/><text x="2924.38" y="2340.5" font-size="5.6" fill="#222" font-family="DejaVu Sans,sans-serif" text-anchor="middle">8</text><rect x="2930.13" y="2315.41" width="7.67" height="18.69" fill="#90ee90"/><text x="2933.96" y="2340.5" font-size="5.6" fill="#222" font-family="DejaVu Sans,sans-serif" text-anchor="middle">9</text><rect x="2939.71" y="2308.19" width="7.67" height="25.91" fill="#90ee90"/><text x="2943.55" y="2340.5" font-size="5.6" fill="#222" font-family="DejaVu Sans,sans-serif" text-anchor="middle">10</text><rect x="2949.3" y="2325.06" width="7.67" height="9.04" fill="#90ee90"/><text x="2953.13" y="2340.5" font-size="5.6" fill="#222" font-family="DejaVu Sans,sans-serif" text-anchor="middle">11</text><rect x="2958.88" y="2320.99" width="7.67" height="13.11" fill="#90ee90"/><text x="2962.71" y="2340.5" font-size="5.6" fill="#222" font-family="DejaVu Sans,sans-serif" text-anchor="middle">12</text><rect x="2968.46" y="2319.47" width="7.67" height="14.63" fill="#90ee90"/><text x="2972.29" y="2340.5" font-size="5.6" fill="#222" font-family="DejaVu Sans,sans-serif" text-anchor="middle">13</text><rect x="2978.04" y="2316.02" width="7.67" height="18.08" fill="#90ee90"/><text x="2981.88" y="2340.5" font-size="5.6" fill="#222" font-family="DejaVu Sans,sans-serif" text-anchor="middle">14</text><rect x="2987.63" y="2322.42" width="7.67" height="11.68" fill="#90ee90"/><text x="2991.46" y="2340.5" font-size="5.6" fill="#222" font-family="DejaVu Sans,sans-serif" text-anchor="middle">15</text><rect x="2997.21" y="2318.35" width="7.67" height="15.75" fill="#90ee90"/><text x="3001.04" y="2340.5" font-size="5.6" fill="#222" font-family="DejaVu Sans,sans-serif" text-anchor="middle">16</text><rect x="3006.79" y="2310.83" width="7.67" height="23.27" fill="#90ee90"/><text x="3010.62" y="2340.5" font-size="5.6" fill="#222" font-family="DejaVu Sans,sans-serif" text-anchor="middle">17</text><rect x="3016.37" y="2329.12" width="7.67" height="4.98" fill="#90ee90"/><text x="3020.21" y="2340.5" font-size="5.6" fill="#222" font-family="DejaVu Sans,sans-serif" text-anchor="middle">18</text><rect x="3025.96" y="2237.07" width="7.67" height="97.03" fill="#fa8072"/><text x="3029.79" y="2340.5" font-size="5.6" fill="#222" font-family="DejaVu Sans,sans-serif" text-anchor="middle">19</text><line x1="2832.9" y1="2334.1" x2="2834.4" y2="2334.1" stroke="#444" stroke-width="0.5" /><text x="2831.9" y="2336.1" font-size="5.6" fill="#222" font-family="DejaVu Sans,sans-serif" text-anchor="end">0.0</text><line x1="2832.9" y1="2311.54" x2="2834.4" y2="2311.54" stroke="#444" stroke-width="0.5" /><text x="2831.9" y="2313.54" font-size="5.6" fill="#222" font-family="DejaVu Sans,sans-serif" text-anchor="end">0.1</text><line x1="2832.9" y1="2288.99" x2="2834.4" y2="2288.99" stroke="#444" stroke-width="0.5" /><text x="2831.9" y="2290.99" font-size="5.6" fill="#222" font-family="DejaVu Sans,sans-serif" text-anchor="end">0.2</text><line x1="2832.9" y1="2266.43" x2="2834.4" y2="2266.43" stroke="#444" stroke-width="0.5" /><text x="2831.9" y="2268.43" font-size="5.6" fill="#222" font-family="DejaVu Sans,sans-serif" text-anchor="end">0.3</text><line x1="2832.9" y1="2243.88" x2="2834.4" y2="2243.88" stroke="#444" stroke-width="0.5" /><text x="2831.9" y="2245.88" font-size="5.6" fill="#222" font-family="DejaVu Sans,sans-serif" text-anchor="end">0.4</text><text x="2938.85" y="2346.5" font-size="5.6" fill="#222" font-family="DejaVu Sans,sans-serif" text-anchor="middle">class</text><text transform="translate(2818.9,2283.3) rotate(-90)" font-size="5.6" text-anchor="middle" font-family="DejaVu Sans,sans-serif" fill="#222">attention</text><text x="2845.6" y="2370" font-size="21" font-family="Liberation Serif,serif" font-weight="bold">(<tspan font-style="italic">g</tspan>)</text><rect x="3256.7" y="2232.5" width="209.5" height="101.6" fill="#fff" stroke="#b4b4b4" stroke-width="0.8" stroke-dasharray="1.2 0.8"/><rect x="3266.21" y="2324.14" width="7.69" height="9.96" fill="#90ee90"/><text x="3270.06" y="2340.5" font-size="5.6" fill="#222" font-family="DejaVu Sans,sans-serif" text-anchor="middle">0</text><rect x="3275.82" y="2315" width="7.69" height="19.1" fill="#90ee90"/><text x="3279.67" y="2340.5" font-size="5.6" fill="#222" font-family="DejaVu Sans,sans-serif" text-anchor="middle">1</text><rect x="3285.43" y="2312.26" width="7.69" height="21.84" fill="#90ee90"/><text x="3289.28" y="2340.5" font-size="5.6" fill="#222" font-family="DejaVu Sans,sans-serif" text-anchor="middle">2</text><rect x="3295.04" y="2310.53" width="7.69" height="23.57" fill="#90ee90"/><text x="3298.89" y="2340.5" font-size="5.6" fill="#222" font-family="DejaVu Sans,sans-serif" text-anchor="middle">3</text><rect x="3304.65" y="2303.82" width="7.69" height="30.28" fill="#90ee90"/><text x="3308.5" y="2340.5" font-size="5.6" fill="#222" font-family="DejaVu Sans,sans-serif" text-anchor="middle">4</text><rect x="3314.26" y="2317.13" width="7.69" height="16.97" fill="#90ee90"/><text x="3318.11" y="2340.5" font-size="5.6" fill="#222" font-family="DejaVu Sans,sans-serif" text-anchor="middle">5</text><rect x="3323.87" y="2316.52" width="7.69" height="17.58" fill="#90ee90"/><text x="3327.72" y="2340.5" font-size="5.6" fill="#222" font-family="DejaVu Sans,sans-serif" text-anchor="middle">6</text><rect x="3333.48" y="2314.69" width="7.69" height="19.41" fill="#90ee90"/><text x="3337.33" y="2340.5" font-size="5.6" fill="#222" font-family="DejaVu Sans,sans-serif" text-anchor="middle">7</text><rect x="3343.09" y="2325.06" width="7.69" height="9.04" fill="#90ee90"/><text x="3346.94" y="2340.5" font-size="5.6" fill="#222" font-family="DejaVu Sans,sans-serif" text-anchor="middle">8</text><rect x="3352.7" y="2315.91" width="7.69" height="18.19" fill="#90ee90"/><text x="3356.55" y="2340.5" font-size="5.6" fill="#222" font-family="DejaVu Sans,sans-serif" text-anchor="middle">9</text><rect x="3362.31" y="2308.7" width="7.69" height="25.4" fill="#90ee90"/><text x="3366.16" y="2340.5" font-size="5.6" fill="#222" font-family="DejaVu Sans,sans-serif" text-anchor="middle">10</text><rect x="3371.93" y="2326.78" width="7.69" height="7.32" fill="#90ee90"/><text x="3375.77" y="2340.5" font-size="5.6" fill="#222" font-family="DejaVu Sans,sans-serif" text-anchor="middle">11</text><rect x="3381.54" y="2324.14" width="7.69" height="9.96" fill="#90ee90"/><text x="3385.38" y="2340.5" font-size="5.6" fill="#222" font-family="DejaVu Sans,sans-serif" text-anchor="middle">12</text><rect x="3391.15" y="2310.83" width="7.69" height="23.27" fill="#90ee90"/><text x="3394.99" y="2340.5" font-size="5.6" fill="#222" font-family="DejaVu Sans,sans-serif" text-anchor="middle">13</text><rect x="3400.76" y="2317.13" width="7.69" height="16.97" fill="#90ee90"/><text x="3404.6" y="2340.5" font-size="5.6" fill="#222" font-family="DejaVu Sans,sans-serif" text-anchor="middle">14</text><rect x="3410.37" y="2325.06" width="7.69" height="9.04" fill="#90ee90"/><text x="3414.21" y="2340.5" font-size="5.6" fill="#222" font-family="DejaVu Sans,sans-serif" text-anchor="middle">15</text><rect x="3419.98" y="2323.23" width="7.69" height="10.87" fill="#90ee90"/><text x="3423.82" y="2340.5" font-size="5.6" fill="#222" font-family="DejaVu Sans,sans-serif" text-anchor="middle">16</text><rect x="3429.59" y="2314.08" width="7.69" height="20.02" fill="#90ee90"/><text x="3433.43" y="2340.5" font-size="5.6" fill="#222" font-family="DejaVu Sans,sans-serif" text-anchor="middle">17</text><rect x="3439.2" y="2237.07" width="7.69" height="97.03" fill="#fa8072"/><text x="3443.04" y="2340.5" font-size="5.6" fill="#222" font-family="DejaVu Sans,sans-serif" text-anchor="middle">18</text><rect x="3448.81" y="2310.53" width="7.69" height="23.57" fill="#90ee90"/><text x="3452.65" y="2340.5" font-size="5.6" fill="#222" font-family="DejaVu Sans,sans-serif" text-anchor="middle">19</text><line x1="3255.2" y1="2334.1" x2="3256.7" y2="2334.1" stroke="#444" stroke-width="0.5" /><text x="3254.2" y="2336.1" font-size="5.6" fill="#222" font-family="DejaVu Sans,sans-serif" text-anchor="end">0.00</text><line x1="3255.2" y1="2318.96" x2="3256.7" y2="2318.96" stroke="#444" stroke-width="0.5" /><text x="3254.2" y="2320.96" font-size="5.6" fill="#222" font-family="DejaVu Sans,sans-serif" text-anchor="end">0.05</text><line x1="3255.2" y1="2303.82" x2="3256.7" y2="2303.82" stroke="#444" stroke-width="0.5" /><text x="3254.2" y="2305.82" font-size="5.6" fill="#222" font-family="DejaVu Sans,sans-serif" text-anchor="end">0.10</text><line x1="3255.2" y1="2288.68" x2="3256.7" y2="2288.68" stroke="#444" stroke-width="0.5" /><text x="3254.2" y="2290.68" font-size="5.6" fill="#222" font-family="DejaVu Sans,sans-serif" text-anchor="end">0.15</text><line x1="3255.2" y1="2273.55" x2="3256.7" y2="2273.55" stroke="#444" stroke-width="0.5" /><text x="3254.2" y="2275.55" font-size="5.6" fill="#222" font-family="DejaVu Sans,sans-serif" text-anchor="end">0.20</text><line x1="3255.2" y1="2258.41" x2="3256.7" y2="2258.41" stroke="#444" stroke-width="0.5" /><text x="3254.2" y="2260.41" font-size="5.6" fill="#222" font-family="DejaVu Sans,sans-serif" text-anchor="end">0.25</text><line x1="3255.2" y1="2243.27" x2="3256.7" y2="2243.27" stroke="#444" stroke-width="0.5" /><text x="3254.2" y="2245.27" font-size="5.6" fill="#222" font-family="DejaVu Sans,sans-serif" text-anchor="end">0.30</text><text x="3361.45" y="2346.5" font-size="5.6" fill="#222" font-family="DejaVu Sans,sans-serif" text-anchor="middle">class</text><text transform="translate(3237.4,2283.3) rotate(-90)" font-size="5.6" text-anchor="middle" font-family="DejaVu Sans,sans-serif" fill="#222">attention</text><text x="3267" y="2370" font-size="21" font-family="Liberation Serif,serif" font-weight="bold">(<tspan font-style="italic">h</tspan>)</text><rect x="3675.4" y="2232.5" width="208.8" height="101.6" fill="#fff" stroke="#b4b4b4" stroke-width="0.8" stroke-dasharray="1.2 0.8"/><rect x="3684.88" y="2273.34" width="7.66" height="60.76" fill="#90ee90"/><text x="3688.71" y="2340.5" font-size="5.6" fill="#222" font-family="DejaVu Sans,sans-serif" text-anchor="middle">0</text><rect x="3694.46" y="2312.46" width="7.66" height="21.64" fill="#90ee90"/><text x="3698.29" y="2340.5" font-size="5.6" fill="#222" font-family="DejaVu Sans,sans-serif" text-anchor="middle">1</text><rect x="3704.04" y="2318.35" width="7.66" height="15.75" fill="#90ee90"/><text x="3707.87" y="2340.5" font-size="5.6" fill="#222" font-family="DejaVu Sans,sans-serif" text-anchor="middle">2</text><rect x="3713.62" y="2305.65" width="7.66" height="28.45" fill="#90ee90"/><text x="3717.45" y="2340.5" font-size="5.6" fill="#222" font-family="DejaVu Sans,sans-serif" text-anchor="middle">3</text><rect x="3723.19" y="2303.32" width="7.66" height="30.78" fill="#90ee90"/><text x="3727.03" y="2340.5" font-size="5.6" fill="#222" font-family="DejaVu Sans,sans-serif" text-anchor="middle">4</text><rect x="3732.77" y="2311.24" width="7.66" height="22.86" fill="#90ee90"/><text x="3736.6" y="2340.5" font-size="5.6" fill="#222" font-family="DejaVu Sans,sans-serif" text-anchor="middle">5</text><rect x="3742.35" y="2310.43" width="7.66" height="23.67" fill="#90ee90"/><text x="3746.18" y="2340.5" font-size="5.6" fill="#222" font-family="DejaVu Sans,sans-serif" text-anchor="middle">6</text><rect x="3751.93" y="2312.46" width="7.66" height="21.64" fill="#90ee90"/><text x="3755.76" y="2340.5" font-size="5.6" fill="#222" font-family="DejaVu Sans,sans-serif" text-anchor="middle">7</text><rect x="3761.51" y="2317.13" width="7.66" height="16.97" fill="#90ee90"/><text x="3765.34" y="2340.5" font-size="5.6" fill="#222" font-family="DejaVu Sans,sans-serif" text-anchor="middle">8</text><rect x="3771.08" y="2308.09" width="7.66" height="26.01" fill="#90ee90"/><text x="3774.92" y="2340.5" font-size="5.6" fill="#222" font-family="DejaVu Sans,sans-serif" text-anchor="middle">9</text><rect x="3780.66" y="2310.83" width="7.66" height="23.27" fill="#90ee90"/><text x="3784.49" y="2340.5" font-size="5.6" fill="#222" font-family="DejaVu Sans,sans-serif" text-anchor="middle">10</text><rect x="3790.24" y="2323.03" width="7.66" height="11.07" fill="#90ee90"/><text x="3794.07" y="2340.5" font-size="5.6" fill="#222" font-family="DejaVu Sans,sans-serif" text-anchor="middle">11</text><rect x="3799.82" y="2321.91" width="7.66" height="12.19" fill="#90ee90"/><text x="3803.65" y="2340.5" font-size="5.6" fill="#222" font-family="DejaVu Sans,sans-serif" text-anchor="middle">12</text><rect x="3809.4" y="2293.87" width="7.66" height="40.23" fill="#90ee90"/><text x="3813.23" y="2340.5" font-size="5.6" fill="#222" font-family="DejaVu Sans,sans-serif" text-anchor="middle">13</text><rect x="3818.97" y="2308.09" width="7.66" height="26.01" fill="#90ee90"/><text x="3822.81" y="2340.5" font-size="5.6" fill="#222" font-family="DejaVu Sans,sans-serif" text-anchor="middle">14</text><rect x="3828.55" y="2237.48" width="7.66" height="96.62" fill="#fa8072"/><text x="3832.38" y="2340.5" font-size="5.6" fill="#222" font-family="DejaVu Sans,sans-serif" text-anchor="middle">15</text><rect x="3838.13" y="2319.88" width="7.66" height="14.22" fill="#90ee90"/><text x="3841.96" y="2340.5" font-size="5.6" fill="#222" font-family="DejaVu Sans,sans-serif" text-anchor="middle">16</text><rect x="3847.71" y="2313.17" width="7.66" height="20.93" fill="#90ee90"/><text x="3851.54" y="2340.5" font-size="5.6" fill="#222" font-family="DejaVu Sans,sans-serif" text-anchor="middle">17</text><rect x="3857.29" y="2330.14" width="7.66" height="3.96" fill="#90ee90"/><text x="3861.12" y="2340.5" font-size="5.6" fill="#222" font-family="DejaVu Sans,sans-serif" text-anchor="middle">18</text><rect x="3866.86" y="2312.46" width="7.66" height="21.64" fill="#90ee90"/><text x="3870.7" y="2340.5" font-size="5.6" fill="#222" font-family="DejaVu Sans,sans-serif" text-anchor="middle">19</text><line x1="3673.9" y1="2334.1" x2="3675.4" y2="2334.1" stroke="#444" stroke-width="0.5" /><text x="3672.9" y="2336.1" font-size="5.6" fill="#222" font-family="DejaVu Sans,sans-serif" text-anchor="end">0.00</text><line x1="3673.9" y1="2314.39" x2="3675.4" y2="2314.39" stroke="#444" stroke-width="0.5" /><text x="3672.9" y="2316.39" font-size="5.6" fill="#222" font-family="DejaVu Sans,sans-serif" text-anchor="end">0.05</text><line x1="3673.9" y1="2294.68" x2="3675.4" y2="2294.68" stroke="#444" stroke-width="0.5" /><text x="3672.9" y="2296.68" font-size="5.6" fill="#222" font-family="DejaVu Sans,sans-serif" text-anchor="end">0.10</text><line x1="3673.9" y1="2274.97" x2="3675.4" y2="2274.97" stroke="#444" stroke-width="0.5" /><text x="3672.9" y="2276.97" font-size="5.6" fill="#222" font-family="DejaVu Sans,sans-serif" text-anchor="end">0.15</text><line x1="3673.9" y1="2255.26" x2="3675.4" y2="2255.26" stroke="#444" stroke-width="0.5" /><text x="3672.9" y="2257.26" font-size="5.6" fill="#222" font-family="DejaVu Sans,sans-serif" text-anchor="end">0.20</text><line x1="3673.9" y1="2235.55" x2="3675.4" y2="2235.55" stroke="#444" stroke-width="0.5" /><text x="3672.9" y="2237.55" font-size="5.6" fill="#222" font-family="DejaVu Sans,sans-serif" text-anchor="end">0.25</text><text x="3779.8" y="2346.5" font-size="5.6" fill="#222" font-family="DejaVu Sans,sans-serif" text-anchor="middle">class</text><text transform="translate(3656.1,2283.3) rotate(-90)" font-size="5.6" text-anchor="middle" font-family="DejaVu Sans,sans-serif" fill="#222">attention</text><text x="3689.7" y="2370" font-size="21" font-family="Liberation Serif,serif" font-weight="bold">(<tspan font-style="italic">i</tspan>)</text><text x="2662" y="2551.4" font-size="42.4" fill="#595959">Welcome to:</text><text x="2661" y="2601.6" font-size="42.4" fill="#0b57d0">wangwenhao0716.github.io</text><text x="2659" y="2672.6" font-size="42.4" fill="#595959">If you have any questions, please contact:</text><text x="2657" y="2722.8" font-size="42.4" font-weight="bold">wangwenhao0716@gmail.com</text><g transform="translate(3460,2520) scale(0.13545)"><g fill="#7351a1"><ellipse cx="850" cy="190" rx="42" ry="55" transform="rotate(-15 850 190)"/><ellipse cx="978" cy="190" rx="40" ry="58" transform="rotate(10 978 190)"/><ellipse cx="1097" cy="218" rx="33" ry="48" transform="rotate(0 1097 218)"/><ellipse cx="1197" cy="262" rx="27" ry="40" transform="rotate(-5 1197 262)"/><ellipse cx="1278" cy="325" rx="22" ry="35" transform="rotate(5 1278 325)"/><ellipse cx="710" cy="215" rx="40" ry="48" transform="rotate(-40 710 215)"/><ellipse cx="583" cy="280" rx="48" ry="52" transform="rotate(-30 583 280)"/><ellipse cx="983" cy="318" rx="28" ry="36" transform="rotate(0 983 318)"/><ellipse cx="1082" cy="332" rx="24" ry="32" transform="rotate(0 1082 332)"/><ellipse cx="1165" cy="365" rx="20" ry="28" transform="rotate(10 1165 365)"/><ellipse cx="777" cy="358" rx="36" ry="38" transform="rotate(-30 777 358)"/><ellipse cx="1065" cy="418" rx="18" ry="25" transform="rotate(0 1065 418)"/><ellipse cx="907" cy="435" rx="26" ry="30" transform="rotate(0 907 435)"/><ellipse cx="985" cy="415" rx="22" ry="26" transform="rotate(0 985 415)"/><ellipse cx="470" cy="345" rx="55" ry="38" transform="rotate(25 470 345)"/><ellipse cx="393" cy="462" rx="52" ry="45" transform="rotate(20 393 462)"/><ellipse cx="548" cy="533" rx="40" ry="35" transform="rotate(20 548 533)"/><ellipse cx="757" cy="518" rx="27" ry="30" transform="rotate(0 757 518)"/><ellipse cx="667" cy="585" rx="30" ry="30" transform="rotate(0 667 585)"/><ellipse cx="390" cy="600" rx="52" ry="42" transform="rotate(15 390 600)"/><ellipse cx="1340" cy="405" rx="22" ry="30" transform="rotate(-20 1340 405)"/><ellipse cx="1393" cy="460" rx="12" ry="22" transform="rotate(-20 1393 460)"/><ellipse cx="1430" cy="503" rx="9" ry="14" transform="rotate(-20 1430 503)"/></g><g fill="none" stroke="#7351a1" stroke-width="36" stroke-linecap="round" stroke-linejoin="round"><path d="M710,215 L850,290 L978,190 M850,290 L930,380 L990,415 M470,345 L650,390 L820,465 M650,390 L667,585 M1197,262 L1230,400 L1340,405"/></g><g fill="#a17bb9"><ellipse cx="305" cy="480" rx="16" ry="9" transform="rotate(-15 305 480)"/><ellipse cx="290" cy="537" rx="25" ry="15" transform="rotate(-15 290 537)"/><ellipse cx="265" cy="607" rx="32" ry="22" transform="rotate(-15 265 607)"/><ellipse cx="228" cy="700" rx="33" ry="25" transform="rotate(-20 228 700)"/><ellipse cx="318" cy="783" rx="28" ry="20" transform="rotate(-20 318 783)"/><ellipse cx="205" cy="805" rx="35" ry="28" transform="rotate(-30 205 805)"/><ellipse cx="410" cy="843" rx="24" ry="20" transform="rotate(-20 410 843)"/><ellipse cx="328" cy="872" rx="32" ry="25" transform="rotate(-20 328 872)"/><ellipse cx="222" cy="915" rx="45" ry="35" transform="rotate(-25 222 915)"/><ellipse cx="450" cy="908" rx="24" ry="24" transform="rotate(0 450 908)"/><ellipse cx="367" cy="958" rx="36" ry="30" transform="rotate(-20 367 958)"/><ellipse cx="503" cy="968" rx="28" ry="25" transform="rotate(0 503 968)"/><ellipse cx="248" cy="1025" rx="42" ry="38" transform="rotate(-30 248 1025)"/><ellipse cx="572" cy="1028" rx="28" ry="28" transform="rotate(0 572 1028)"/><ellipse cx="652" cy="1062" rx="28" ry="28" transform="rotate(0 652 1062)"/><ellipse cx="317" cy="1140" rx="48" ry="45" transform="rotate(-30 317 1140)"/><ellipse cx="502" cy="1125" rx="38" ry="40" transform="rotate(0 502 1125)"/><ellipse cx="752" cy="1108" rx="30" ry="30" transform="rotate(0 752 1108)"/><ellipse cx="760" cy="1238" rx="36" ry="45" transform="rotate(0 760 1238)"/><ellipse cx="415" cy="1245" rx="48" ry="50" transform="rotate(-30 415 1245)"/><ellipse cx="530" cy="1330" rx="48" ry="55" transform="rotate(-20 530 1330)"/><ellipse cx="645" cy="1390" rx="45" ry="62" transform="rotate(-10 645 1390)"/><ellipse cx="775" cy="1408" rx="43" ry="58" transform="rotate(5 775 1408)"/><ellipse cx="902" cy="1345" rx="42" ry="55" transform="rotate(5 902 1345)"/></g><g fill="none" stroke="#a17bb9" stroke-width="36" stroke-linecap="round" stroke-linejoin="round"><path d="M265,607 L310,690 L205,805 M248,1025 L430,1030 L450,908 M430,1030 L415,1245 M572,1028 L600,1180 L752,1108 M600,1180 L645,1390"/></g></g><text x="3568.5" y="2625.3" font-size="29.5" fill="#2d3138" textLength="336" lengthAdjust="spacingAndGlyphs">NEURAL INFORMATION</text><text x="3568.5" y="2656" font-size="29.5" fill="#2d3138" textLength="336" lengthAdjust="spacingAndGlyphs">PROCESSING SYSTEMS</text></svg>
</body></html>
